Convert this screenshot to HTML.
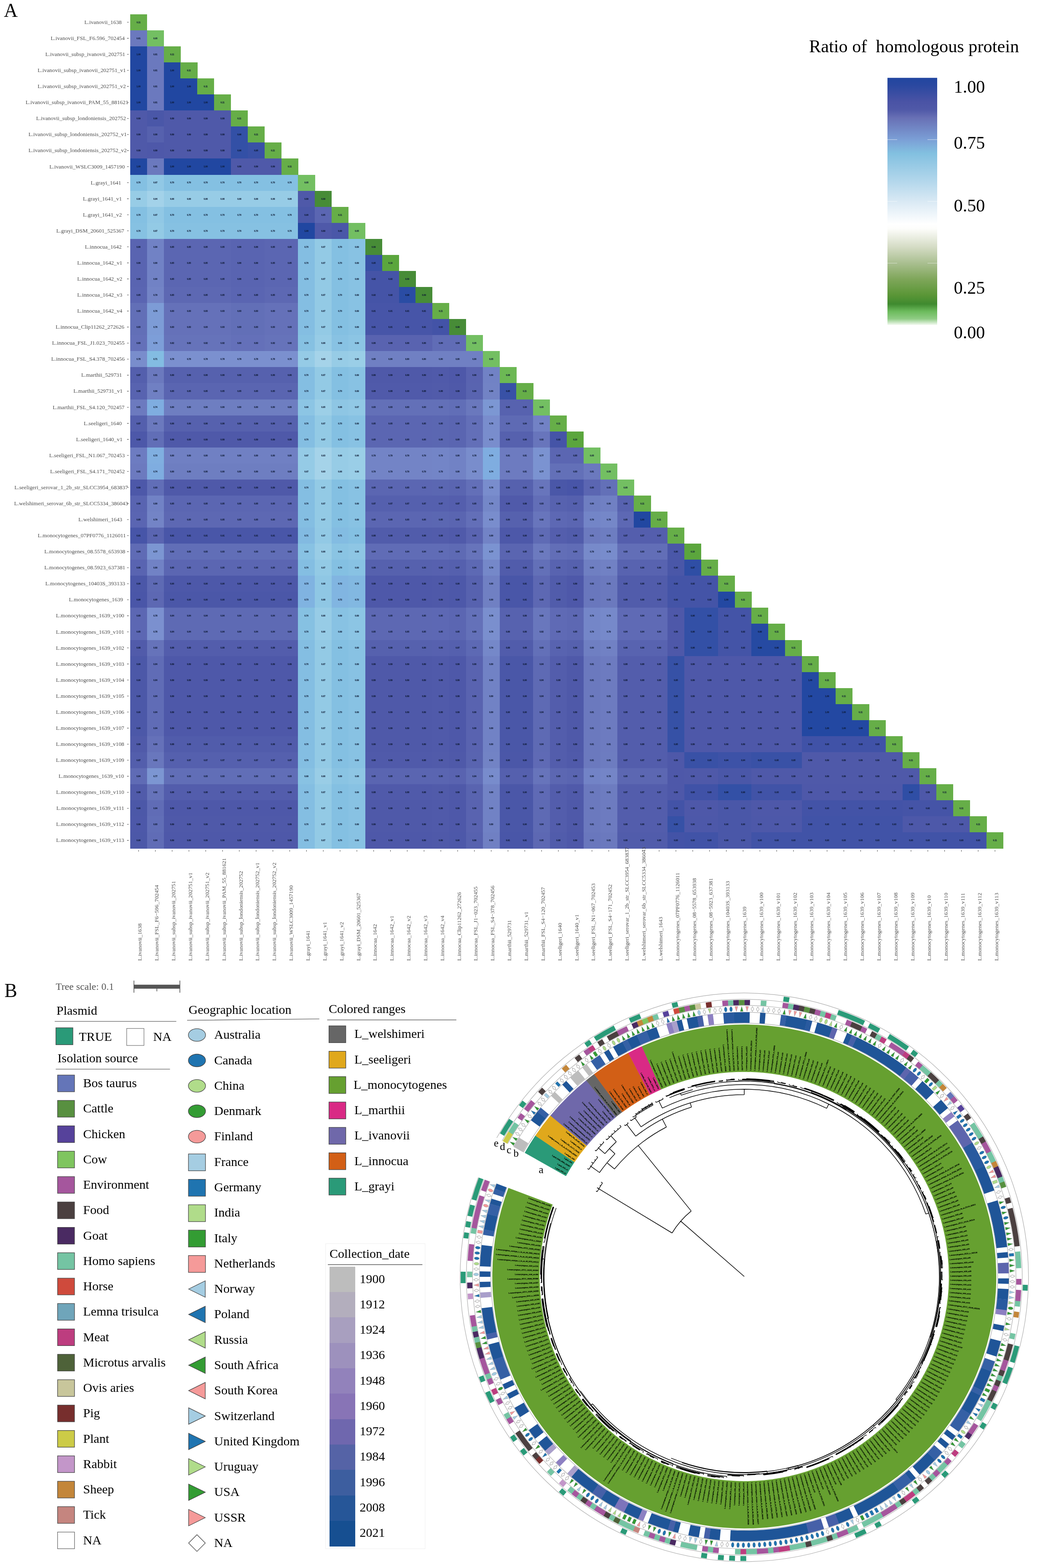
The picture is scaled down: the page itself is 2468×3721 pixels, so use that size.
<!DOCTYPE html>
<html lang="en"><head><meta charset="utf-8"><title>Listeria pan-genome figure</title>
<style>html,body{margin:0;padding:0;background:#fff}svg{display:block}</style></head><body>
<svg xmlns="http://www.w3.org/2000/svg" width="2468" height="3721" viewBox="0 0 2468 3721">
<rect width="2468" height="3721" fill="#fff"/>
<g font-family="'Liberation Serif','Times New Roman',serif" font-size="45.5" fill="#000">
<text x="9.3" y="39.5">A</text>
<text x="10.4" y="2366.3">B</text>
</g>
<g shape-rendering="crispEdges">
<rect x="308.9" y="33.8" width="40.1" height="38.4" fill="#66ae48"/>
<rect x="308.9" y="71.9" width="40.1" height="38.4" fill="#6b79be"/>
<rect x="348.8" y="71.9" width="40.1" height="38.4" fill="#73bf62"/>
<rect x="308.9" y="109.9" width="40.1" height="38.4" fill="#2147a1"/>
<rect x="348.8" y="109.9" width="40.1" height="38.4" fill="#6b79be"/>
<rect x="388.6" y="109.9" width="40.1" height="38.4" fill="#66ae48"/>
<rect x="308.9" y="148" width="40.1" height="38.4" fill="#2147a1"/>
<rect x="348.8" y="148" width="40.1" height="38.4" fill="#6b79be"/>
<rect x="388.6" y="148" width="40.1" height="38.4" fill="#2147a1"/>
<rect x="428.4" y="148" width="40.1" height="38.4" fill="#66ae48"/>
<rect x="308.9" y="186.1" width="40.1" height="38.4" fill="#2147a1"/>
<rect x="348.8" y="186.1" width="40.1" height="38.4" fill="#6b79be"/>
<rect x="388.6" y="186.1" width="80" height="38.4" fill="#2147a1"/>
<rect x="468.3" y="186.1" width="40.1" height="38.4" fill="#66ae48"/>
<rect x="308.9" y="224.1" width="40.1" height="38.4" fill="#2147a1"/>
<rect x="348.8" y="224.1" width="40.1" height="38.4" fill="#6b79be"/>
<rect x="388.6" y="224.1" width="119.8" height="38.4" fill="#2147a1"/>
<rect x="508.1" y="224.1" width="40.1" height="38.4" fill="#66ae48"/>
<rect x="308.9" y="262.2" width="40.1" height="38.4" fill="#4f59a9"/>
<rect x="348.8" y="262.2" width="40.1" height="38.4" fill="#4a57a8"/>
<rect x="388.6" y="262.2" width="159.7" height="38.4" fill="#4f59a9"/>
<rect x="548" y="262.2" width="40.1" height="38.4" fill="#66ae48"/>
<rect x="308.9" y="300.3" width="40.1" height="38.4" fill="#4f59a9"/>
<rect x="348.8" y="300.3" width="40.1" height="38.4" fill="#5661ae"/>
<rect x="388.6" y="300.3" width="159.7" height="38.4" fill="#4f59a9"/>
<rect x="548" y="300.3" width="40.1" height="38.4" fill="#3350a6"/>
<rect x="587.8" y="300.3" width="40.1" height="38.4" fill="#66ae48"/>
<rect x="308.9" y="338.4" width="40.1" height="38.4" fill="#4f59a9"/>
<rect x="348.8" y="338.4" width="40.1" height="38.4" fill="#4e58a9"/>
<rect x="388.6" y="338.4" width="159.7" height="38.4" fill="#4f59a9"/>
<rect x="548" y="338.4" width="40.1" height="38.4" fill="#3350a6"/>
<rect x="587.8" y="338.4" width="40.1" height="38.4" fill="#3951a6"/>
<rect x="627.7" y="338.4" width="40.1" height="38.4" fill="#66ae48"/>
<rect x="308.9" y="376.4" width="40.1" height="38.4" fill="#2147a1"/>
<rect x="348.8" y="376.4" width="40.1" height="38.4" fill="#6b79be"/>
<rect x="388.6" y="376.4" width="159.7" height="38.4" fill="#2147a1"/>
<rect x="548" y="376.4" width="119.8" height="38.4" fill="#4f59a9"/>
<rect x="667.5" y="376.4" width="40.1" height="38.4" fill="#66ae48"/>
<rect x="308.9" y="414.5" width="40.1" height="38.4" fill="#84c0e2"/>
<rect x="348.8" y="414.5" width="40.1" height="38.4" fill="#91c8e5"/>
<rect x="388.6" y="414.5" width="319.1" height="38.4" fill="#84c0e2"/>
<rect x="707.4" y="414.5" width="40.1" height="38.4" fill="#73bf62"/>
<rect x="308.9" y="452.6" width="40.1" height="38.4" fill="#97cce6"/>
<rect x="348.8" y="452.6" width="40.1" height="38.4" fill="#a3d2e9"/>
<rect x="388.6" y="452.6" width="319.1" height="38.4" fill="#97cce6"/>
<rect x="707.4" y="452.6" width="40.1" height="38.4" fill="#4f59a9"/>
<rect x="747.2" y="452.6" width="40.1" height="38.4" fill="#478c37"/>
<rect x="308.9" y="490.6" width="40.1" height="38.4" fill="#84c0e2"/>
<rect x="348.8" y="490.6" width="40.1" height="38.4" fill="#91c8e5"/>
<rect x="388.6" y="490.6" width="319.1" height="38.4" fill="#84c0e2"/>
<rect x="707.4" y="490.6" width="40.1" height="38.4" fill="#4a57a8"/>
<rect x="747.2" y="490.6" width="40.1" height="38.4" fill="#5b66b2"/>
<rect x="787.1" y="490.6" width="40.1" height="38.4" fill="#66ae48"/>
<rect x="308.9" y="528.7" width="40.1" height="38.4" fill="#86c1e2"/>
<rect x="348.8" y="528.7" width="40.1" height="38.4" fill="#93cae5"/>
<rect x="388.6" y="528.7" width="319.1" height="38.4" fill="#86c1e2"/>
<rect x="707.4" y="528.7" width="40.1" height="38.4" fill="#2147a1"/>
<rect x="747.2" y="528.7" width="40.1" height="38.4" fill="#4f59a9"/>
<rect x="787.1" y="528.7" width="40.1" height="38.4" fill="#4a57a8"/>
<rect x="826.9" y="528.7" width="40.1" height="38.4" fill="#73bf62"/>
<rect x="308.9" y="566.8" width="40.1" height="38.4" fill="#5964b1"/>
<rect x="348.8" y="566.8" width="40.1" height="38.4" fill="#7182c5"/>
<rect x="388.6" y="566.8" width="159.7" height="38.4" fill="#5b66b2"/>
<rect x="548" y="566.8" width="80" height="38.4" fill="#5964b1"/>
<rect x="627.7" y="566.8" width="80" height="38.4" fill="#5b66b2"/>
<rect x="707.4" y="566.8" width="40.1" height="38.4" fill="#84bee2"/>
<rect x="747.2" y="566.8" width="40.1" height="38.4" fill="#93cae5"/>
<rect x="787.1" y="566.8" width="40.1" height="38.4" fill="#84c0e2"/>
<rect x="826.9" y="566.8" width="40.1" height="38.4" fill="#88c2e3"/>
<rect x="866.8" y="566.8" width="40.1" height="38.4" fill="#478c37"/>
<rect x="308.9" y="604.8" width="40.1" height="38.4" fill="#5964b1"/>
<rect x="348.8" y="604.8" width="40.1" height="38.4" fill="#7182c5"/>
<rect x="388.6" y="604.8" width="159.7" height="38.4" fill="#5b66b2"/>
<rect x="548" y="604.8" width="80" height="38.4" fill="#5964b1"/>
<rect x="627.7" y="604.8" width="80" height="38.4" fill="#5b66b2"/>
<rect x="707.4" y="604.8" width="40.1" height="38.4" fill="#84bee2"/>
<rect x="747.2" y="604.8" width="40.1" height="38.4" fill="#93cae5"/>
<rect x="787.1" y="604.8" width="40.1" height="38.4" fill="#84c0e2"/>
<rect x="826.9" y="604.8" width="40.1" height="38.4" fill="#88c2e3"/>
<rect x="866.8" y="604.8" width="40.1" height="38.4" fill="#3851a6"/>
<rect x="906.6" y="604.8" width="40.1" height="38.4" fill="#5ba63d"/>
<rect x="308.9" y="642.9" width="40.1" height="38.4" fill="#5964b1"/>
<rect x="348.8" y="642.9" width="40.1" height="38.4" fill="#7182c5"/>
<rect x="388.6" y="642.9" width="159.7" height="38.4" fill="#5b66b2"/>
<rect x="548" y="642.9" width="80" height="38.4" fill="#5964b1"/>
<rect x="627.7" y="642.9" width="80" height="38.4" fill="#5b66b2"/>
<rect x="707.4" y="642.9" width="40.1" height="38.4" fill="#84bee2"/>
<rect x="747.2" y="642.9" width="40.1" height="38.4" fill="#93cae5"/>
<rect x="787.1" y="642.9" width="40.1" height="38.4" fill="#84c0e2"/>
<rect x="826.9" y="642.9" width="40.1" height="38.4" fill="#88c2e3"/>
<rect x="866.8" y="642.9" width="80" height="38.4" fill="#4554a7"/>
<rect x="946.5" y="642.9" width="40.1" height="38.4" fill="#478c37"/>
<rect x="308.9" y="681" width="40.1" height="38.4" fill="#5a65b2"/>
<rect x="348.8" y="681" width="40.1" height="38.4" fill="#7384c6"/>
<rect x="388.6" y="681" width="159.7" height="38.4" fill="#5d68b3"/>
<rect x="548" y="681" width="80" height="38.4" fill="#5a65b2"/>
<rect x="627.7" y="681" width="80" height="38.4" fill="#5d68b3"/>
<rect x="707.4" y="681" width="40.1" height="38.4" fill="#84bee2"/>
<rect x="747.2" y="681" width="40.1" height="38.4" fill="#93cae5"/>
<rect x="787.1" y="681" width="40.1" height="38.4" fill="#84c0e2"/>
<rect x="826.9" y="681" width="40.1" height="38.4" fill="#88c2e3"/>
<rect x="866.8" y="681" width="80" height="38.4" fill="#4554a7"/>
<rect x="946.5" y="681" width="40.1" height="38.4" fill="#2a4ca4"/>
<rect x="986.3" y="681" width="40.1" height="38.4" fill="#478c37"/>
<rect x="308.9" y="719" width="40.1" height="38.4" fill="#626fb7"/>
<rect x="348.8" y="719" width="40.1" height="38.4" fill="#7d9cd6"/>
<rect x="388.6" y="719" width="159.7" height="38.4" fill="#6571b9"/>
<rect x="548" y="719" width="80" height="38.4" fill="#626fb7"/>
<rect x="627.7" y="719" width="80" height="38.4" fill="#6571b9"/>
<rect x="707.4" y="719" width="40.1" height="38.4" fill="#84bee2"/>
<rect x="747.2" y="719" width="40.1" height="38.4" fill="#93cae5"/>
<rect x="787.1" y="719" width="40.1" height="38.4" fill="#84c0e2"/>
<rect x="826.9" y="719" width="40.1" height="38.4" fill="#88c2e3"/>
<rect x="866.8" y="719" width="159.7" height="38.4" fill="#4755a8"/>
<rect x="1026.2" y="719" width="40.1" height="38.4" fill="#66ae48"/>
<rect x="308.9" y="757.1" width="40.1" height="38.4" fill="#626fb7"/>
<rect x="348.8" y="757.1" width="40.1" height="38.4" fill="#7d9cd6"/>
<rect x="388.6" y="757.1" width="159.7" height="38.4" fill="#6571b9"/>
<rect x="548" y="757.1" width="80" height="38.4" fill="#626fb7"/>
<rect x="627.7" y="757.1" width="80" height="38.4" fill="#6571b9"/>
<rect x="707.4" y="757.1" width="40.1" height="38.4" fill="#84bee2"/>
<rect x="747.2" y="757.1" width="40.1" height="38.4" fill="#93cae5"/>
<rect x="787.1" y="757.1" width="40.1" height="38.4" fill="#84c0e2"/>
<rect x="826.9" y="757.1" width="40.1" height="38.4" fill="#88c2e3"/>
<rect x="866.8" y="757.1" width="159.7" height="38.4" fill="#4755a8"/>
<rect x="1026.2" y="757.1" width="40.1" height="38.4" fill="#4353a7"/>
<rect x="1066" y="757.1" width="40.1" height="38.4" fill="#478c37"/>
<rect x="308.9" y="795.2" width="40.1" height="38.4" fill="#6470b9"/>
<rect x="348.8" y="795.2" width="40.1" height="38.4" fill="#7d9ed8"/>
<rect x="388.6" y="795.2" width="159.7" height="38.4" fill="#6673ba"/>
<rect x="548" y="795.2" width="80" height="38.4" fill="#6470b9"/>
<rect x="627.7" y="795.2" width="80" height="38.4" fill="#6673ba"/>
<rect x="707.4" y="795.2" width="40.1" height="38.4" fill="#86c1e2"/>
<rect x="747.2" y="795.2" width="40.1" height="38.4" fill="#97cce6"/>
<rect x="787.1" y="795.2" width="40.1" height="38.4" fill="#88c2e3"/>
<rect x="826.9" y="795.2" width="40.1" height="38.4" fill="#8cc5e4"/>
<rect x="866.8" y="795.2" width="159.7" height="38.4" fill="#5963b0"/>
<rect x="1026.2" y="795.2" width="80" height="38.4" fill="#606cb6"/>
<rect x="1105.9" y="795.2" width="40.1" height="38.4" fill="#73bf62"/>
<rect x="308.9" y="833.3" width="40.1" height="38.4" fill="#798dcc"/>
<rect x="348.8" y="833.3" width="40.1" height="38.4" fill="#83bce2"/>
<rect x="388.6" y="833.3" width="319.1" height="38.4" fill="#7b90cf"/>
<rect x="707.4" y="833.3" width="40.1" height="38.4" fill="#95cbe6"/>
<rect x="747.2" y="833.3" width="40.1" height="38.4" fill="#a5d3e9"/>
<rect x="787.1" y="833.3" width="40.1" height="38.4" fill="#97cce6"/>
<rect x="826.9" y="833.3" width="40.1" height="38.4" fill="#9acee7"/>
<rect x="866.8" y="833.3" width="279.2" height="38.4" fill="#7080c3"/>
<rect x="1145.8" y="833.3" width="40.1" height="38.4" fill="#73bf62"/>
<rect x="308.9" y="871.3" width="40.1" height="38.4" fill="#545fad"/>
<rect x="348.8" y="871.3" width="40.1" height="38.4" fill="#6b79be"/>
<rect x="388.6" y="871.3" width="319.1" height="38.4" fill="#5661ae"/>
<rect x="707.4" y="871.3" width="40.1" height="38.4" fill="#84bee2"/>
<rect x="747.2" y="871.3" width="40.1" height="38.4" fill="#93cae5"/>
<rect x="787.1" y="871.3" width="40.1" height="38.4" fill="#84c0e2"/>
<rect x="826.9" y="871.3" width="40.1" height="38.4" fill="#88c2e3"/>
<rect x="866.8" y="871.3" width="159.7" height="38.4" fill="#4f59a9"/>
<rect x="1026.2" y="871.3" width="40.1" height="38.4" fill="#505aaa"/>
<rect x="1066" y="871.3" width="40.1" height="38.4" fill="#4e58a9"/>
<rect x="1105.9" y="871.3" width="40.1" height="38.4" fill="#5963b0"/>
<rect x="1145.8" y="871.3" width="40.1" height="38.4" fill="#7182c5"/>
<rect x="1185.6" y="871.3" width="40.1" height="38.4" fill="#6cb854"/>
<rect x="308.9" y="909.4" width="40.1" height="38.4" fill="#5863b0"/>
<rect x="348.8" y="909.4" width="40.1" height="38.4" fill="#7080c3"/>
<rect x="388.6" y="909.4" width="319.1" height="38.4" fill="#5a65b1"/>
<rect x="707.4" y="909.4" width="40.1" height="38.4" fill="#84bee2"/>
<rect x="747.2" y="909.4" width="40.1" height="38.4" fill="#93cae5"/>
<rect x="787.1" y="909.4" width="40.1" height="38.4" fill="#84c0e2"/>
<rect x="826.9" y="909.4" width="40.1" height="38.4" fill="#88c2e3"/>
<rect x="866.8" y="909.4" width="159.7" height="38.4" fill="#505aaa"/>
<rect x="1026.2" y="909.4" width="40.1" height="38.4" fill="#515baa"/>
<rect x="1066" y="909.4" width="40.1" height="38.4" fill="#4f59a9"/>
<rect x="1105.9" y="909.4" width="40.1" height="38.4" fill="#5964b0"/>
<rect x="1145.8" y="909.4" width="40.1" height="38.4" fill="#7283c5"/>
<rect x="1185.6" y="909.4" width="40.1" height="38.4" fill="#3851a6"/>
<rect x="1225.4" y="909.4" width="40.1" height="38.4" fill="#66ae48"/>
<rect x="308.9" y="947.5" width="40.1" height="38.4" fill="#6c7abf"/>
<rect x="348.8" y="947.5" width="40.1" height="38.4" fill="#7fade0"/>
<rect x="388.6" y="947.5" width="319.1" height="38.4" fill="#6e7ec1"/>
<rect x="707.4" y="947.5" width="40.1" height="38.4" fill="#8cc5e4"/>
<rect x="747.2" y="947.5" width="40.1" height="38.4" fill="#9ccfe7"/>
<rect x="787.1" y="947.5" width="40.1" height="38.4" fill="#8ec6e4"/>
<rect x="826.9" y="947.5" width="40.1" height="38.4" fill="#91c8e5"/>
<rect x="866.8" y="947.5" width="199.5" height="38.4" fill="#6370b8"/>
<rect x="1066" y="947.5" width="40.1" height="38.4" fill="#616eb7"/>
<rect x="1105.9" y="947.5" width="40.1" height="38.4" fill="#6a78bd"/>
<rect x="1145.8" y="947.5" width="40.1" height="38.4" fill="#7c97d3"/>
<rect x="1185.6" y="947.5" width="80" height="38.4" fill="#5762af"/>
<rect x="1265.3" y="947.5" width="40.1" height="38.4" fill="#73bf62"/>
<rect x="308.9" y="985.5" width="40.1" height="38.4" fill="#545fad"/>
<rect x="348.8" y="985.5" width="40.1" height="38.4" fill="#6b79be"/>
<rect x="388.6" y="985.5" width="319.1" height="38.4" fill="#5661ae"/>
<rect x="707.4" y="985.5" width="40.1" height="38.4" fill="#84bee2"/>
<rect x="747.2" y="985.5" width="40.1" height="38.4" fill="#93cae5"/>
<rect x="787.1" y="985.5" width="40.1" height="38.4" fill="#84c0e2"/>
<rect x="826.9" y="985.5" width="40.1" height="38.4" fill="#88c2e3"/>
<rect x="866.8" y="985.5" width="159.7" height="38.4" fill="#5b66b2"/>
<rect x="1026.2" y="985.5" width="40.1" height="38.4" fill="#5b67b2"/>
<rect x="1066" y="985.5" width="40.1" height="38.4" fill="#5a65b1"/>
<rect x="1105.9" y="985.5" width="40.1" height="38.4" fill="#636fb8"/>
<rect x="1145.8" y="985.5" width="40.1" height="38.4" fill="#798dcd"/>
<rect x="1185.6" y="985.5" width="80" height="38.4" fill="#5e6ab4"/>
<rect x="1265.3" y="985.5" width="40.1" height="38.4" fill="#7282c5"/>
<rect x="1305.1" y="985.5" width="40.1" height="38.4" fill="#66ae48"/>
<rect x="308.9" y="1023.6" width="40.1" height="38.4" fill="#4d58a9"/>
<rect x="348.8" y="1023.6" width="40.1" height="38.4" fill="#616eb7"/>
<rect x="388.6" y="1023.6" width="319.1" height="38.4" fill="#4f59a9"/>
<rect x="707.4" y="1023.6" width="40.1" height="38.4" fill="#84bee2"/>
<rect x="747.2" y="1023.6" width="40.1" height="38.4" fill="#93cae5"/>
<rect x="787.1" y="1023.6" width="40.1" height="38.4" fill="#84c0e2"/>
<rect x="826.9" y="1023.6" width="40.1" height="38.4" fill="#88c2e3"/>
<rect x="866.8" y="1023.6" width="159.7" height="38.4" fill="#5b66b2"/>
<rect x="1026.2" y="1023.6" width="40.1" height="38.4" fill="#5b67b2"/>
<rect x="1066" y="1023.6" width="40.1" height="38.4" fill="#5a65b1"/>
<rect x="1105.9" y="1023.6" width="40.1" height="38.4" fill="#636fb8"/>
<rect x="1145.8" y="1023.6" width="40.1" height="38.4" fill="#798dcd"/>
<rect x="1185.6" y="1023.6" width="80" height="38.4" fill="#5661ae"/>
<rect x="1265.3" y="1023.6" width="40.1" height="38.4" fill="#6875bc"/>
<rect x="1305.1" y="1023.6" width="40.1" height="38.4" fill="#4554a7"/>
<rect x="1345" y="1023.6" width="40.1" height="38.4" fill="#5ba63d"/>
<rect x="308.9" y="1061.7" width="40.1" height="38.4" fill="#6d7cc1"/>
<rect x="348.8" y="1061.7" width="40.1" height="38.4" fill="#80afe0"/>
<rect x="388.6" y="1061.7" width="319.1" height="38.4" fill="#7080c3"/>
<rect x="707.4" y="1061.7" width="40.1" height="38.4" fill="#95cbe6"/>
<rect x="747.2" y="1061.7" width="40.1" height="38.4" fill="#a5d3e9"/>
<rect x="787.1" y="1061.7" width="40.1" height="38.4" fill="#97cce6"/>
<rect x="826.9" y="1061.7" width="40.1" height="38.4" fill="#9acee7"/>
<rect x="866.8" y="1061.7" width="159.7" height="38.4" fill="#7384c6"/>
<rect x="1026.2" y="1061.7" width="40.1" height="38.4" fill="#7385c7"/>
<rect x="1066" y="1061.7" width="40.1" height="38.4" fill="#7182c5"/>
<rect x="1105.9" y="1061.7" width="40.1" height="38.4" fill="#798dcc"/>
<rect x="1145.8" y="1061.7" width="40.1" height="38.4" fill="#7fade0"/>
<rect x="1185.6" y="1061.7" width="80" height="38.4" fill="#6d7bc0"/>
<rect x="1265.3" y="1061.7" width="40.1" height="38.4" fill="#7b93d1"/>
<rect x="1305.1" y="1061.7" width="80" height="38.4" fill="#5b66b2"/>
<rect x="1384.8" y="1061.7" width="40.1" height="38.4" fill="#73bf62"/>
<rect x="308.9" y="1099.7" width="40.1" height="38.4" fill="#6c7abf"/>
<rect x="348.8" y="1099.7" width="40.1" height="38.4" fill="#7fade0"/>
<rect x="388.6" y="1099.7" width="319.1" height="38.4" fill="#6e7ec1"/>
<rect x="707.4" y="1099.7" width="40.1" height="38.4" fill="#95cbe6"/>
<rect x="747.2" y="1099.7" width="40.1" height="38.4" fill="#a5d3e9"/>
<rect x="787.1" y="1099.7" width="40.1" height="38.4" fill="#97cce6"/>
<rect x="826.9" y="1099.7" width="40.1" height="38.4" fill="#9acee7"/>
<rect x="866.8" y="1099.7" width="159.7" height="38.4" fill="#7384c6"/>
<rect x="1026.2" y="1099.7" width="40.1" height="38.4" fill="#7385c7"/>
<rect x="1066" y="1099.7" width="40.1" height="38.4" fill="#7182c5"/>
<rect x="1105.9" y="1099.7" width="40.1" height="38.4" fill="#798dcc"/>
<rect x="1145.8" y="1099.7" width="40.1" height="38.4" fill="#7fade0"/>
<rect x="1185.6" y="1099.7" width="80" height="38.4" fill="#6d7bc0"/>
<rect x="1265.3" y="1099.7" width="40.1" height="38.4" fill="#7b93d1"/>
<rect x="1305.1" y="1099.7" width="80" height="38.4" fill="#6370b8"/>
<rect x="1384.8" y="1099.7" width="40.1" height="38.4" fill="#6b79be"/>
<rect x="1424.7" y="1099.7" width="40.1" height="38.4" fill="#73bf62"/>
<rect x="308.9" y="1137.8" width="40.1" height="38.4" fill="#4d58a9"/>
<rect x="348.8" y="1137.8" width="40.1" height="38.4" fill="#616eb7"/>
<rect x="388.6" y="1137.8" width="319.1" height="38.4" fill="#4f59a9"/>
<rect x="707.4" y="1137.8" width="40.1" height="38.4" fill="#84bee2"/>
<rect x="747.2" y="1137.8" width="40.1" height="38.4" fill="#93cae5"/>
<rect x="787.1" y="1137.8" width="40.1" height="38.4" fill="#84c0e2"/>
<rect x="826.9" y="1137.8" width="40.1" height="38.4" fill="#88c2e3"/>
<rect x="866.8" y="1137.8" width="159.7" height="38.4" fill="#5b66b2"/>
<rect x="1026.2" y="1137.8" width="40.1" height="38.4" fill="#5b67b2"/>
<rect x="1066" y="1137.8" width="40.1" height="38.4" fill="#5a65b1"/>
<rect x="1105.9" y="1137.8" width="40.1" height="38.4" fill="#636fb8"/>
<rect x="1145.8" y="1137.8" width="40.1" height="38.4" fill="#798dcd"/>
<rect x="1185.6" y="1137.8" width="80" height="38.4" fill="#5661ae"/>
<rect x="1265.3" y="1137.8" width="40.1" height="38.4" fill="#6875bc"/>
<rect x="1305.1" y="1137.8" width="40.1" height="38.4" fill="#4a57a8"/>
<rect x="1345" y="1137.8" width="40.1" height="38.4" fill="#4855a8"/>
<rect x="1384.8" y="1137.8" width="40.1" height="38.4" fill="#5b66b2"/>
<rect x="1424.7" y="1137.8" width="40.1" height="38.4" fill="#6370b8"/>
<rect x="1464.5" y="1137.8" width="40.1" height="38.4" fill="#73bf62"/>
<rect x="308.9" y="1175.9" width="40.1" height="38.4" fill="#5964b1"/>
<rect x="348.8" y="1175.9" width="40.1" height="38.4" fill="#7182c5"/>
<rect x="388.6" y="1175.9" width="319.1" height="38.4" fill="#5b66b2"/>
<rect x="707.4" y="1175.9" width="40.1" height="38.4" fill="#84bee2"/>
<rect x="747.2" y="1175.9" width="40.1" height="38.4" fill="#93cae5"/>
<rect x="787.1" y="1175.9" width="40.1" height="38.4" fill="#84c0e2"/>
<rect x="826.9" y="1175.9" width="40.1" height="38.4" fill="#88c2e3"/>
<rect x="866.8" y="1175.9" width="199.5" height="38.4" fill="#5560ae"/>
<rect x="1066" y="1175.9" width="40.1" height="38.4" fill="#545ead"/>
<rect x="1105.9" y="1175.9" width="40.1" height="38.4" fill="#5c67b3"/>
<rect x="1145.8" y="1175.9" width="40.1" height="38.4" fill="#7487c8"/>
<rect x="1185.6" y="1175.9" width="80" height="38.4" fill="#505aaa"/>
<rect x="1265.3" y="1175.9" width="40.1" height="38.4" fill="#626eb7"/>
<rect x="1305.1" y="1175.9" width="40.1" height="38.4" fill="#5762af"/>
<rect x="1345" y="1175.9" width="40.1" height="38.4" fill="#5560ae"/>
<rect x="1384.8" y="1175.9" width="40.1" height="38.4" fill="#6e7ec1"/>
<rect x="1424.7" y="1175.9" width="40.1" height="38.4" fill="#7080c3"/>
<rect x="1464.5" y="1175.9" width="40.1" height="38.4" fill="#5762af"/>
<rect x="1504.4" y="1175.9" width="40.1" height="38.4" fill="#66ae48"/>
<rect x="308.9" y="1213.9" width="40.1" height="38.4" fill="#5a65b2"/>
<rect x="348.8" y="1213.9" width="40.1" height="38.4" fill="#7384c6"/>
<rect x="388.6" y="1213.9" width="319.1" height="38.4" fill="#5d68b3"/>
<rect x="707.4" y="1213.9" width="40.1" height="38.4" fill="#84bee2"/>
<rect x="747.2" y="1213.9" width="40.1" height="38.4" fill="#93cae5"/>
<rect x="787.1" y="1213.9" width="40.1" height="38.4" fill="#84c0e2"/>
<rect x="826.9" y="1213.9" width="40.1" height="38.4" fill="#88c2e3"/>
<rect x="866.8" y="1213.9" width="159.7" height="38.4" fill="#5b66b2"/>
<rect x="1026.2" y="1213.9" width="40.1" height="38.4" fill="#5b67b2"/>
<rect x="1066" y="1213.9" width="40.1" height="38.4" fill="#5a65b1"/>
<rect x="1105.9" y="1213.9" width="40.1" height="38.4" fill="#636fb8"/>
<rect x="1145.8" y="1213.9" width="40.1" height="38.4" fill="#798dcd"/>
<rect x="1185.6" y="1213.9" width="80" height="38.4" fill="#5661ae"/>
<rect x="1265.3" y="1213.9" width="40.1" height="38.4" fill="#6875bc"/>
<rect x="1305.1" y="1213.9" width="40.1" height="38.4" fill="#5d68b4"/>
<rect x="1345" y="1213.9" width="40.1" height="38.4" fill="#5b66b2"/>
<rect x="1384.8" y="1213.9" width="40.1" height="38.4" fill="#7385c7"/>
<rect x="1424.7" y="1213.9" width="40.1" height="38.4" fill="#7587c8"/>
<rect x="1464.5" y="1213.9" width="40.1" height="38.4" fill="#5d68b4"/>
<rect x="1504.4" y="1213.9" width="40.1" height="38.4" fill="#2147a1"/>
<rect x="1544.2" y="1213.9" width="40.1" height="38.4" fill="#66ae48"/>
<rect x="308.9" y="1252" width="40.1" height="38.4" fill="#4755a8"/>
<rect x="348.8" y="1252" width="40.1" height="38.4" fill="#5a65b1"/>
<rect x="388.6" y="1252" width="319.1" height="38.4" fill="#4956a8"/>
<rect x="707.4" y="1252" width="40.1" height="38.4" fill="#82bae1"/>
<rect x="747.2" y="1252" width="40.1" height="38.4" fill="#92c9e5"/>
<rect x="787.1" y="1252" width="40.1" height="38.4" fill="#83bce2"/>
<rect x="826.9" y="1252" width="40.1" height="38.4" fill="#84c0e2"/>
<rect x="866.8" y="1252" width="159.7" height="38.4" fill="#515cab"/>
<rect x="1026.2" y="1252" width="40.1" height="38.4" fill="#525cab"/>
<rect x="1066" y="1252" width="40.1" height="38.4" fill="#505aaa"/>
<rect x="1105.9" y="1252" width="40.1" height="38.4" fill="#5a64b1"/>
<rect x="1145.8" y="1252" width="40.1" height="38.4" fill="#7283c6"/>
<rect x="1185.6" y="1252" width="80" height="38.4" fill="#4d58a9"/>
<rect x="1265.3" y="1252" width="40.1" height="38.4" fill="#5f6bb5"/>
<rect x="1305.1" y="1252" width="40.1" height="38.4" fill="#545ead"/>
<rect x="1345" y="1252" width="40.1" height="38.4" fill="#515cab"/>
<rect x="1384.8" y="1252" width="40.1" height="38.4" fill="#6c7abf"/>
<rect x="1424.7" y="1252" width="40.1" height="38.4" fill="#6d7dc1"/>
<rect x="1464.5" y="1252" width="119.8" height="38.4" fill="#545ead"/>
<rect x="1584.1" y="1252" width="40.1" height="38.4" fill="#66ae48"/>
<rect x="308.9" y="1290.1" width="40.1" height="38.4" fill="#5f6bb5"/>
<rect x="348.8" y="1290.1" width="40.1" height="38.4" fill="#7c96d2"/>
<rect x="388.6" y="1290.1" width="319.1" height="38.4" fill="#616eb7"/>
<rect x="707.4" y="1290.1" width="40.1" height="38.4" fill="#88c2e3"/>
<rect x="747.2" y="1290.1" width="40.1" height="38.4" fill="#99cde6"/>
<rect x="787.1" y="1290.1" width="40.1" height="38.4" fill="#8ac4e3"/>
<rect x="826.9" y="1290.1" width="40.1" height="38.4" fill="#8ec6e4"/>
<rect x="866.8" y="1290.1" width="199.5" height="38.4" fill="#606cb6"/>
<rect x="1066" y="1290.1" width="40.1" height="38.4" fill="#5e6ab4"/>
<rect x="1105.9" y="1290.1" width="40.1" height="38.4" fill="#6774bb"/>
<rect x="1145.8" y="1290.1" width="40.1" height="38.4" fill="#7b93d1"/>
<rect x="1185.6" y="1290.1" width="80" height="38.4" fill="#5a65b1"/>
<rect x="1265.3" y="1290.1" width="40.1" height="38.4" fill="#6c7abf"/>
<rect x="1305.1" y="1290.1" width="40.1" height="38.4" fill="#626eb7"/>
<rect x="1345" y="1290.1" width="40.1" height="38.4" fill="#606cb6"/>
<rect x="1384.8" y="1290.1" width="40.1" height="38.4" fill="#778aca"/>
<rect x="1424.7" y="1290.1" width="40.1" height="38.4" fill="#788ccc"/>
<rect x="1464.5" y="1290.1" width="119.8" height="38.4" fill="#626eb7"/>
<rect x="1584.1" y="1290.1" width="40.1" height="38.4" fill="#4a57a8"/>
<rect x="1623.9" y="1290.1" width="40.1" height="38.4" fill="#5ba63d"/>
<rect x="308.9" y="1328.2" width="40.1" height="38.4" fill="#5964b1"/>
<rect x="348.8" y="1328.2" width="40.1" height="38.4" fill="#7182c5"/>
<rect x="388.6" y="1328.2" width="319.1" height="38.4" fill="#5b66b2"/>
<rect x="707.4" y="1328.2" width="40.1" height="38.4" fill="#84bee2"/>
<rect x="747.2" y="1328.2" width="40.1" height="38.4" fill="#93cae5"/>
<rect x="787.1" y="1328.2" width="40.1" height="38.4" fill="#84c0e2"/>
<rect x="826.9" y="1328.2" width="40.1" height="38.4" fill="#88c2e3"/>
<rect x="866.8" y="1328.2" width="159.7" height="38.4" fill="#5661ae"/>
<rect x="1026.2" y="1328.2" width="40.1" height="38.4" fill="#5761af"/>
<rect x="1066" y="1328.2" width="40.1" height="38.4" fill="#5560ae"/>
<rect x="1105.9" y="1328.2" width="40.1" height="38.4" fill="#5d69b4"/>
<rect x="1145.8" y="1328.2" width="40.1" height="38.4" fill="#7588c9"/>
<rect x="1185.6" y="1328.2" width="80" height="38.4" fill="#515cab"/>
<rect x="1265.3" y="1328.2" width="40.1" height="38.4" fill="#6370b8"/>
<rect x="1305.1" y="1328.2" width="40.1" height="38.4" fill="#5863b0"/>
<rect x="1345" y="1328.2" width="40.1" height="38.4" fill="#5661ae"/>
<rect x="1384.8" y="1328.2" width="40.1" height="38.4" fill="#6f7fc2"/>
<rect x="1424.7" y="1328.2" width="40.1" height="38.4" fill="#7181c4"/>
<rect x="1464.5" y="1328.2" width="119.8" height="38.4" fill="#5863b0"/>
<rect x="1584.1" y="1328.2" width="40.1" height="38.4" fill="#4a57a8"/>
<rect x="1623.9" y="1328.2" width="40.1" height="38.4" fill="#2f4ea5"/>
<rect x="1663.8" y="1328.2" width="40.1" height="38.4" fill="#66ae48"/>
<rect x="308.9" y="1366.2" width="40.1" height="38.4" fill="#4b57a8"/>
<rect x="348.8" y="1366.2" width="40.1" height="38.4" fill="#5e6ab4"/>
<rect x="388.6" y="1366.2" width="319.1" height="38.4" fill="#4d58a9"/>
<rect x="707.4" y="1366.2" width="40.1" height="38.4" fill="#80b3e1"/>
<rect x="747.2" y="1366.2" width="40.1" height="38.4" fill="#8fc7e4"/>
<rect x="787.1" y="1366.2" width="40.1" height="38.4" fill="#81b5e1"/>
<rect x="826.9" y="1366.2" width="40.1" height="38.4" fill="#82b8e1"/>
<rect x="866.8" y="1366.2" width="159.7" height="38.4" fill="#4e58a9"/>
<rect x="1026.2" y="1366.2" width="40.1" height="38.4" fill="#4f59a9"/>
<rect x="1066" y="1366.2" width="40.1" height="38.4" fill="#4d58a9"/>
<rect x="1105.9" y="1366.2" width="40.1" height="38.4" fill="#5762af"/>
<rect x="1145.8" y="1366.2" width="40.1" height="38.4" fill="#7080c3"/>
<rect x="1185.6" y="1366.2" width="80" height="38.4" fill="#4956a8"/>
<rect x="1265.3" y="1366.2" width="40.1" height="38.4" fill="#5d68b3"/>
<rect x="1305.1" y="1366.2" width="40.1" height="38.4" fill="#515cab"/>
<rect x="1345" y="1366.2" width="40.1" height="38.4" fill="#4e58a9"/>
<rect x="1384.8" y="1366.2" width="40.1" height="38.4" fill="#6977bd"/>
<rect x="1424.7" y="1366.2" width="40.1" height="38.4" fill="#6b79be"/>
<rect x="1464.5" y="1366.2" width="119.8" height="38.4" fill="#515cab"/>
<rect x="1584.1" y="1366.2" width="119.8" height="38.4" fill="#4454a7"/>
<rect x="1703.6" y="1366.2" width="40.1" height="38.4" fill="#66ae48"/>
<rect x="308.9" y="1404.3" width="40.1" height="38.4" fill="#4a56a8"/>
<rect x="348.8" y="1404.3" width="40.1" height="38.4" fill="#5d68b3"/>
<rect x="388.6" y="1404.3" width="319.1" height="38.4" fill="#4b57a8"/>
<rect x="707.4" y="1404.3" width="40.1" height="38.4" fill="#80b3e1"/>
<rect x="747.2" y="1404.3" width="40.1" height="38.4" fill="#8fc7e4"/>
<rect x="787.1" y="1404.3" width="40.1" height="38.4" fill="#81b5e1"/>
<rect x="826.9" y="1404.3" width="40.1" height="38.4" fill="#82b8e1"/>
<rect x="866.8" y="1404.3" width="159.7" height="38.4" fill="#4e58a9"/>
<rect x="1026.2" y="1404.3" width="40.1" height="38.4" fill="#4f59a9"/>
<rect x="1066" y="1404.3" width="40.1" height="38.4" fill="#4d58a9"/>
<rect x="1105.9" y="1404.3" width="40.1" height="38.4" fill="#5762af"/>
<rect x="1145.8" y="1404.3" width="40.1" height="38.4" fill="#7080c3"/>
<rect x="1185.6" y="1404.3" width="80" height="38.4" fill="#4956a8"/>
<rect x="1265.3" y="1404.3" width="40.1" height="38.4" fill="#5d68b3"/>
<rect x="1305.1" y="1404.3" width="40.1" height="38.4" fill="#515cab"/>
<rect x="1345" y="1404.3" width="40.1" height="38.4" fill="#4e58a9"/>
<rect x="1384.8" y="1404.3" width="40.1" height="38.4" fill="#6977bd"/>
<rect x="1424.7" y="1404.3" width="40.1" height="38.4" fill="#6b79be"/>
<rect x="1464.5" y="1404.3" width="119.8" height="38.4" fill="#515cab"/>
<rect x="1584.1" y="1404.3" width="119.8" height="38.4" fill="#4454a7"/>
<rect x="1703.6" y="1404.3" width="40.1" height="38.4" fill="#2348a2"/>
<rect x="1743.5" y="1404.3" width="40.1" height="38.4" fill="#66ae48"/>
<rect x="308.9" y="1442.4" width="40.1" height="38.4" fill="#5c67b3"/>
<rect x="348.8" y="1442.4" width="40.1" height="38.4" fill="#7b90cf"/>
<rect x="388.6" y="1442.4" width="319.1" height="38.4" fill="#5e6ab4"/>
<rect x="707.4" y="1442.4" width="40.1" height="38.4" fill="#86c1e2"/>
<rect x="747.2" y="1442.4" width="40.1" height="38.4" fill="#97cce6"/>
<rect x="787.1" y="1442.4" width="40.1" height="38.4" fill="#88c2e3"/>
<rect x="826.9" y="1442.4" width="40.1" height="38.4" fill="#8cc5e4"/>
<rect x="866.8" y="1442.4" width="159.7" height="38.4" fill="#5d68b3"/>
<rect x="1026.2" y="1442.4" width="40.1" height="38.4" fill="#5d68b4"/>
<rect x="1066" y="1442.4" width="40.1" height="38.4" fill="#5b66b2"/>
<rect x="1105.9" y="1442.4" width="40.1" height="38.4" fill="#6471b9"/>
<rect x="1145.8" y="1442.4" width="40.1" height="38.4" fill="#7a8fce"/>
<rect x="1185.6" y="1442.4" width="80" height="38.4" fill="#5762af"/>
<rect x="1265.3" y="1442.4" width="40.1" height="38.4" fill="#6977bd"/>
<rect x="1305.1" y="1442.4" width="40.1" height="38.4" fill="#5f6ab5"/>
<rect x="1345" y="1442.4" width="40.1" height="38.4" fill="#5d68b3"/>
<rect x="1384.8" y="1442.4" width="40.1" height="38.4" fill="#7486c8"/>
<rect x="1424.7" y="1442.4" width="40.1" height="38.4" fill="#7689ca"/>
<rect x="1464.5" y="1442.4" width="119.8" height="38.4" fill="#5f6ab5"/>
<rect x="1584.1" y="1442.4" width="40.1" height="38.4" fill="#4e58a9"/>
<rect x="1623.9" y="1442.4" width="80" height="38.4" fill="#3350a6"/>
<rect x="1703.6" y="1442.4" width="80" height="38.4" fill="#4454a7"/>
<rect x="1783.3" y="1442.4" width="40.1" height="38.4" fill="#66ae48"/>
<rect x="308.9" y="1480.4" width="40.1" height="38.4" fill="#5c67b3"/>
<rect x="348.8" y="1480.4" width="40.1" height="38.4" fill="#7b90cf"/>
<rect x="388.6" y="1480.4" width="319.1" height="38.4" fill="#5e6ab4"/>
<rect x="707.4" y="1480.4" width="40.1" height="38.4" fill="#86c1e2"/>
<rect x="747.2" y="1480.4" width="40.1" height="38.4" fill="#97cce6"/>
<rect x="787.1" y="1480.4" width="40.1" height="38.4" fill="#88c2e3"/>
<rect x="826.9" y="1480.4" width="40.1" height="38.4" fill="#8cc5e4"/>
<rect x="866.8" y="1480.4" width="159.7" height="38.4" fill="#5d68b3"/>
<rect x="1026.2" y="1480.4" width="40.1" height="38.4" fill="#5d68b4"/>
<rect x="1066" y="1480.4" width="40.1" height="38.4" fill="#5b66b2"/>
<rect x="1105.9" y="1480.4" width="40.1" height="38.4" fill="#6471b9"/>
<rect x="1145.8" y="1480.4" width="40.1" height="38.4" fill="#7a8fce"/>
<rect x="1185.6" y="1480.4" width="80" height="38.4" fill="#5762af"/>
<rect x="1265.3" y="1480.4" width="40.1" height="38.4" fill="#6977bd"/>
<rect x="1305.1" y="1480.4" width="40.1" height="38.4" fill="#5f6ab5"/>
<rect x="1345" y="1480.4" width="40.1" height="38.4" fill="#5d68b3"/>
<rect x="1384.8" y="1480.4" width="40.1" height="38.4" fill="#7486c8"/>
<rect x="1424.7" y="1480.4" width="40.1" height="38.4" fill="#7689ca"/>
<rect x="1464.5" y="1480.4" width="119.8" height="38.4" fill="#5f6ab5"/>
<rect x="1584.1" y="1480.4" width="40.1" height="38.4" fill="#4e58a9"/>
<rect x="1623.9" y="1480.4" width="80" height="38.4" fill="#3350a6"/>
<rect x="1703.6" y="1480.4" width="80" height="38.4" fill="#4454a7"/>
<rect x="1783.3" y="1480.4" width="40.1" height="38.4" fill="#264aa2"/>
<rect x="1823.2" y="1480.4" width="40.1" height="38.4" fill="#66ae48"/>
<rect x="308.9" y="1518.5" width="40.1" height="38.4" fill="#515baa"/>
<rect x="348.8" y="1518.5" width="40.1" height="38.4" fill="#6673ba"/>
<rect x="388.6" y="1518.5" width="319.1" height="38.4" fill="#535dac"/>
<rect x="707.4" y="1518.5" width="40.1" height="38.4" fill="#84bee2"/>
<rect x="747.2" y="1518.5" width="40.1" height="38.4" fill="#93cae5"/>
<rect x="787.1" y="1518.5" width="40.1" height="38.4" fill="#84c0e2"/>
<rect x="826.9" y="1518.5" width="40.1" height="38.4" fill="#88c2e3"/>
<rect x="866.8" y="1518.5" width="159.7" height="38.4" fill="#5661ae"/>
<rect x="1026.2" y="1518.5" width="40.1" height="38.4" fill="#5761af"/>
<rect x="1066" y="1518.5" width="40.1" height="38.4" fill="#5560ae"/>
<rect x="1105.9" y="1518.5" width="40.1" height="38.4" fill="#5d69b4"/>
<rect x="1145.8" y="1518.5" width="40.1" height="38.4" fill="#7588c9"/>
<rect x="1185.6" y="1518.5" width="80" height="38.4" fill="#515cab"/>
<rect x="1265.3" y="1518.5" width="40.1" height="38.4" fill="#6370b8"/>
<rect x="1305.1" y="1518.5" width="40.1" height="38.4" fill="#5863b0"/>
<rect x="1345" y="1518.5" width="40.1" height="38.4" fill="#5661ae"/>
<rect x="1384.8" y="1518.5" width="40.1" height="38.4" fill="#6f7fc2"/>
<rect x="1424.7" y="1518.5" width="40.1" height="38.4" fill="#7181c4"/>
<rect x="1464.5" y="1518.5" width="119.8" height="38.4" fill="#5863b0"/>
<rect x="1584.1" y="1518.5" width="40.1" height="38.4" fill="#4e58a9"/>
<rect x="1623.9" y="1518.5" width="80" height="38.4" fill="#3350a6"/>
<rect x="1703.6" y="1518.5" width="80" height="38.4" fill="#4454a7"/>
<rect x="1783.3" y="1518.5" width="80" height="38.4" fill="#264aa2"/>
<rect x="1863" y="1518.5" width="40.1" height="38.4" fill="#66ae48"/>
<rect x="308.9" y="1556.6" width="40.1" height="38.4" fill="#4c58a8"/>
<rect x="348.8" y="1556.6" width="40.1" height="38.4" fill="#606cb6"/>
<rect x="388.6" y="1556.6" width="319.1" height="38.4" fill="#4e58a9"/>
<rect x="707.4" y="1556.6" width="40.1" height="38.4" fill="#84bee2"/>
<rect x="747.2" y="1556.6" width="40.1" height="38.4" fill="#93cae5"/>
<rect x="787.1" y="1556.6" width="40.1" height="38.4" fill="#84c0e2"/>
<rect x="826.9" y="1556.6" width="40.1" height="38.4" fill="#88c2e3"/>
<rect x="866.8" y="1556.6" width="159.7" height="38.4" fill="#4f59a9"/>
<rect x="1026.2" y="1556.6" width="40.1" height="38.4" fill="#505aaa"/>
<rect x="1066" y="1556.6" width="40.1" height="38.4" fill="#4e58a9"/>
<rect x="1105.9" y="1556.6" width="40.1" height="38.4" fill="#5963b0"/>
<rect x="1145.8" y="1556.6" width="40.1" height="38.4" fill="#7182c5"/>
<rect x="1185.6" y="1556.6" width="80" height="38.4" fill="#4a57a8"/>
<rect x="1265.3" y="1556.6" width="40.1" height="38.4" fill="#5e6ab4"/>
<rect x="1305.1" y="1556.6" width="40.1" height="38.4" fill="#535dac"/>
<rect x="1345" y="1556.6" width="40.1" height="38.4" fill="#4f59a9"/>
<rect x="1384.8" y="1556.6" width="40.1" height="38.4" fill="#6b79be"/>
<rect x="1424.7" y="1556.6" width="40.1" height="38.4" fill="#6d7bc0"/>
<rect x="1464.5" y="1556.6" width="119.8" height="38.4" fill="#535dac"/>
<rect x="1584.1" y="1556.6" width="40.1" height="38.4" fill="#3651a6"/>
<rect x="1623.9" y="1556.6" width="279.2" height="38.4" fill="#4e58a9"/>
<rect x="1902.9" y="1556.6" width="40.1" height="38.4" fill="#66ae48"/>
<rect x="308.9" y="1594.6" width="40.1" height="38.4" fill="#4c58a8"/>
<rect x="348.8" y="1594.6" width="40.1" height="38.4" fill="#606cb6"/>
<rect x="388.6" y="1594.6" width="319.1" height="38.4" fill="#4e58a9"/>
<rect x="707.4" y="1594.6" width="40.1" height="38.4" fill="#84bee2"/>
<rect x="747.2" y="1594.6" width="40.1" height="38.4" fill="#93cae5"/>
<rect x="787.1" y="1594.6" width="40.1" height="38.4" fill="#84c0e2"/>
<rect x="826.9" y="1594.6" width="40.1" height="38.4" fill="#88c2e3"/>
<rect x="866.8" y="1594.6" width="159.7" height="38.4" fill="#4f59a9"/>
<rect x="1026.2" y="1594.6" width="40.1" height="38.4" fill="#505aaa"/>
<rect x="1066" y="1594.6" width="40.1" height="38.4" fill="#4e58a9"/>
<rect x="1105.9" y="1594.6" width="40.1" height="38.4" fill="#5963b0"/>
<rect x="1145.8" y="1594.6" width="40.1" height="38.4" fill="#7182c5"/>
<rect x="1185.6" y="1594.6" width="80" height="38.4" fill="#4a57a8"/>
<rect x="1265.3" y="1594.6" width="40.1" height="38.4" fill="#5e6ab4"/>
<rect x="1305.1" y="1594.6" width="40.1" height="38.4" fill="#535dac"/>
<rect x="1345" y="1594.6" width="40.1" height="38.4" fill="#4f59a9"/>
<rect x="1384.8" y="1594.6" width="40.1" height="38.4" fill="#6b79be"/>
<rect x="1424.7" y="1594.6" width="40.1" height="38.4" fill="#6d7bc0"/>
<rect x="1464.5" y="1594.6" width="119.8" height="38.4" fill="#535dac"/>
<rect x="1584.1" y="1594.6" width="40.1" height="38.4" fill="#3651a6"/>
<rect x="1623.9" y="1594.6" width="279.2" height="38.4" fill="#4e58a9"/>
<rect x="1902.9" y="1594.6" width="40.1" height="38.4" fill="#2348a2"/>
<rect x="1942.7" y="1594.6" width="40.1" height="38.4" fill="#66ae48"/>
<rect x="308.9" y="1632.7" width="40.1" height="38.4" fill="#4c58a8"/>
<rect x="348.8" y="1632.7" width="40.1" height="38.4" fill="#606cb6"/>
<rect x="388.6" y="1632.7" width="319.1" height="38.4" fill="#4e58a9"/>
<rect x="707.4" y="1632.7" width="40.1" height="38.4" fill="#84bee2"/>
<rect x="747.2" y="1632.7" width="40.1" height="38.4" fill="#93cae5"/>
<rect x="787.1" y="1632.7" width="40.1" height="38.4" fill="#84c0e2"/>
<rect x="826.9" y="1632.7" width="40.1" height="38.4" fill="#88c2e3"/>
<rect x="866.8" y="1632.7" width="159.7" height="38.4" fill="#4f59a9"/>
<rect x="1026.2" y="1632.7" width="40.1" height="38.4" fill="#505aaa"/>
<rect x="1066" y="1632.7" width="40.1" height="38.4" fill="#4e58a9"/>
<rect x="1105.9" y="1632.7" width="40.1" height="38.4" fill="#5963b0"/>
<rect x="1145.8" y="1632.7" width="40.1" height="38.4" fill="#7182c5"/>
<rect x="1185.6" y="1632.7" width="80" height="38.4" fill="#4a57a8"/>
<rect x="1265.3" y="1632.7" width="40.1" height="38.4" fill="#5e6ab4"/>
<rect x="1305.1" y="1632.7" width="40.1" height="38.4" fill="#535dac"/>
<rect x="1345" y="1632.7" width="40.1" height="38.4" fill="#4f59a9"/>
<rect x="1384.8" y="1632.7" width="40.1" height="38.4" fill="#6b79be"/>
<rect x="1424.7" y="1632.7" width="40.1" height="38.4" fill="#6d7bc0"/>
<rect x="1464.5" y="1632.7" width="119.8" height="38.4" fill="#535dac"/>
<rect x="1584.1" y="1632.7" width="40.1" height="38.4" fill="#3651a6"/>
<rect x="1623.9" y="1632.7" width="279.2" height="38.4" fill="#4e58a9"/>
<rect x="1902.9" y="1632.7" width="80" height="38.4" fill="#2348a2"/>
<rect x="1982.6" y="1632.7" width="40.1" height="38.4" fill="#66ae48"/>
<rect x="308.9" y="1670.8" width="40.1" height="38.4" fill="#4c58a8"/>
<rect x="348.8" y="1670.8" width="40.1" height="38.4" fill="#606cb6"/>
<rect x="388.6" y="1670.8" width="319.1" height="38.4" fill="#4e58a9"/>
<rect x="707.4" y="1670.8" width="40.1" height="38.4" fill="#84bee2"/>
<rect x="747.2" y="1670.8" width="40.1" height="38.4" fill="#93cae5"/>
<rect x="787.1" y="1670.8" width="40.1" height="38.4" fill="#84c0e2"/>
<rect x="826.9" y="1670.8" width="40.1" height="38.4" fill="#88c2e3"/>
<rect x="866.8" y="1670.8" width="159.7" height="38.4" fill="#4f59a9"/>
<rect x="1026.2" y="1670.8" width="40.1" height="38.4" fill="#505aaa"/>
<rect x="1066" y="1670.8" width="40.1" height="38.4" fill="#4e58a9"/>
<rect x="1105.9" y="1670.8" width="40.1" height="38.4" fill="#5963b0"/>
<rect x="1145.8" y="1670.8" width="40.1" height="38.4" fill="#7182c5"/>
<rect x="1185.6" y="1670.8" width="80" height="38.4" fill="#4a57a8"/>
<rect x="1265.3" y="1670.8" width="40.1" height="38.4" fill="#5e6ab4"/>
<rect x="1305.1" y="1670.8" width="40.1" height="38.4" fill="#535dac"/>
<rect x="1345" y="1670.8" width="40.1" height="38.4" fill="#4f59a9"/>
<rect x="1384.8" y="1670.8" width="40.1" height="38.4" fill="#6b79be"/>
<rect x="1424.7" y="1670.8" width="40.1" height="38.4" fill="#6d7bc0"/>
<rect x="1464.5" y="1670.8" width="119.8" height="38.4" fill="#535dac"/>
<rect x="1584.1" y="1670.8" width="40.1" height="38.4" fill="#3651a6"/>
<rect x="1623.9" y="1670.8" width="279.2" height="38.4" fill="#4e58a9"/>
<rect x="1902.9" y="1670.8" width="119.8" height="38.4" fill="#2348a2"/>
<rect x="2022.4" y="1670.8" width="40.1" height="38.4" fill="#66ae48"/>
<rect x="308.9" y="1708.8" width="40.1" height="38.4" fill="#4c58a8"/>
<rect x="348.8" y="1708.8" width="40.1" height="38.4" fill="#606cb6"/>
<rect x="388.6" y="1708.8" width="319.1" height="38.4" fill="#4e58a9"/>
<rect x="707.4" y="1708.8" width="40.1" height="38.4" fill="#84bee2"/>
<rect x="747.2" y="1708.8" width="40.1" height="38.4" fill="#93cae5"/>
<rect x="787.1" y="1708.8" width="40.1" height="38.4" fill="#84c0e2"/>
<rect x="826.9" y="1708.8" width="40.1" height="38.4" fill="#88c2e3"/>
<rect x="866.8" y="1708.8" width="159.7" height="38.4" fill="#4f59a9"/>
<rect x="1026.2" y="1708.8" width="40.1" height="38.4" fill="#505aaa"/>
<rect x="1066" y="1708.8" width="40.1" height="38.4" fill="#4e58a9"/>
<rect x="1105.9" y="1708.8" width="40.1" height="38.4" fill="#5963b0"/>
<rect x="1145.8" y="1708.8" width="40.1" height="38.4" fill="#7182c5"/>
<rect x="1185.6" y="1708.8" width="80" height="38.4" fill="#4a57a8"/>
<rect x="1265.3" y="1708.8" width="40.1" height="38.4" fill="#5e6ab4"/>
<rect x="1305.1" y="1708.8" width="40.1" height="38.4" fill="#535dac"/>
<rect x="1345" y="1708.8" width="40.1" height="38.4" fill="#4f59a9"/>
<rect x="1384.8" y="1708.8" width="40.1" height="38.4" fill="#6b79be"/>
<rect x="1424.7" y="1708.8" width="40.1" height="38.4" fill="#6d7bc0"/>
<rect x="1464.5" y="1708.8" width="119.8" height="38.4" fill="#535dac"/>
<rect x="1584.1" y="1708.8" width="40.1" height="38.4" fill="#3651a6"/>
<rect x="1623.9" y="1708.8" width="279.2" height="38.4" fill="#4e58a9"/>
<rect x="1902.9" y="1708.8" width="159.7" height="38.4" fill="#2348a2"/>
<rect x="2062.3" y="1708.8" width="40.1" height="38.4" fill="#66ae48"/>
<rect x="308.9" y="1746.9" width="40.1" height="38.4" fill="#505aa9"/>
<rect x="348.8" y="1746.9" width="40.1" height="38.4" fill="#6571b9"/>
<rect x="388.6" y="1746.9" width="319.1" height="38.4" fill="#515cab"/>
<rect x="707.4" y="1746.9" width="40.1" height="38.4" fill="#84bee2"/>
<rect x="747.2" y="1746.9" width="40.1" height="38.4" fill="#93cae5"/>
<rect x="787.1" y="1746.9" width="40.1" height="38.4" fill="#84c0e2"/>
<rect x="826.9" y="1746.9" width="40.1" height="38.4" fill="#88c2e3"/>
<rect x="866.8" y="1746.9" width="159.7" height="38.4" fill="#4f59a9"/>
<rect x="1026.2" y="1746.9" width="40.1" height="38.4" fill="#505aaa"/>
<rect x="1066" y="1746.9" width="40.1" height="38.4" fill="#4e58a9"/>
<rect x="1105.9" y="1746.9" width="40.1" height="38.4" fill="#5963b0"/>
<rect x="1145.8" y="1746.9" width="40.1" height="38.4" fill="#7182c5"/>
<rect x="1185.6" y="1746.9" width="80" height="38.4" fill="#4a57a8"/>
<rect x="1265.3" y="1746.9" width="40.1" height="38.4" fill="#5e6ab4"/>
<rect x="1305.1" y="1746.9" width="40.1" height="38.4" fill="#535dac"/>
<rect x="1345" y="1746.9" width="40.1" height="38.4" fill="#4f59a9"/>
<rect x="1384.8" y="1746.9" width="40.1" height="38.4" fill="#6b79be"/>
<rect x="1424.7" y="1746.9" width="40.1" height="38.4" fill="#6d7bc0"/>
<rect x="1464.5" y="1746.9" width="119.8" height="38.4" fill="#535dac"/>
<rect x="1584.1" y="1746.9" width="40.1" height="38.4" fill="#3651a6"/>
<rect x="1623.9" y="1746.9" width="279.2" height="38.4" fill="#4e58a9"/>
<rect x="1902.9" y="1746.9" width="199.5" height="38.4" fill="#4052a7"/>
<rect x="2102.1" y="1746.9" width="40.1" height="38.4" fill="#66ae48"/>
<rect x="308.9" y="1785" width="40.1" height="38.4" fill="#535eac"/>
<rect x="348.8" y="1785" width="40.1" height="38.4" fill="#6977bd"/>
<rect x="388.6" y="1785" width="319.1" height="38.4" fill="#5560ae"/>
<rect x="707.4" y="1785" width="40.1" height="38.4" fill="#84bee2"/>
<rect x="747.2" y="1785" width="40.1" height="38.4" fill="#93cae5"/>
<rect x="787.1" y="1785" width="40.1" height="38.4" fill="#84c0e2"/>
<rect x="826.9" y="1785" width="40.1" height="38.4" fill="#88c2e3"/>
<rect x="866.8" y="1785" width="159.7" height="38.4" fill="#505aaa"/>
<rect x="1026.2" y="1785" width="40.1" height="38.4" fill="#515baa"/>
<rect x="1066" y="1785" width="40.1" height="38.4" fill="#4f59a9"/>
<rect x="1105.9" y="1785" width="40.1" height="38.4" fill="#5964b0"/>
<rect x="1145.8" y="1785" width="40.1" height="38.4" fill="#7283c5"/>
<rect x="1185.6" y="1785" width="80" height="38.4" fill="#4b57a8"/>
<rect x="1265.3" y="1785" width="40.1" height="38.4" fill="#5f6ab5"/>
<rect x="1305.1" y="1785" width="40.1" height="38.4" fill="#535dac"/>
<rect x="1345" y="1785" width="40.1" height="38.4" fill="#505aaa"/>
<rect x="1384.8" y="1785" width="40.1" height="38.4" fill="#6b79be"/>
<rect x="1424.7" y="1785" width="40.1" height="38.4" fill="#6d7cc0"/>
<rect x="1464.5" y="1785" width="119.8" height="38.4" fill="#535dac"/>
<rect x="1584.1" y="1785" width="40.1" height="38.4" fill="#4e58a9"/>
<rect x="1623.9" y="1785" width="80" height="38.4" fill="#3951a6"/>
<rect x="1703.6" y="1785" width="80" height="38.4" fill="#3d52a7"/>
<rect x="1783.3" y="1785" width="119.8" height="38.4" fill="#3951a6"/>
<rect x="1902.9" y="1785" width="239.4" height="38.4" fill="#4f59a9"/>
<rect x="2142" y="1785" width="40.1" height="38.4" fill="#66ae48"/>
<rect x="308.9" y="1823.1" width="40.1" height="38.4" fill="#5f6bb5"/>
<rect x="348.8" y="1823.1" width="40.1" height="38.4" fill="#7c96d2"/>
<rect x="388.6" y="1823.1" width="319.1" height="38.4" fill="#616eb7"/>
<rect x="707.4" y="1823.1" width="40.1" height="38.4" fill="#88c2e3"/>
<rect x="747.2" y="1823.1" width="40.1" height="38.4" fill="#99cde6"/>
<rect x="787.1" y="1823.1" width="40.1" height="38.4" fill="#8ac4e3"/>
<rect x="826.9" y="1823.1" width="40.1" height="38.4" fill="#8ec6e4"/>
<rect x="866.8" y="1823.1" width="199.5" height="38.4" fill="#5a65b1"/>
<rect x="1066" y="1823.1" width="40.1" height="38.4" fill="#5963b0"/>
<rect x="1105.9" y="1823.1" width="40.1" height="38.4" fill="#616eb7"/>
<rect x="1145.8" y="1823.1" width="40.1" height="38.4" fill="#788ccc"/>
<rect x="1185.6" y="1823.1" width="80" height="38.4" fill="#5560ae"/>
<rect x="1265.3" y="1823.1" width="40.1" height="38.4" fill="#6774bb"/>
<rect x="1305.1" y="1823.1" width="40.1" height="38.4" fill="#5c67b2"/>
<rect x="1345" y="1823.1" width="40.1" height="38.4" fill="#5a65b1"/>
<rect x="1384.8" y="1823.1" width="40.1" height="38.4" fill="#7283c6"/>
<rect x="1424.7" y="1823.1" width="40.1" height="38.4" fill="#7485c7"/>
<rect x="1464.5" y="1823.1" width="119.8" height="38.4" fill="#5c67b2"/>
<rect x="1584.1" y="1823.1" width="40.1" height="38.4" fill="#4e58a9"/>
<rect x="1623.9" y="1823.1" width="80" height="38.4" fill="#4f59a9"/>
<rect x="1703.6" y="1823.1" width="80" height="38.4" fill="#4a57a8"/>
<rect x="1783.3" y="1823.1" width="398.8" height="38.4" fill="#4f59a9"/>
<rect x="2181.8" y="1823.1" width="40.1" height="38.4" fill="#66ae48"/>
<rect x="308.9" y="1861.1" width="40.1" height="38.4" fill="#515baa"/>
<rect x="348.8" y="1861.1" width="40.1" height="38.4" fill="#6673ba"/>
<rect x="388.6" y="1861.1" width="319.1" height="38.4" fill="#535dac"/>
<rect x="707.4" y="1861.1" width="40.1" height="38.4" fill="#84bee2"/>
<rect x="747.2" y="1861.1" width="40.1" height="38.4" fill="#93cae5"/>
<rect x="787.1" y="1861.1" width="40.1" height="38.4" fill="#84c0e2"/>
<rect x="826.9" y="1861.1" width="40.1" height="38.4" fill="#88c2e3"/>
<rect x="866.8" y="1861.1" width="159.7" height="38.4" fill="#505aaa"/>
<rect x="1026.2" y="1861.1" width="40.1" height="38.4" fill="#515baa"/>
<rect x="1066" y="1861.1" width="40.1" height="38.4" fill="#4f59a9"/>
<rect x="1105.9" y="1861.1" width="40.1" height="38.4" fill="#5964b0"/>
<rect x="1145.8" y="1861.1" width="40.1" height="38.4" fill="#7283c5"/>
<rect x="1185.6" y="1861.1" width="80" height="38.4" fill="#4b57a8"/>
<rect x="1265.3" y="1861.1" width="40.1" height="38.4" fill="#5f6ab5"/>
<rect x="1305.1" y="1861.1" width="40.1" height="38.4" fill="#535dac"/>
<rect x="1345" y="1861.1" width="40.1" height="38.4" fill="#505aaa"/>
<rect x="1384.8" y="1861.1" width="40.1" height="38.4" fill="#6b79be"/>
<rect x="1424.7" y="1861.1" width="40.1" height="38.4" fill="#6d7cc0"/>
<rect x="1464.5" y="1861.1" width="119.8" height="38.4" fill="#535dac"/>
<rect x="1584.1" y="1861.1" width="40.1" height="38.4" fill="#4e58a9"/>
<rect x="1623.9" y="1861.1" width="80" height="38.4" fill="#4052a7"/>
<rect x="1703.6" y="1861.1" width="80" height="38.4" fill="#3350a6"/>
<rect x="1783.3" y="1861.1" width="119.8" height="38.4" fill="#4153a7"/>
<rect x="1902.9" y="1861.1" width="239.4" height="38.4" fill="#4e58a9"/>
<rect x="2142" y="1861.1" width="40.1" height="38.4" fill="#2f4ea5"/>
<rect x="2181.8" y="1861.1" width="40.1" height="38.4" fill="#4e58a9"/>
<rect x="2221.7" y="1861.1" width="40.1" height="38.4" fill="#66ae48"/>
<rect x="308.9" y="1899.2" width="40.1" height="38.4" fill="#4c58a8"/>
<rect x="348.8" y="1899.2" width="40.1" height="38.4" fill="#606cb6"/>
<rect x="388.6" y="1899.2" width="319.1" height="38.4" fill="#4e58a9"/>
<rect x="707.4" y="1899.2" width="40.1" height="38.4" fill="#84bee2"/>
<rect x="747.2" y="1899.2" width="40.1" height="38.4" fill="#93cae5"/>
<rect x="787.1" y="1899.2" width="40.1" height="38.4" fill="#84c0e2"/>
<rect x="826.9" y="1899.2" width="40.1" height="38.4" fill="#88c2e3"/>
<rect x="866.8" y="1899.2" width="159.7" height="38.4" fill="#4f59a9"/>
<rect x="1026.2" y="1899.2" width="40.1" height="38.4" fill="#505aaa"/>
<rect x="1066" y="1899.2" width="40.1" height="38.4" fill="#4e58a9"/>
<rect x="1105.9" y="1899.2" width="40.1" height="38.4" fill="#5963b0"/>
<rect x="1145.8" y="1899.2" width="40.1" height="38.4" fill="#7182c5"/>
<rect x="1185.6" y="1899.2" width="80" height="38.4" fill="#4a57a8"/>
<rect x="1265.3" y="1899.2" width="40.1" height="38.4" fill="#5e6ab4"/>
<rect x="1305.1" y="1899.2" width="40.1" height="38.4" fill="#535dac"/>
<rect x="1345" y="1899.2" width="40.1" height="38.4" fill="#4f59a9"/>
<rect x="1384.8" y="1899.2" width="40.1" height="38.4" fill="#6b79be"/>
<rect x="1424.7" y="1899.2" width="40.1" height="38.4" fill="#6d7bc0"/>
<rect x="1464.5" y="1899.2" width="119.8" height="38.4" fill="#535dac"/>
<rect x="1584.1" y="1899.2" width="40.1" height="38.4" fill="#4353a7"/>
<rect x="1623.9" y="1899.2" width="80" height="38.4" fill="#4e58a9"/>
<rect x="1703.6" y="1899.2" width="80" height="38.4" fill="#4a57a8"/>
<rect x="1783.3" y="1899.2" width="119.8" height="38.4" fill="#4e58a9"/>
<rect x="1902.9" y="1899.2" width="239.4" height="38.4" fill="#4353a7"/>
<rect x="2142" y="1899.2" width="119.8" height="38.4" fill="#4554a7"/>
<rect x="2261.5" y="1899.2" width="40.1" height="38.4" fill="#66ae48"/>
<rect x="308.9" y="1937.3" width="40.1" height="38.4" fill="#4d58a9"/>
<rect x="348.8" y="1937.3" width="40.1" height="38.4" fill="#616eb7"/>
<rect x="388.6" y="1937.3" width="319.1" height="38.4" fill="#4f59a9"/>
<rect x="707.4" y="1937.3" width="40.1" height="38.4" fill="#84bee2"/>
<rect x="747.2" y="1937.3" width="40.1" height="38.4" fill="#93cae5"/>
<rect x="787.1" y="1937.3" width="40.1" height="38.4" fill="#84c0e2"/>
<rect x="826.9" y="1937.3" width="40.1" height="38.4" fill="#88c2e3"/>
<rect x="866.8" y="1937.3" width="159.7" height="38.4" fill="#4f59a9"/>
<rect x="1026.2" y="1937.3" width="40.1" height="38.4" fill="#505aaa"/>
<rect x="1066" y="1937.3" width="40.1" height="38.4" fill="#4e58a9"/>
<rect x="1105.9" y="1937.3" width="40.1" height="38.4" fill="#5963b0"/>
<rect x="1145.8" y="1937.3" width="40.1" height="38.4" fill="#7182c5"/>
<rect x="1185.6" y="1937.3" width="80" height="38.4" fill="#4a57a8"/>
<rect x="1265.3" y="1937.3" width="40.1" height="38.4" fill="#5e6ab4"/>
<rect x="1305.1" y="1937.3" width="40.1" height="38.4" fill="#535dac"/>
<rect x="1345" y="1937.3" width="40.1" height="38.4" fill="#4f59a9"/>
<rect x="1384.8" y="1937.3" width="40.1" height="38.4" fill="#6b79be"/>
<rect x="1424.7" y="1937.3" width="40.1" height="38.4" fill="#6d7bc0"/>
<rect x="1464.5" y="1937.3" width="119.8" height="38.4" fill="#535dac"/>
<rect x="1584.1" y="1937.3" width="40.1" height="38.4" fill="#3651a6"/>
<rect x="1623.9" y="1937.3" width="80" height="38.4" fill="#4d58a9"/>
<rect x="1703.6" y="1937.3" width="80" height="38.4" fill="#4a57a8"/>
<rect x="1783.3" y="1937.3" width="119.8" height="38.4" fill="#4d58a9"/>
<rect x="1902.9" y="1937.3" width="239.4" height="38.4" fill="#4153a7"/>
<rect x="2142" y="1937.3" width="159.7" height="38.4" fill="#4d58a9"/>
<rect x="2301.4" y="1937.3" width="40.1" height="38.4" fill="#66ae48"/>
<rect x="308.9" y="1975.3" width="40.1" height="38.4" fill="#4c58a8"/>
<rect x="348.8" y="1975.3" width="40.1" height="38.4" fill="#606cb6"/>
<rect x="388.6" y="1975.3" width="319.1" height="38.4" fill="#4e58a9"/>
<rect x="707.4" y="1975.3" width="40.1" height="38.4" fill="#84bee2"/>
<rect x="747.2" y="1975.3" width="40.1" height="38.4" fill="#93cae5"/>
<rect x="787.1" y="1975.3" width="40.1" height="38.4" fill="#84c0e2"/>
<rect x="826.9" y="1975.3" width="40.1" height="38.4" fill="#88c2e3"/>
<rect x="866.8" y="1975.3" width="159.7" height="38.4" fill="#4e58a9"/>
<rect x="1026.2" y="1975.3" width="40.1" height="38.4" fill="#4f59a9"/>
<rect x="1066" y="1975.3" width="40.1" height="38.4" fill="#4d58a9"/>
<rect x="1105.9" y="1975.3" width="40.1" height="38.4" fill="#5762af"/>
<rect x="1145.8" y="1975.3" width="40.1" height="38.4" fill="#7080c3"/>
<rect x="1185.6" y="1975.3" width="80" height="38.4" fill="#4956a8"/>
<rect x="1265.3" y="1975.3" width="40.1" height="38.4" fill="#5d68b3"/>
<rect x="1305.1" y="1975.3" width="40.1" height="38.4" fill="#515cab"/>
<rect x="1345" y="1975.3" width="40.1" height="38.4" fill="#4e58a9"/>
<rect x="1384.8" y="1975.3" width="40.1" height="38.4" fill="#6977bd"/>
<rect x="1424.7" y="1975.3" width="40.1" height="38.4" fill="#6b79be"/>
<rect x="1464.5" y="1975.3" width="119.8" height="38.4" fill="#515cab"/>
<rect x="1584.1" y="1975.3" width="40.1" height="38.4" fill="#4353a7"/>
<rect x="1623.9" y="1975.3" width="80" height="38.4" fill="#4153a7"/>
<rect x="1703.6" y="1975.3" width="80" height="38.4" fill="#4a57a8"/>
<rect x="1783.3" y="1975.3" width="558.2" height="38.4" fill="#4153a7"/>
<rect x="2341.2" y="1975.3" width="40.1" height="38.4" fill="#66ae48"/>
</g>
<g font-family="'Liberation Sans',Arial,sans-serif" font-size="4.9" font-weight="bold" fill="#0d1a33" fill-opacity="0.92" stroke="#0d1a33" stroke-opacity="0.5" stroke-width="0.35" text-anchor="middle">
<text x="328.8" y="54.7">0.11</text>
<text x="328.8" y="92.8">0.81</text>
<text x="368.7" y="92.8">0.05</text>
<text x="328.8" y="130.9">1.00</text>
<text x="368.7" y="130.9">0.81</text>
<text x="408.5" y="130.9">0.11</text>
<text x="328.8" y="168.9">1.00</text>
<text x="368.7" y="168.9">0.81</text>
<text x="408.5" y="168.9">1.00</text>
<text x="448.4" y="168.9">0.11</text>
<text x="328.8" y="207">1.00</text>
<text x="368.7" y="207">0.81</text>
<text x="408.5" y="207">1.00</text>
<text x="448.4" y="207">1.00</text>
<text x="488.2" y="207">0.11</text>
<text x="328.8" y="245.1">1.00</text>
<text x="368.7" y="245.1">0.81</text>
<text x="408.5" y="245.1">1.00</text>
<text x="448.4" y="245.1">1.00</text>
<text x="488.2" y="245.1">1.00</text>
<text x="528.1" y="245.1">0.11</text>
<text x="328.8" y="283.1">0.89</text>
<text x="368.7" y="283.1">0.90</text>
<text x="408.5" y="283.1">0.89</text>
<text x="448.4" y="283.1">0.89</text>
<text x="488.2" y="283.1">0.89</text>
<text x="528.1" y="283.1">0.89</text>
<text x="567.9" y="283.1">0.11</text>
<text x="328.8" y="321.2">0.89</text>
<text x="368.7" y="321.2">0.86</text>
<text x="408.5" y="321.2">0.89</text>
<text x="448.4" y="321.2">0.89</text>
<text x="488.2" y="321.2">0.89</text>
<text x="528.1" y="321.2">0.89</text>
<text x="567.9" y="321.2">0.96</text>
<text x="607.8" y="321.2">0.11</text>
<text x="328.8" y="359.3">0.89</text>
<text x="368.7" y="359.3">0.89</text>
<text x="408.5" y="359.3">0.89</text>
<text x="448.4" y="359.3">0.89</text>
<text x="488.2" y="359.3">0.89</text>
<text x="528.1" y="359.3">0.89</text>
<text x="567.9" y="359.3">0.96</text>
<text x="607.8" y="359.3">0.95</text>
<text x="647.6" y="359.3">0.11</text>
<text x="328.8" y="397.4">1.00</text>
<text x="368.7" y="397.4">0.81</text>
<text x="408.5" y="397.4">1.00</text>
<text x="448.4" y="397.4">1.00</text>
<text x="488.2" y="397.4">1.00</text>
<text x="528.1" y="397.4">1.00</text>
<text x="567.9" y="397.4">0.89</text>
<text x="607.8" y="397.4">0.89</text>
<text x="647.6" y="397.4">0.89</text>
<text x="687.5" y="397.4">0.11</text>
<text x="328.8" y="435.4">0.70</text>
<text x="368.7" y="435.4">0.67</text>
<text x="408.5" y="435.4">0.70</text>
<text x="448.4" y="435.4">0.70</text>
<text x="488.2" y="435.4">0.70</text>
<text x="528.1" y="435.4">0.70</text>
<text x="567.9" y="435.4">0.70</text>
<text x="607.8" y="435.4">0.70</text>
<text x="647.6" y="435.4">0.70</text>
<text x="687.5" y="435.4">0.70</text>
<text x="727.3" y="435.4">0.05</text>
<text x="328.8" y="473.5">0.66</text>
<text x="368.7" y="473.5">0.64</text>
<text x="408.5" y="473.5">0.66</text>
<text x="448.4" y="473.5">0.66</text>
<text x="488.2" y="473.5">0.66</text>
<text x="528.1" y="473.5">0.66</text>
<text x="567.9" y="473.5">0.66</text>
<text x="607.8" y="473.5">0.66</text>
<text x="647.6" y="473.5">0.66</text>
<text x="687.5" y="473.5">0.66</text>
<text x="727.3" y="473.5">0.89</text>
<text x="767.2" y="473.5">0.09</text>
<text x="328.8" y="511.6">0.70</text>
<text x="368.7" y="511.6">0.67</text>
<text x="408.5" y="511.6">0.70</text>
<text x="448.4" y="511.6">0.70</text>
<text x="488.2" y="511.6">0.70</text>
<text x="528.1" y="511.6">0.70</text>
<text x="567.9" y="511.6">0.70</text>
<text x="607.8" y="511.6">0.70</text>
<text x="647.6" y="511.6">0.70</text>
<text x="687.5" y="511.6">0.70</text>
<text x="727.3" y="511.6">0.90</text>
<text x="767.2" y="511.6">0.85</text>
<text x="807" y="511.6">0.11</text>
<text x="328.8" y="549.6">0.70</text>
<text x="368.7" y="549.6">0.67</text>
<text x="408.5" y="549.6">0.70</text>
<text x="448.4" y="549.6">0.70</text>
<text x="488.2" y="549.6">0.70</text>
<text x="528.1" y="549.6">0.70</text>
<text x="567.9" y="549.6">0.70</text>
<text x="607.8" y="549.6">0.70</text>
<text x="647.6" y="549.6">0.70</text>
<text x="687.5" y="549.6">0.70</text>
<text x="727.3" y="549.6">1.00</text>
<text x="767.2" y="549.6">0.89</text>
<text x="807" y="549.6">0.90</text>
<text x="846.9" y="549.6">0.05</text>
<text x="328.8" y="587.7">0.86</text>
<text x="368.7" y="587.7">0.80</text>
<text x="408.5" y="587.7">0.85</text>
<text x="448.4" y="587.7">0.85</text>
<text x="488.2" y="587.7">0.85</text>
<text x="528.1" y="587.7">0.85</text>
<text x="567.9" y="587.7">0.86</text>
<text x="607.8" y="587.7">0.86</text>
<text x="647.6" y="587.7">0.85</text>
<text x="687.5" y="587.7">0.85</text>
<text x="727.3" y="587.7">0.70</text>
<text x="767.2" y="587.7">0.67</text>
<text x="807" y="587.7">0.70</text>
<text x="846.9" y="587.7">0.69</text>
<text x="886.7" y="587.7">0.09</text>
<text x="328.8" y="625.8">0.86</text>
<text x="368.7" y="625.8">0.80</text>
<text x="408.5" y="625.8">0.85</text>
<text x="448.4" y="625.8">0.85</text>
<text x="488.2" y="625.8">0.85</text>
<text x="528.1" y="625.8">0.85</text>
<text x="567.9" y="625.8">0.86</text>
<text x="607.8" y="625.8">0.86</text>
<text x="647.6" y="625.8">0.85</text>
<text x="687.5" y="625.8">0.85</text>
<text x="727.3" y="625.8">0.70</text>
<text x="767.2" y="625.8">0.67</text>
<text x="807" y="625.8">0.70</text>
<text x="846.9" y="625.8">0.69</text>
<text x="886.7" y="625.8">0.95</text>
<text x="926.6" y="625.8">0.10</text>
<text x="328.8" y="663.8">0.86</text>
<text x="368.7" y="663.8">0.80</text>
<text x="408.5" y="663.8">0.85</text>
<text x="448.4" y="663.8">0.85</text>
<text x="488.2" y="663.8">0.85</text>
<text x="528.1" y="663.8">0.85</text>
<text x="567.9" y="663.8">0.86</text>
<text x="607.8" y="663.8">0.86</text>
<text x="647.6" y="663.8">0.85</text>
<text x="687.5" y="663.8">0.85</text>
<text x="727.3" y="663.8">0.70</text>
<text x="767.2" y="663.8">0.67</text>
<text x="807" y="663.8">0.70</text>
<text x="846.9" y="663.8">0.69</text>
<text x="886.7" y="663.8">0.92</text>
<text x="926.6" y="663.8">0.92</text>
<text x="966.4" y="663.8">0.09</text>
<text x="328.8" y="701.9">0.85</text>
<text x="368.7" y="701.9">0.79</text>
<text x="408.5" y="701.9">0.85</text>
<text x="448.4" y="701.9">0.85</text>
<text x="488.2" y="701.9">0.85</text>
<text x="528.1" y="701.9">0.85</text>
<text x="567.9" y="701.9">0.85</text>
<text x="607.8" y="701.9">0.85</text>
<text x="647.6" y="701.9">0.85</text>
<text x="687.5" y="701.9">0.85</text>
<text x="727.3" y="701.9">0.70</text>
<text x="767.2" y="701.9">0.67</text>
<text x="807" y="701.9">0.70</text>
<text x="846.9" y="701.9">0.69</text>
<text x="886.7" y="701.9">0.92</text>
<text x="926.6" y="701.9">0.92</text>
<text x="966.4" y="701.9">0.98</text>
<text x="1006.3" y="701.9">0.09</text>
<text x="328.8" y="740">0.83</text>
<text x="368.7" y="740">0.76</text>
<text x="408.5" y="740">0.83</text>
<text x="448.4" y="740">0.83</text>
<text x="488.2" y="740">0.83</text>
<text x="528.1" y="740">0.83</text>
<text x="567.9" y="740">0.83</text>
<text x="607.8" y="740">0.83</text>
<text x="647.6" y="740">0.83</text>
<text x="687.5" y="740">0.83</text>
<text x="727.3" y="740">0.70</text>
<text x="767.2" y="740">0.67</text>
<text x="807" y="740">0.70</text>
<text x="846.9" y="740">0.69</text>
<text x="886.7" y="740">0.91</text>
<text x="926.6" y="740">0.91</text>
<text x="966.4" y="740">0.91</text>
<text x="1006.3" y="740">0.91</text>
<text x="1046.1" y="740">0.11</text>
<text x="328.8" y="778">0.83</text>
<text x="368.7" y="778">0.76</text>
<text x="408.5" y="778">0.83</text>
<text x="448.4" y="778">0.83</text>
<text x="488.2" y="778">0.83</text>
<text x="528.1" y="778">0.83</text>
<text x="567.9" y="778">0.83</text>
<text x="607.8" y="778">0.83</text>
<text x="647.6" y="778">0.83</text>
<text x="687.5" y="778">0.83</text>
<text x="727.3" y="778">0.70</text>
<text x="767.2" y="778">0.67</text>
<text x="807" y="778">0.70</text>
<text x="846.9" y="778">0.69</text>
<text x="886.7" y="778">0.91</text>
<text x="926.6" y="778">0.91</text>
<text x="966.4" y="778">0.91</text>
<text x="1006.3" y="778">0.91</text>
<text x="1046.1" y="778">0.93</text>
<text x="1086" y="778">0.09</text>
<text x="328.8" y="816.1">0.83</text>
<text x="368.7" y="816.1">0.76</text>
<text x="408.5" y="816.1">0.82</text>
<text x="448.4" y="816.1">0.82</text>
<text x="488.2" y="816.1">0.82</text>
<text x="528.1" y="816.1">0.82</text>
<text x="567.9" y="816.1">0.83</text>
<text x="607.8" y="816.1">0.83</text>
<text x="647.6" y="816.1">0.82</text>
<text x="687.5" y="816.1">0.82</text>
<text x="727.3" y="816.1">0.70</text>
<text x="767.2" y="816.1">0.66</text>
<text x="807" y="816.1">0.69</text>
<text x="846.9" y="816.1">0.69</text>
<text x="886.7" y="816.1">0.86</text>
<text x="926.6" y="816.1">0.86</text>
<text x="966.4" y="816.1">0.86</text>
<text x="1006.3" y="816.1">0.86</text>
<text x="1046.1" y="816.1">0.84</text>
<text x="1086" y="816.1">0.84</text>
<text x="1125.8" y="816.1">0.05</text>
<text x="328.8" y="854.2">0.78</text>
<text x="368.7" y="854.2">0.71</text>
<text x="408.5" y="854.2">0.78</text>
<text x="448.4" y="854.2">0.78</text>
<text x="488.2" y="854.2">0.78</text>
<text x="528.1" y="854.2">0.78</text>
<text x="567.9" y="854.2">0.78</text>
<text x="607.8" y="854.2">0.78</text>
<text x="647.6" y="854.2">0.78</text>
<text x="687.5" y="854.2">0.78</text>
<text x="727.3" y="854.2">0.67</text>
<text x="767.2" y="854.2">0.63</text>
<text x="807" y="854.2">0.66</text>
<text x="846.9" y="854.2">0.66</text>
<text x="886.7" y="854.2">0.80</text>
<text x="926.6" y="854.2">0.80</text>
<text x="966.4" y="854.2">0.80</text>
<text x="1006.3" y="854.2">0.80</text>
<text x="1046.1" y="854.2">0.80</text>
<text x="1086" y="854.2">0.80</text>
<text x="1125.8" y="854.2">0.80</text>
<text x="1165.7" y="854.2">0.05</text>
<text x="328.8" y="892.3">0.87</text>
<text x="368.7" y="892.3">0.81</text>
<text x="408.5" y="892.3">0.86</text>
<text x="448.4" y="892.3">0.86</text>
<text x="488.2" y="892.3">0.86</text>
<text x="528.1" y="892.3">0.86</text>
<text x="567.9" y="892.3">0.86</text>
<text x="607.8" y="892.3">0.86</text>
<text x="647.6" y="892.3">0.86</text>
<text x="687.5" y="892.3">0.86</text>
<text x="727.3" y="892.3">0.70</text>
<text x="767.2" y="892.3">0.67</text>
<text x="807" y="892.3">0.70</text>
<text x="846.9" y="892.3">0.69</text>
<text x="886.7" y="892.3">0.89</text>
<text x="926.6" y="892.3">0.89</text>
<text x="966.4" y="892.3">0.89</text>
<text x="1006.3" y="892.3">0.89</text>
<text x="1046.1" y="892.3">0.88</text>
<text x="1086" y="892.3">0.89</text>
<text x="1125.8" y="892.3">0.86</text>
<text x="1165.7" y="892.3">0.80</text>
<text x="1205.5" y="892.3">0.08</text>
<text x="328.8" y="930.3">0.86</text>
<text x="368.7" y="930.3">0.80</text>
<text x="408.5" y="930.3">0.85</text>
<text x="448.4" y="930.3">0.85</text>
<text x="488.2" y="930.3">0.85</text>
<text x="528.1" y="930.3">0.85</text>
<text x="567.9" y="930.3">0.85</text>
<text x="607.8" y="930.3">0.85</text>
<text x="647.6" y="930.3">0.85</text>
<text x="687.5" y="930.3">0.85</text>
<text x="727.3" y="930.3">0.70</text>
<text x="767.2" y="930.3">0.67</text>
<text x="807" y="930.3">0.70</text>
<text x="846.9" y="930.3">0.69</text>
<text x="886.7" y="930.3">0.88</text>
<text x="926.6" y="930.3">0.88</text>
<text x="966.4" y="930.3">0.88</text>
<text x="1006.3" y="930.3">0.88</text>
<text x="1046.1" y="930.3">0.88</text>
<text x="1086" y="930.3">0.89</text>
<text x="1125.8" y="930.3">0.86</text>
<text x="1165.7" y="930.3">0.80</text>
<text x="1205.5" y="930.3">0.95</text>
<text x="1245.4" y="930.3">0.11</text>
<text x="328.8" y="968.4">0.81</text>
<text x="368.7" y="968.4">0.74</text>
<text x="408.5" y="968.4">0.80</text>
<text x="448.4" y="968.4">0.80</text>
<text x="488.2" y="968.4">0.80</text>
<text x="528.1" y="968.4">0.80</text>
<text x="567.9" y="968.4">0.80</text>
<text x="607.8" y="968.4">0.80</text>
<text x="647.6" y="968.4">0.80</text>
<text x="687.5" y="968.4">0.80</text>
<text x="727.3" y="968.4">0.69</text>
<text x="767.2" y="968.4">0.65</text>
<text x="807" y="968.4">0.68</text>
<text x="846.9" y="968.4">0.67</text>
<text x="886.7" y="968.4">0.83</text>
<text x="926.6" y="968.4">0.83</text>
<text x="966.4" y="968.4">0.83</text>
<text x="1006.3" y="968.4">0.83</text>
<text x="1046.1" y="968.4">0.83</text>
<text x="1086" y="968.4">0.83</text>
<text x="1125.8" y="968.4">0.82</text>
<text x="1165.7" y="968.4">0.77</text>
<text x="1205.5" y="968.4">0.86</text>
<text x="1245.4" y="968.4">0.86</text>
<text x="1285.2" y="968.4">0.05</text>
<text x="328.8" y="1006.5">0.87</text>
<text x="368.7" y="1006.5">0.81</text>
<text x="408.5" y="1006.5">0.86</text>
<text x="448.4" y="1006.5">0.86</text>
<text x="488.2" y="1006.5">0.86</text>
<text x="528.1" y="1006.5">0.86</text>
<text x="567.9" y="1006.5">0.86</text>
<text x="607.8" y="1006.5">0.86</text>
<text x="647.6" y="1006.5">0.86</text>
<text x="687.5" y="1006.5">0.86</text>
<text x="727.3" y="1006.5">0.70</text>
<text x="767.2" y="1006.5">0.67</text>
<text x="807" y="1006.5">0.70</text>
<text x="846.9" y="1006.5">0.69</text>
<text x="886.7" y="1006.5">0.85</text>
<text x="926.6" y="1006.5">0.85</text>
<text x="966.4" y="1006.5">0.85</text>
<text x="1006.3" y="1006.5">0.85</text>
<text x="1046.1" y="1006.5">0.85</text>
<text x="1086" y="1006.5">0.85</text>
<text x="1125.8" y="1006.5">0.83</text>
<text x="1165.7" y="1006.5">0.78</text>
<text x="1205.5" y="1006.5">0.84</text>
<text x="1245.4" y="1006.5">0.84</text>
<text x="1285.2" y="1006.5">0.80</text>
<text x="1325.1" y="1006.5">0.11</text>
<text x="328.8" y="1044.5">0.89</text>
<text x="368.7" y="1044.5">0.83</text>
<text x="408.5" y="1044.5">0.89</text>
<text x="448.4" y="1044.5">0.89</text>
<text x="488.2" y="1044.5">0.89</text>
<text x="528.1" y="1044.5">0.89</text>
<text x="567.9" y="1044.5">0.89</text>
<text x="607.8" y="1044.5">0.89</text>
<text x="647.6" y="1044.5">0.89</text>
<text x="687.5" y="1044.5">0.89</text>
<text x="727.3" y="1044.5">0.70</text>
<text x="767.2" y="1044.5">0.67</text>
<text x="807" y="1044.5">0.70</text>
<text x="846.9" y="1044.5">0.69</text>
<text x="886.7" y="1044.5">0.85</text>
<text x="926.6" y="1044.5">0.85</text>
<text x="966.4" y="1044.5">0.85</text>
<text x="1006.3" y="1044.5">0.85</text>
<text x="1046.1" y="1044.5">0.85</text>
<text x="1086" y="1044.5">0.85</text>
<text x="1125.8" y="1044.5">0.83</text>
<text x="1165.7" y="1044.5">0.78</text>
<text x="1205.5" y="1044.5">0.86</text>
<text x="1245.4" y="1044.5">0.86</text>
<text x="1285.2" y="1044.5">0.82</text>
<text x="1325.1" y="1044.5">0.92</text>
<text x="1364.9" y="1044.5">0.10</text>
<text x="328.8" y="1082.6">0.81</text>
<text x="368.7" y="1082.6">0.73</text>
<text x="408.5" y="1082.6">0.80</text>
<text x="448.4" y="1082.6">0.80</text>
<text x="488.2" y="1082.6">0.80</text>
<text x="528.1" y="1082.6">0.80</text>
<text x="567.9" y="1082.6">0.80</text>
<text x="607.8" y="1082.6">0.80</text>
<text x="647.6" y="1082.6">0.80</text>
<text x="687.5" y="1082.6">0.80</text>
<text x="727.3" y="1082.6">0.67</text>
<text x="767.2" y="1082.6">0.63</text>
<text x="807" y="1082.6">0.66</text>
<text x="846.9" y="1082.6">0.66</text>
<text x="886.7" y="1082.6">0.79</text>
<text x="926.6" y="1082.6">0.79</text>
<text x="966.4" y="1082.6">0.79</text>
<text x="1006.3" y="1082.6">0.79</text>
<text x="1046.1" y="1082.6">0.79</text>
<text x="1086" y="1082.6">0.80</text>
<text x="1125.8" y="1082.6">0.78</text>
<text x="1165.7" y="1082.6">0.74</text>
<text x="1205.5" y="1082.6">0.81</text>
<text x="1245.4" y="1082.6">0.81</text>
<text x="1285.2" y="1082.6">0.77</text>
<text x="1325.1" y="1082.6">0.85</text>
<text x="1364.9" y="1082.6">0.85</text>
<text x="1404.8" y="1082.6">0.05</text>
<text x="328.8" y="1120.7">0.81</text>
<text x="368.7" y="1120.7">0.74</text>
<text x="408.5" y="1120.7">0.80</text>
<text x="448.4" y="1120.7">0.80</text>
<text x="488.2" y="1120.7">0.80</text>
<text x="528.1" y="1120.7">0.80</text>
<text x="567.9" y="1120.7">0.80</text>
<text x="607.8" y="1120.7">0.80</text>
<text x="647.6" y="1120.7">0.80</text>
<text x="687.5" y="1120.7">0.80</text>
<text x="727.3" y="1120.7">0.67</text>
<text x="767.2" y="1120.7">0.63</text>
<text x="807" y="1120.7">0.66</text>
<text x="846.9" y="1120.7">0.66</text>
<text x="886.7" y="1120.7">0.79</text>
<text x="926.6" y="1120.7">0.79</text>
<text x="966.4" y="1120.7">0.79</text>
<text x="1006.3" y="1120.7">0.79</text>
<text x="1046.1" y="1120.7">0.79</text>
<text x="1086" y="1120.7">0.80</text>
<text x="1125.8" y="1120.7">0.78</text>
<text x="1165.7" y="1120.7">0.74</text>
<text x="1205.5" y="1120.7">0.81</text>
<text x="1245.4" y="1120.7">0.81</text>
<text x="1285.2" y="1120.7">0.77</text>
<text x="1325.1" y="1120.7">0.83</text>
<text x="1364.9" y="1120.7">0.83</text>
<text x="1404.8" y="1120.7">0.81</text>
<text x="1444.6" y="1120.7">0.05</text>
<text x="328.8" y="1158.7">0.89</text>
<text x="368.7" y="1158.7">0.83</text>
<text x="408.5" y="1158.7">0.89</text>
<text x="448.4" y="1158.7">0.89</text>
<text x="488.2" y="1158.7">0.89</text>
<text x="528.1" y="1158.7">0.89</text>
<text x="567.9" y="1158.7">0.89</text>
<text x="607.8" y="1158.7">0.89</text>
<text x="647.6" y="1158.7">0.89</text>
<text x="687.5" y="1158.7">0.89</text>
<text x="727.3" y="1158.7">0.70</text>
<text x="767.2" y="1158.7">0.67</text>
<text x="807" y="1158.7">0.70</text>
<text x="846.9" y="1158.7">0.69</text>
<text x="886.7" y="1158.7">0.85</text>
<text x="926.6" y="1158.7">0.85</text>
<text x="966.4" y="1158.7">0.85</text>
<text x="1006.3" y="1158.7">0.85</text>
<text x="1046.1" y="1158.7">0.85</text>
<text x="1086" y="1158.7">0.85</text>
<text x="1125.8" y="1158.7">0.83</text>
<text x="1165.7" y="1158.7">0.78</text>
<text x="1205.5" y="1158.7">0.86</text>
<text x="1245.4" y="1158.7">0.86</text>
<text x="1285.2" y="1158.7">0.82</text>
<text x="1325.1" y="1158.7">0.90</text>
<text x="1364.9" y="1158.7">0.91</text>
<text x="1404.8" y="1158.7">0.85</text>
<text x="1444.6" y="1158.7">0.83</text>
<text x="1484.5" y="1158.7">0.05</text>
<text x="328.8" y="1196.8">0.86</text>
<text x="368.7" y="1196.8">0.80</text>
<text x="408.5" y="1196.8">0.85</text>
<text x="448.4" y="1196.8">0.85</text>
<text x="488.2" y="1196.8">0.85</text>
<text x="528.1" y="1196.8">0.85</text>
<text x="567.9" y="1196.8">0.85</text>
<text x="607.8" y="1196.8">0.85</text>
<text x="647.6" y="1196.8">0.85</text>
<text x="687.5" y="1196.8">0.85</text>
<text x="727.3" y="1196.8">0.70</text>
<text x="767.2" y="1196.8">0.67</text>
<text x="807" y="1196.8">0.70</text>
<text x="846.9" y="1196.8">0.69</text>
<text x="886.7" y="1196.8">0.87</text>
<text x="926.6" y="1196.8">0.87</text>
<text x="966.4" y="1196.8">0.87</text>
<text x="1006.3" y="1196.8">0.87</text>
<text x="1046.1" y="1196.8">0.87</text>
<text x="1086" y="1196.8">0.87</text>
<text x="1125.8" y="1196.8">0.85</text>
<text x="1165.7" y="1196.8">0.79</text>
<text x="1205.5" y="1196.8">0.88</text>
<text x="1245.4" y="1196.8">0.88</text>
<text x="1285.2" y="1196.8">0.83</text>
<text x="1325.1" y="1196.8">0.86</text>
<text x="1364.9" y="1196.8">0.87</text>
<text x="1404.8" y="1196.8">0.80</text>
<text x="1444.6" y="1196.8">0.80</text>
<text x="1484.5" y="1196.8">0.86</text>
<text x="1524.3" y="1196.8">0.11</text>
<text x="328.8" y="1234.9">0.85</text>
<text x="368.7" y="1234.9">0.79</text>
<text x="408.5" y="1234.9">0.85</text>
<text x="448.4" y="1234.9">0.85</text>
<text x="488.2" y="1234.9">0.85</text>
<text x="528.1" y="1234.9">0.85</text>
<text x="567.9" y="1234.9">0.85</text>
<text x="607.8" y="1234.9">0.85</text>
<text x="647.6" y="1234.9">0.85</text>
<text x="687.5" y="1234.9">0.85</text>
<text x="727.3" y="1234.9">0.70</text>
<text x="767.2" y="1234.9">0.67</text>
<text x="807" y="1234.9">0.70</text>
<text x="846.9" y="1234.9">0.69</text>
<text x="886.7" y="1234.9">0.85</text>
<text x="926.6" y="1234.9">0.85</text>
<text x="966.4" y="1234.9">0.85</text>
<text x="1006.3" y="1234.9">0.85</text>
<text x="1046.1" y="1234.9">0.85</text>
<text x="1086" y="1234.9">0.85</text>
<text x="1125.8" y="1234.9">0.83</text>
<text x="1165.7" y="1234.9">0.78</text>
<text x="1205.5" y="1234.9">0.86</text>
<text x="1245.4" y="1234.9">0.86</text>
<text x="1285.2" y="1234.9">0.82</text>
<text x="1325.1" y="1234.9">0.85</text>
<text x="1364.9" y="1234.9">0.85</text>
<text x="1404.8" y="1234.9">0.79</text>
<text x="1444.6" y="1234.9">0.79</text>
<text x="1484.5" y="1234.9">0.85</text>
<text x="1524.3" y="1234.9">1.00</text>
<text x="1564.2" y="1234.9">0.11</text>
<text x="328.8" y="1273">0.91</text>
<text x="368.7" y="1273">0.85</text>
<text x="408.5" y="1273">0.91</text>
<text x="448.4" y="1273">0.91</text>
<text x="488.2" y="1273">0.91</text>
<text x="528.1" y="1273">0.91</text>
<text x="567.9" y="1273">0.91</text>
<text x="607.8" y="1273">0.91</text>
<text x="647.6" y="1273">0.91</text>
<text x="687.5" y="1273">0.91</text>
<text x="727.3" y="1273">0.71</text>
<text x="767.2" y="1273">0.67</text>
<text x="807" y="1273">0.71</text>
<text x="846.9" y="1273">0.70</text>
<text x="886.7" y="1273">0.88</text>
<text x="926.6" y="1273">0.88</text>
<text x="966.4" y="1273">0.88</text>
<text x="1006.3" y="1273">0.88</text>
<text x="1046.1" y="1273">0.88</text>
<text x="1086" y="1273">0.88</text>
<text x="1125.8" y="1273">0.85</text>
<text x="1165.7" y="1273">0.80</text>
<text x="1205.5" y="1273">0.90</text>
<text x="1245.4" y="1273">0.90</text>
<text x="1285.2" y="1273">0.84</text>
<text x="1325.1" y="1273">0.87</text>
<text x="1364.9" y="1273">0.88</text>
<text x="1404.8" y="1273">0.81</text>
<text x="1444.6" y="1273">0.81</text>
<text x="1484.5" y="1273">0.87</text>
<text x="1524.3" y="1273">0.87</text>
<text x="1564.2" y="1273">0.87</text>
<text x="1604" y="1273">0.11</text>
<text x="328.8" y="1311">0.84</text>
<text x="368.7" y="1311">0.77</text>
<text x="408.5" y="1311">0.83</text>
<text x="448.4" y="1311">0.83</text>
<text x="488.2" y="1311">0.83</text>
<text x="528.1" y="1311">0.83</text>
<text x="567.9" y="1311">0.83</text>
<text x="607.8" y="1311">0.83</text>
<text x="647.6" y="1311">0.83</text>
<text x="687.5" y="1311">0.83</text>
<text x="727.3" y="1311">0.69</text>
<text x="767.2" y="1311">0.66</text>
<text x="807" y="1311">0.69</text>
<text x="846.9" y="1311">0.68</text>
<text x="886.7" y="1311">0.84</text>
<text x="926.6" y="1311">0.84</text>
<text x="966.4" y="1311">0.84</text>
<text x="1006.3" y="1311">0.84</text>
<text x="1046.1" y="1311">0.84</text>
<text x="1086" y="1311">0.84</text>
<text x="1125.8" y="1311">0.82</text>
<text x="1165.7" y="1311">0.77</text>
<text x="1205.5" y="1311">0.85</text>
<text x="1245.4" y="1311">0.85</text>
<text x="1285.2" y="1311">0.81</text>
<text x="1325.1" y="1311">0.83</text>
<text x="1364.9" y="1311">0.84</text>
<text x="1404.8" y="1311">0.79</text>
<text x="1444.6" y="1311">0.78</text>
<text x="1484.5" y="1311">0.83</text>
<text x="1524.3" y="1311">0.83</text>
<text x="1564.2" y="1311">0.83</text>
<text x="1604" y="1311">0.90</text>
<text x="1643.9" y="1311">0.10</text>
<text x="328.8" y="1349.1">0.86</text>
<text x="368.7" y="1349.1">0.80</text>
<text x="408.5" y="1349.1">0.85</text>
<text x="448.4" y="1349.1">0.85</text>
<text x="488.2" y="1349.1">0.85</text>
<text x="528.1" y="1349.1">0.85</text>
<text x="567.9" y="1349.1">0.85</text>
<text x="607.8" y="1349.1">0.85</text>
<text x="647.6" y="1349.1">0.85</text>
<text x="687.5" y="1349.1">0.85</text>
<text x="727.3" y="1349.1">0.70</text>
<text x="767.2" y="1349.1">0.67</text>
<text x="807" y="1349.1">0.70</text>
<text x="846.9" y="1349.1">0.69</text>
<text x="886.7" y="1349.1">0.86</text>
<text x="926.6" y="1349.1">0.86</text>
<text x="966.4" y="1349.1">0.86</text>
<text x="1006.3" y="1349.1">0.86</text>
<text x="1046.1" y="1349.1">0.86</text>
<text x="1086" y="1349.1">0.87</text>
<text x="1125.8" y="1349.1">0.84</text>
<text x="1165.7" y="1349.1">0.79</text>
<text x="1205.5" y="1349.1">0.88</text>
<text x="1245.4" y="1349.1">0.88</text>
<text x="1285.2" y="1349.1">0.83</text>
<text x="1325.1" y="1349.1">0.86</text>
<text x="1364.9" y="1349.1">0.86</text>
<text x="1404.8" y="1349.1">0.80</text>
<text x="1444.6" y="1349.1">0.80</text>
<text x="1484.5" y="1349.1">0.86</text>
<text x="1524.3" y="1349.1">0.86</text>
<text x="1564.2" y="1349.1">0.86</text>
<text x="1604" y="1349.1">0.90</text>
<text x="1643.9" y="1349.1">0.97</text>
<text x="1683.7" y="1349.1">0.11</text>
<text x="328.8" y="1387.2">0.90</text>
<text x="368.7" y="1387.2">0.84</text>
<text x="408.5" y="1387.2">0.90</text>
<text x="448.4" y="1387.2">0.90</text>
<text x="488.2" y="1387.2">0.90</text>
<text x="528.1" y="1387.2">0.90</text>
<text x="567.9" y="1387.2">0.90</text>
<text x="607.8" y="1387.2">0.90</text>
<text x="647.6" y="1387.2">0.90</text>
<text x="687.5" y="1387.2">0.90</text>
<text x="727.3" y="1387.2">0.73</text>
<text x="767.2" y="1387.2">0.68</text>
<text x="807" y="1387.2">0.72</text>
<text x="846.9" y="1387.2">0.72</text>
<text x="886.7" y="1387.2">0.89</text>
<text x="926.6" y="1387.2">0.89</text>
<text x="966.4" y="1387.2">0.89</text>
<text x="1006.3" y="1387.2">0.89</text>
<text x="1046.1" y="1387.2">0.89</text>
<text x="1086" y="1387.2">0.90</text>
<text x="1125.8" y="1387.2">0.86</text>
<text x="1165.7" y="1387.2">0.80</text>
<text x="1205.5" y="1387.2">0.91</text>
<text x="1245.4" y="1387.2">0.91</text>
<text x="1285.2" y="1387.2">0.85</text>
<text x="1325.1" y="1387.2">0.88</text>
<text x="1364.9" y="1387.2">0.89</text>
<text x="1404.8" y="1387.2">0.82</text>
<text x="1444.6" y="1387.2">0.81</text>
<text x="1484.5" y="1387.2">0.88</text>
<text x="1524.3" y="1387.2">0.88</text>
<text x="1564.2" y="1387.2">0.88</text>
<text x="1604" y="1387.2">0.92</text>
<text x="1643.9" y="1387.2">0.92</text>
<text x="1683.7" y="1387.2">0.92</text>
<text x="1723.6" y="1387.2">0.11</text>
<text x="328.8" y="1425.2">0.90</text>
<text x="368.7" y="1425.2">0.85</text>
<text x="408.5" y="1425.2">0.90</text>
<text x="448.4" y="1425.2">0.90</text>
<text x="488.2" y="1425.2">0.90</text>
<text x="528.1" y="1425.2">0.90</text>
<text x="567.9" y="1425.2">0.90</text>
<text x="607.8" y="1425.2">0.90</text>
<text x="647.6" y="1425.2">0.90</text>
<text x="687.5" y="1425.2">0.90</text>
<text x="727.3" y="1425.2">0.73</text>
<text x="767.2" y="1425.2">0.68</text>
<text x="807" y="1425.2">0.72</text>
<text x="846.9" y="1425.2">0.72</text>
<text x="886.7" y="1425.2">0.89</text>
<text x="926.6" y="1425.2">0.89</text>
<text x="966.4" y="1425.2">0.89</text>
<text x="1006.3" y="1425.2">0.89</text>
<text x="1046.1" y="1425.2">0.89</text>
<text x="1086" y="1425.2">0.90</text>
<text x="1125.8" y="1425.2">0.86</text>
<text x="1165.7" y="1425.2">0.80</text>
<text x="1205.5" y="1425.2">0.91</text>
<text x="1245.4" y="1425.2">0.91</text>
<text x="1285.2" y="1425.2">0.85</text>
<text x="1325.1" y="1425.2">0.88</text>
<text x="1364.9" y="1425.2">0.89</text>
<text x="1404.8" y="1425.2">0.82</text>
<text x="1444.6" y="1425.2">0.81</text>
<text x="1484.5" y="1425.2">0.88</text>
<text x="1524.3" y="1425.2">0.88</text>
<text x="1564.2" y="1425.2">0.88</text>
<text x="1604" y="1425.2">0.92</text>
<text x="1643.9" y="1425.2">0.92</text>
<text x="1683.7" y="1425.2">0.92</text>
<text x="1723.6" y="1425.2">1.00</text>
<text x="1763.4" y="1425.2">0.11</text>
<text x="328.8" y="1463.3">0.85</text>
<text x="368.7" y="1463.3">0.78</text>
<text x="408.5" y="1463.3">0.84</text>
<text x="448.4" y="1463.3">0.84</text>
<text x="488.2" y="1463.3">0.84</text>
<text x="528.1" y="1463.3">0.84</text>
<text x="567.9" y="1463.3">0.84</text>
<text x="607.8" y="1463.3">0.84</text>
<text x="647.6" y="1463.3">0.84</text>
<text x="687.5" y="1463.3">0.84</text>
<text x="727.3" y="1463.3">0.70</text>
<text x="767.2" y="1463.3">0.66</text>
<text x="807" y="1463.3">0.69</text>
<text x="846.9" y="1463.3">0.69</text>
<text x="886.7" y="1463.3">0.85</text>
<text x="926.6" y="1463.3">0.85</text>
<text x="966.4" y="1463.3">0.85</text>
<text x="1006.3" y="1463.3">0.85</text>
<text x="1046.1" y="1463.3">0.85</text>
<text x="1086" y="1463.3">0.85</text>
<text x="1125.8" y="1463.3">0.83</text>
<text x="1165.7" y="1463.3">0.78</text>
<text x="1205.5" y="1463.3">0.86</text>
<text x="1245.4" y="1463.3">0.86</text>
<text x="1285.2" y="1463.3">0.82</text>
<text x="1325.1" y="1463.3">0.84</text>
<text x="1364.9" y="1463.3">0.85</text>
<text x="1404.8" y="1463.3">0.79</text>
<text x="1444.6" y="1463.3">0.79</text>
<text x="1484.5" y="1463.3">0.84</text>
<text x="1524.3" y="1463.3">0.84</text>
<text x="1564.2" y="1463.3">0.84</text>
<text x="1604" y="1463.3">0.89</text>
<text x="1643.9" y="1463.3">0.96</text>
<text x="1683.7" y="1463.3">0.96</text>
<text x="1723.6" y="1463.3">0.92</text>
<text x="1763.4" y="1463.3">0.92</text>
<text x="1803.3" y="1463.3">0.11</text>
<text x="328.8" y="1501.4">0.85</text>
<text x="368.7" y="1501.4">0.78</text>
<text x="408.5" y="1501.4">0.84</text>
<text x="448.4" y="1501.4">0.84</text>
<text x="488.2" y="1501.4">0.84</text>
<text x="528.1" y="1501.4">0.84</text>
<text x="567.9" y="1501.4">0.84</text>
<text x="607.8" y="1501.4">0.84</text>
<text x="647.6" y="1501.4">0.84</text>
<text x="687.5" y="1501.4">0.84</text>
<text x="727.3" y="1501.4">0.70</text>
<text x="767.2" y="1501.4">0.66</text>
<text x="807" y="1501.4">0.69</text>
<text x="846.9" y="1501.4">0.69</text>
<text x="886.7" y="1501.4">0.85</text>
<text x="926.6" y="1501.4">0.85</text>
<text x="966.4" y="1501.4">0.85</text>
<text x="1006.3" y="1501.4">0.85</text>
<text x="1046.1" y="1501.4">0.85</text>
<text x="1086" y="1501.4">0.85</text>
<text x="1125.8" y="1501.4">0.83</text>
<text x="1165.7" y="1501.4">0.78</text>
<text x="1205.5" y="1501.4">0.86</text>
<text x="1245.4" y="1501.4">0.86</text>
<text x="1285.2" y="1501.4">0.82</text>
<text x="1325.1" y="1501.4">0.84</text>
<text x="1364.9" y="1501.4">0.85</text>
<text x="1404.8" y="1501.4">0.79</text>
<text x="1444.6" y="1501.4">0.79</text>
<text x="1484.5" y="1501.4">0.84</text>
<text x="1524.3" y="1501.4">0.84</text>
<text x="1564.2" y="1501.4">0.84</text>
<text x="1604" y="1501.4">0.89</text>
<text x="1643.9" y="1501.4">0.96</text>
<text x="1683.7" y="1501.4">0.96</text>
<text x="1723.6" y="1501.4">0.92</text>
<text x="1763.4" y="1501.4">0.92</text>
<text x="1803.3" y="1501.4">0.99</text>
<text x="1843.1" y="1501.4">0.11</text>
<text x="328.8" y="1539.4">0.88</text>
<text x="368.7" y="1539.4">0.82</text>
<text x="408.5" y="1539.4">0.88</text>
<text x="448.4" y="1539.4">0.88</text>
<text x="488.2" y="1539.4">0.88</text>
<text x="528.1" y="1539.4">0.88</text>
<text x="567.9" y="1539.4">0.88</text>
<text x="607.8" y="1539.4">0.88</text>
<text x="647.6" y="1539.4">0.88</text>
<text x="687.5" y="1539.4">0.88</text>
<text x="727.3" y="1539.4">0.70</text>
<text x="767.2" y="1539.4">0.67</text>
<text x="807" y="1539.4">0.70</text>
<text x="846.9" y="1539.4">0.69</text>
<text x="886.7" y="1539.4">0.86</text>
<text x="926.6" y="1539.4">0.86</text>
<text x="966.4" y="1539.4">0.86</text>
<text x="1006.3" y="1539.4">0.86</text>
<text x="1046.1" y="1539.4">0.86</text>
<text x="1086" y="1539.4">0.87</text>
<text x="1125.8" y="1539.4">0.84</text>
<text x="1165.7" y="1539.4">0.79</text>
<text x="1205.5" y="1539.4">0.88</text>
<text x="1245.4" y="1539.4">0.88</text>
<text x="1285.2" y="1539.4">0.83</text>
<text x="1325.1" y="1539.4">0.86</text>
<text x="1364.9" y="1539.4">0.86</text>
<text x="1404.8" y="1539.4">0.80</text>
<text x="1444.6" y="1539.4">0.80</text>
<text x="1484.5" y="1539.4">0.86</text>
<text x="1524.3" y="1539.4">0.86</text>
<text x="1564.2" y="1539.4">0.86</text>
<text x="1604" y="1539.4">0.89</text>
<text x="1643.9" y="1539.4">0.96</text>
<text x="1683.7" y="1539.4">0.96</text>
<text x="1723.6" y="1539.4">0.92</text>
<text x="1763.4" y="1539.4">0.92</text>
<text x="1803.3" y="1539.4">0.99</text>
<text x="1843.1" y="1539.4">0.99</text>
<text x="1883" y="1539.4">0.11</text>
<text x="328.8" y="1577.5">0.90</text>
<text x="368.7" y="1577.5">0.84</text>
<text x="408.5" y="1577.5">0.89</text>
<text x="448.4" y="1577.5">0.89</text>
<text x="488.2" y="1577.5">0.89</text>
<text x="528.1" y="1577.5">0.89</text>
<text x="567.9" y="1577.5">0.89</text>
<text x="607.8" y="1577.5">0.89</text>
<text x="647.6" y="1577.5">0.89</text>
<text x="687.5" y="1577.5">0.89</text>
<text x="727.3" y="1577.5">0.70</text>
<text x="767.2" y="1577.5">0.67</text>
<text x="807" y="1577.5">0.70</text>
<text x="846.9" y="1577.5">0.69</text>
<text x="886.7" y="1577.5">0.89</text>
<text x="926.6" y="1577.5">0.89</text>
<text x="966.4" y="1577.5">0.89</text>
<text x="1006.3" y="1577.5">0.89</text>
<text x="1046.1" y="1577.5">0.88</text>
<text x="1086" y="1577.5">0.89</text>
<text x="1125.8" y="1577.5">0.86</text>
<text x="1165.7" y="1577.5">0.80</text>
<text x="1205.5" y="1577.5">0.90</text>
<text x="1245.4" y="1577.5">0.90</text>
<text x="1285.2" y="1577.5">0.84</text>
<text x="1325.1" y="1577.5">0.88</text>
<text x="1364.9" y="1577.5">0.89</text>
<text x="1404.8" y="1577.5">0.81</text>
<text x="1444.6" y="1577.5">0.81</text>
<text x="1484.5" y="1577.5">0.88</text>
<text x="1524.3" y="1577.5">0.88</text>
<text x="1564.2" y="1577.5">0.88</text>
<text x="1604" y="1577.5">0.95</text>
<text x="1643.9" y="1577.5">0.89</text>
<text x="1683.7" y="1577.5">0.89</text>
<text x="1723.6" y="1577.5">0.89</text>
<text x="1763.4" y="1577.5">0.89</text>
<text x="1803.3" y="1577.5">0.89</text>
<text x="1843.1" y="1577.5">0.89</text>
<text x="1883" y="1577.5">0.89</text>
<text x="1922.8" y="1577.5">0.11</text>
<text x="328.8" y="1615.6">0.90</text>
<text x="368.7" y="1615.6">0.84</text>
<text x="408.5" y="1615.6">0.89</text>
<text x="448.4" y="1615.6">0.89</text>
<text x="488.2" y="1615.6">0.89</text>
<text x="528.1" y="1615.6">0.89</text>
<text x="567.9" y="1615.6">0.89</text>
<text x="607.8" y="1615.6">0.89</text>
<text x="647.6" y="1615.6">0.89</text>
<text x="687.5" y="1615.6">0.89</text>
<text x="727.3" y="1615.6">0.70</text>
<text x="767.2" y="1615.6">0.67</text>
<text x="807" y="1615.6">0.70</text>
<text x="846.9" y="1615.6">0.69</text>
<text x="886.7" y="1615.6">0.89</text>
<text x="926.6" y="1615.6">0.89</text>
<text x="966.4" y="1615.6">0.89</text>
<text x="1006.3" y="1615.6">0.89</text>
<text x="1046.1" y="1615.6">0.88</text>
<text x="1086" y="1615.6">0.89</text>
<text x="1125.8" y="1615.6">0.86</text>
<text x="1165.7" y="1615.6">0.80</text>
<text x="1205.5" y="1615.6">0.90</text>
<text x="1245.4" y="1615.6">0.90</text>
<text x="1285.2" y="1615.6">0.84</text>
<text x="1325.1" y="1615.6">0.88</text>
<text x="1364.9" y="1615.6">0.89</text>
<text x="1404.8" y="1615.6">0.81</text>
<text x="1444.6" y="1615.6">0.81</text>
<text x="1484.5" y="1615.6">0.88</text>
<text x="1524.3" y="1615.6">0.88</text>
<text x="1564.2" y="1615.6">0.88</text>
<text x="1604" y="1615.6">0.95</text>
<text x="1643.9" y="1615.6">0.89</text>
<text x="1683.7" y="1615.6">0.89</text>
<text x="1723.6" y="1615.6">0.89</text>
<text x="1763.4" y="1615.6">0.89</text>
<text x="1803.3" y="1615.6">0.89</text>
<text x="1843.1" y="1615.6">0.89</text>
<text x="1883" y="1615.6">0.89</text>
<text x="1922.8" y="1615.6">1.00</text>
<text x="1962.7" y="1615.6">0.11</text>
<text x="328.8" y="1653.6">0.90</text>
<text x="368.7" y="1653.6">0.84</text>
<text x="408.5" y="1653.6">0.89</text>
<text x="448.4" y="1653.6">0.89</text>
<text x="488.2" y="1653.6">0.89</text>
<text x="528.1" y="1653.6">0.89</text>
<text x="567.9" y="1653.6">0.89</text>
<text x="607.8" y="1653.6">0.89</text>
<text x="647.6" y="1653.6">0.89</text>
<text x="687.5" y="1653.6">0.89</text>
<text x="727.3" y="1653.6">0.70</text>
<text x="767.2" y="1653.6">0.67</text>
<text x="807" y="1653.6">0.70</text>
<text x="846.9" y="1653.6">0.69</text>
<text x="886.7" y="1653.6">0.89</text>
<text x="926.6" y="1653.6">0.89</text>
<text x="966.4" y="1653.6">0.89</text>
<text x="1006.3" y="1653.6">0.89</text>
<text x="1046.1" y="1653.6">0.88</text>
<text x="1086" y="1653.6">0.89</text>
<text x="1125.8" y="1653.6">0.86</text>
<text x="1165.7" y="1653.6">0.80</text>
<text x="1205.5" y="1653.6">0.90</text>
<text x="1245.4" y="1653.6">0.90</text>
<text x="1285.2" y="1653.6">0.84</text>
<text x="1325.1" y="1653.6">0.88</text>
<text x="1364.9" y="1653.6">0.89</text>
<text x="1404.8" y="1653.6">0.81</text>
<text x="1444.6" y="1653.6">0.81</text>
<text x="1484.5" y="1653.6">0.88</text>
<text x="1524.3" y="1653.6">0.88</text>
<text x="1564.2" y="1653.6">0.88</text>
<text x="1604" y="1653.6">0.95</text>
<text x="1643.9" y="1653.6">0.89</text>
<text x="1683.7" y="1653.6">0.89</text>
<text x="1723.6" y="1653.6">0.89</text>
<text x="1763.4" y="1653.6">0.89</text>
<text x="1803.3" y="1653.6">0.89</text>
<text x="1843.1" y="1653.6">0.89</text>
<text x="1883" y="1653.6">0.89</text>
<text x="1922.8" y="1653.6">1.00</text>
<text x="1962.7" y="1653.6">1.00</text>
<text x="2002.5" y="1653.6">0.11</text>
<text x="328.8" y="1691.7">0.90</text>
<text x="368.7" y="1691.7">0.84</text>
<text x="408.5" y="1691.7">0.89</text>
<text x="448.4" y="1691.7">0.89</text>
<text x="488.2" y="1691.7">0.89</text>
<text x="528.1" y="1691.7">0.89</text>
<text x="567.9" y="1691.7">0.89</text>
<text x="607.8" y="1691.7">0.89</text>
<text x="647.6" y="1691.7">0.89</text>
<text x="687.5" y="1691.7">0.89</text>
<text x="727.3" y="1691.7">0.70</text>
<text x="767.2" y="1691.7">0.67</text>
<text x="807" y="1691.7">0.70</text>
<text x="846.9" y="1691.7">0.69</text>
<text x="886.7" y="1691.7">0.89</text>
<text x="926.6" y="1691.7">0.89</text>
<text x="966.4" y="1691.7">0.89</text>
<text x="1006.3" y="1691.7">0.89</text>
<text x="1046.1" y="1691.7">0.88</text>
<text x="1086" y="1691.7">0.89</text>
<text x="1125.8" y="1691.7">0.86</text>
<text x="1165.7" y="1691.7">0.80</text>
<text x="1205.5" y="1691.7">0.90</text>
<text x="1245.4" y="1691.7">0.90</text>
<text x="1285.2" y="1691.7">0.84</text>
<text x="1325.1" y="1691.7">0.88</text>
<text x="1364.9" y="1691.7">0.89</text>
<text x="1404.8" y="1691.7">0.81</text>
<text x="1444.6" y="1691.7">0.81</text>
<text x="1484.5" y="1691.7">0.88</text>
<text x="1524.3" y="1691.7">0.88</text>
<text x="1564.2" y="1691.7">0.88</text>
<text x="1604" y="1691.7">0.95</text>
<text x="1643.9" y="1691.7">0.89</text>
<text x="1683.7" y="1691.7">0.89</text>
<text x="1723.6" y="1691.7">0.89</text>
<text x="1763.4" y="1691.7">0.89</text>
<text x="1803.3" y="1691.7">0.89</text>
<text x="1843.1" y="1691.7">0.89</text>
<text x="1883" y="1691.7">0.89</text>
<text x="1922.8" y="1691.7">1.00</text>
<text x="1962.7" y="1691.7">1.00</text>
<text x="2002.5" y="1691.7">1.00</text>
<text x="2042.4" y="1691.7">0.11</text>
<text x="328.8" y="1729.8">0.90</text>
<text x="368.7" y="1729.8">0.84</text>
<text x="408.5" y="1729.8">0.89</text>
<text x="448.4" y="1729.8">0.89</text>
<text x="488.2" y="1729.8">0.89</text>
<text x="528.1" y="1729.8">0.89</text>
<text x="567.9" y="1729.8">0.89</text>
<text x="607.8" y="1729.8">0.89</text>
<text x="647.6" y="1729.8">0.89</text>
<text x="687.5" y="1729.8">0.89</text>
<text x="727.3" y="1729.8">0.70</text>
<text x="767.2" y="1729.8">0.67</text>
<text x="807" y="1729.8">0.70</text>
<text x="846.9" y="1729.8">0.69</text>
<text x="886.7" y="1729.8">0.89</text>
<text x="926.6" y="1729.8">0.89</text>
<text x="966.4" y="1729.8">0.89</text>
<text x="1006.3" y="1729.8">0.89</text>
<text x="1046.1" y="1729.8">0.88</text>
<text x="1086" y="1729.8">0.89</text>
<text x="1125.8" y="1729.8">0.86</text>
<text x="1165.7" y="1729.8">0.80</text>
<text x="1205.5" y="1729.8">0.90</text>
<text x="1245.4" y="1729.8">0.90</text>
<text x="1285.2" y="1729.8">0.84</text>
<text x="1325.1" y="1729.8">0.88</text>
<text x="1364.9" y="1729.8">0.89</text>
<text x="1404.8" y="1729.8">0.81</text>
<text x="1444.6" y="1729.8">0.81</text>
<text x="1484.5" y="1729.8">0.88</text>
<text x="1524.3" y="1729.8">0.88</text>
<text x="1564.2" y="1729.8">0.88</text>
<text x="1604" y="1729.8">0.95</text>
<text x="1643.9" y="1729.8">0.89</text>
<text x="1683.7" y="1729.8">0.89</text>
<text x="1723.6" y="1729.8">0.89</text>
<text x="1763.4" y="1729.8">0.89</text>
<text x="1803.3" y="1729.8">0.89</text>
<text x="1843.1" y="1729.8">0.89</text>
<text x="1883" y="1729.8">0.89</text>
<text x="1922.8" y="1729.8">1.00</text>
<text x="1962.7" y="1729.8">1.00</text>
<text x="2002.5" y="1729.8">1.00</text>
<text x="2042.4" y="1729.8">1.00</text>
<text x="2082.2" y="1729.8">0.11</text>
<text x="328.8" y="1767.9">0.89</text>
<text x="368.7" y="1767.9">0.83</text>
<text x="408.5" y="1767.9">0.88</text>
<text x="448.4" y="1767.9">0.88</text>
<text x="488.2" y="1767.9">0.88</text>
<text x="528.1" y="1767.9">0.88</text>
<text x="567.9" y="1767.9">0.88</text>
<text x="607.8" y="1767.9">0.88</text>
<text x="647.6" y="1767.9">0.88</text>
<text x="687.5" y="1767.9">0.88</text>
<text x="727.3" y="1767.9">0.70</text>
<text x="767.2" y="1767.9">0.67</text>
<text x="807" y="1767.9">0.70</text>
<text x="846.9" y="1767.9">0.69</text>
<text x="886.7" y="1767.9">0.89</text>
<text x="926.6" y="1767.9">0.89</text>
<text x="966.4" y="1767.9">0.89</text>
<text x="1006.3" y="1767.9">0.89</text>
<text x="1046.1" y="1767.9">0.88</text>
<text x="1086" y="1767.9">0.89</text>
<text x="1125.8" y="1767.9">0.86</text>
<text x="1165.7" y="1767.9">0.80</text>
<text x="1205.5" y="1767.9">0.90</text>
<text x="1245.4" y="1767.9">0.90</text>
<text x="1285.2" y="1767.9">0.84</text>
<text x="1325.1" y="1767.9">0.88</text>
<text x="1364.9" y="1767.9">0.89</text>
<text x="1404.8" y="1767.9">0.81</text>
<text x="1444.6" y="1767.9">0.81</text>
<text x="1484.5" y="1767.9">0.88</text>
<text x="1524.3" y="1767.9">0.88</text>
<text x="1564.2" y="1767.9">0.88</text>
<text x="1604" y="1767.9">0.95</text>
<text x="1643.9" y="1767.9">0.89</text>
<text x="1683.7" y="1767.9">0.89</text>
<text x="1723.6" y="1767.9">0.89</text>
<text x="1763.4" y="1767.9">0.89</text>
<text x="1803.3" y="1767.9">0.89</text>
<text x="1843.1" y="1767.9">0.89</text>
<text x="1883" y="1767.9">0.89</text>
<text x="1922.8" y="1767.9">0.93</text>
<text x="1962.7" y="1767.9">0.93</text>
<text x="2002.5" y="1767.9">0.93</text>
<text x="2042.4" y="1767.9">0.93</text>
<text x="2082.2" y="1767.9">0.93</text>
<text x="2122.1" y="1767.9">0.11</text>
<text x="328.8" y="1805.9">0.87</text>
<text x="368.7" y="1805.9">0.82</text>
<text x="408.5" y="1805.9">0.87</text>
<text x="448.4" y="1805.9">0.87</text>
<text x="488.2" y="1805.9">0.87</text>
<text x="528.1" y="1805.9">0.87</text>
<text x="567.9" y="1805.9">0.87</text>
<text x="607.8" y="1805.9">0.87</text>
<text x="647.6" y="1805.9">0.87</text>
<text x="687.5" y="1805.9">0.87</text>
<text x="727.3" y="1805.9">0.70</text>
<text x="767.2" y="1805.9">0.67</text>
<text x="807" y="1805.9">0.70</text>
<text x="846.9" y="1805.9">0.69</text>
<text x="886.7" y="1805.9">0.88</text>
<text x="926.6" y="1805.9">0.88</text>
<text x="966.4" y="1805.9">0.88</text>
<text x="1006.3" y="1805.9">0.88</text>
<text x="1046.1" y="1805.9">0.88</text>
<text x="1086" y="1805.9">0.89</text>
<text x="1125.8" y="1805.9">0.86</text>
<text x="1165.7" y="1805.9">0.80</text>
<text x="1205.5" y="1805.9">0.90</text>
<text x="1245.4" y="1805.9">0.90</text>
<text x="1285.2" y="1805.9">0.84</text>
<text x="1325.1" y="1805.9">0.87</text>
<text x="1364.9" y="1805.9">0.88</text>
<text x="1404.8" y="1805.9">0.81</text>
<text x="1444.6" y="1805.9">0.81</text>
<text x="1484.5" y="1805.9">0.87</text>
<text x="1524.3" y="1805.9">0.87</text>
<text x="1564.2" y="1805.9">0.87</text>
<text x="1604" y="1805.9">0.89</text>
<text x="1643.9" y="1805.9">0.95</text>
<text x="1683.7" y="1805.9">0.95</text>
<text x="1723.6" y="1805.9">0.94</text>
<text x="1763.4" y="1805.9">0.94</text>
<text x="1803.3" y="1805.9">0.95</text>
<text x="1843.1" y="1805.9">0.95</text>
<text x="1883" y="1805.9">0.95</text>
<text x="1922.8" y="1805.9">0.89</text>
<text x="1962.7" y="1805.9">0.89</text>
<text x="2002.5" y="1805.9">0.89</text>
<text x="2042.4" y="1805.9">0.89</text>
<text x="2082.2" y="1805.9">0.89</text>
<text x="2122.1" y="1805.9">0.89</text>
<text x="2161.9" y="1805.9">0.11</text>
<text x="328.8" y="1844">0.84</text>
<text x="368.7" y="1844">0.77</text>
<text x="408.5" y="1844">0.83</text>
<text x="448.4" y="1844">0.83</text>
<text x="488.2" y="1844">0.83</text>
<text x="528.1" y="1844">0.83</text>
<text x="567.9" y="1844">0.83</text>
<text x="607.8" y="1844">0.83</text>
<text x="647.6" y="1844">0.83</text>
<text x="687.5" y="1844">0.83</text>
<text x="727.3" y="1844">0.69</text>
<text x="767.2" y="1844">0.66</text>
<text x="807" y="1844">0.69</text>
<text x="846.9" y="1844">0.68</text>
<text x="886.7" y="1844">0.85</text>
<text x="926.6" y="1844">0.85</text>
<text x="966.4" y="1844">0.85</text>
<text x="1006.3" y="1844">0.85</text>
<text x="1046.1" y="1844">0.85</text>
<text x="1086" y="1844">0.86</text>
<text x="1125.8" y="1844">0.84</text>
<text x="1165.7" y="1844">0.78</text>
<text x="1205.5" y="1844">0.87</text>
<text x="1245.4" y="1844">0.87</text>
<text x="1285.2" y="1844">0.82</text>
<text x="1325.1" y="1844">0.85</text>
<text x="1364.9" y="1844">0.85</text>
<text x="1404.8" y="1844">0.80</text>
<text x="1444.6" y="1844">0.79</text>
<text x="1484.5" y="1844">0.85</text>
<text x="1524.3" y="1844">0.85</text>
<text x="1564.2" y="1844">0.85</text>
<text x="1604" y="1844">0.89</text>
<text x="1643.9" y="1844">0.89</text>
<text x="1683.7" y="1844">0.89</text>
<text x="1723.6" y="1844">0.90</text>
<text x="1763.4" y="1844">0.90</text>
<text x="1803.3" y="1844">0.89</text>
<text x="1843.1" y="1844">0.89</text>
<text x="1883" y="1844">0.89</text>
<text x="1922.8" y="1844">0.89</text>
<text x="1962.7" y="1844">0.89</text>
<text x="2002.5" y="1844">0.89</text>
<text x="2042.4" y="1844">0.89</text>
<text x="2082.2" y="1844">0.89</text>
<text x="2122.1" y="1844">0.89</text>
<text x="2161.9" y="1844">0.89</text>
<text x="2201.8" y="1844">0.11</text>
<text x="328.8" y="1882.1">0.88</text>
<text x="368.7" y="1882.1">0.82</text>
<text x="408.5" y="1882.1">0.88</text>
<text x="448.4" y="1882.1">0.88</text>
<text x="488.2" y="1882.1">0.88</text>
<text x="528.1" y="1882.1">0.88</text>
<text x="567.9" y="1882.1">0.88</text>
<text x="607.8" y="1882.1">0.88</text>
<text x="647.6" y="1882.1">0.88</text>
<text x="687.5" y="1882.1">0.88</text>
<text x="727.3" y="1882.1">0.70</text>
<text x="767.2" y="1882.1">0.67</text>
<text x="807" y="1882.1">0.70</text>
<text x="846.9" y="1882.1">0.69</text>
<text x="886.7" y="1882.1">0.88</text>
<text x="926.6" y="1882.1">0.88</text>
<text x="966.4" y="1882.1">0.88</text>
<text x="1006.3" y="1882.1">0.88</text>
<text x="1046.1" y="1882.1">0.88</text>
<text x="1086" y="1882.1">0.89</text>
<text x="1125.8" y="1882.1">0.86</text>
<text x="1165.7" y="1882.1">0.80</text>
<text x="1205.5" y="1882.1">0.90</text>
<text x="1245.4" y="1882.1">0.90</text>
<text x="1285.2" y="1882.1">0.84</text>
<text x="1325.1" y="1882.1">0.87</text>
<text x="1364.9" y="1882.1">0.88</text>
<text x="1404.8" y="1882.1">0.81</text>
<text x="1444.6" y="1882.1">0.81</text>
<text x="1484.5" y="1882.1">0.87</text>
<text x="1524.3" y="1882.1">0.87</text>
<text x="1564.2" y="1882.1">0.87</text>
<text x="1604" y="1882.1">0.89</text>
<text x="1643.9" y="1882.1">0.93</text>
<text x="1683.7" y="1882.1">0.93</text>
<text x="1723.6" y="1882.1">0.96</text>
<text x="1763.4" y="1882.1">0.96</text>
<text x="1803.3" y="1882.1">0.93</text>
<text x="1843.1" y="1882.1">0.93</text>
<text x="1883" y="1882.1">0.93</text>
<text x="1922.8" y="1882.1">0.89</text>
<text x="1962.7" y="1882.1">0.89</text>
<text x="2002.5" y="1882.1">0.89</text>
<text x="2042.4" y="1882.1">0.89</text>
<text x="2082.2" y="1882.1">0.89</text>
<text x="2122.1" y="1882.1">0.89</text>
<text x="2161.9" y="1882.1">0.97</text>
<text x="2201.8" y="1882.1">0.89</text>
<text x="2241.6" y="1882.1">0.11</text>
<text x="328.8" y="1920.1">0.90</text>
<text x="368.7" y="1920.1">0.84</text>
<text x="408.5" y="1920.1">0.89</text>
<text x="448.4" y="1920.1">0.89</text>
<text x="488.2" y="1920.1">0.89</text>
<text x="528.1" y="1920.1">0.89</text>
<text x="567.9" y="1920.1">0.89</text>
<text x="607.8" y="1920.1">0.89</text>
<text x="647.6" y="1920.1">0.89</text>
<text x="687.5" y="1920.1">0.89</text>
<text x="727.3" y="1920.1">0.70</text>
<text x="767.2" y="1920.1">0.67</text>
<text x="807" y="1920.1">0.70</text>
<text x="846.9" y="1920.1">0.69</text>
<text x="886.7" y="1920.1">0.89</text>
<text x="926.6" y="1920.1">0.89</text>
<text x="966.4" y="1920.1">0.89</text>
<text x="1006.3" y="1920.1">0.89</text>
<text x="1046.1" y="1920.1">0.88</text>
<text x="1086" y="1920.1">0.89</text>
<text x="1125.8" y="1920.1">0.86</text>
<text x="1165.7" y="1920.1">0.80</text>
<text x="1205.5" y="1920.1">0.90</text>
<text x="1245.4" y="1920.1">0.90</text>
<text x="1285.2" y="1920.1">0.84</text>
<text x="1325.1" y="1920.1">0.88</text>
<text x="1364.9" y="1920.1">0.89</text>
<text x="1404.8" y="1920.1">0.81</text>
<text x="1444.6" y="1920.1">0.81</text>
<text x="1484.5" y="1920.1">0.88</text>
<text x="1524.3" y="1920.1">0.88</text>
<text x="1564.2" y="1920.1">0.88</text>
<text x="1604" y="1920.1">0.93</text>
<text x="1643.9" y="1920.1">0.89</text>
<text x="1683.7" y="1920.1">0.89</text>
<text x="1723.6" y="1920.1">0.90</text>
<text x="1763.4" y="1920.1">0.90</text>
<text x="1803.3" y="1920.1">0.89</text>
<text x="1843.1" y="1920.1">0.89</text>
<text x="1883" y="1920.1">0.89</text>
<text x="1922.8" y="1920.1">0.93</text>
<text x="1962.7" y="1920.1">0.93</text>
<text x="2002.5" y="1920.1">0.93</text>
<text x="2042.4" y="1920.1">0.93</text>
<text x="2082.2" y="1920.1">0.93</text>
<text x="2122.1" y="1920.1">0.93</text>
<text x="2161.9" y="1920.1">0.92</text>
<text x="2201.8" y="1920.1">0.92</text>
<text x="2241.6" y="1920.1">0.92</text>
<text x="2281.5" y="1920.1">0.11</text>
<text x="328.8" y="1958.2">0.89</text>
<text x="368.7" y="1958.2">0.83</text>
<text x="408.5" y="1958.2">0.89</text>
<text x="448.4" y="1958.2">0.89</text>
<text x="488.2" y="1958.2">0.89</text>
<text x="528.1" y="1958.2">0.89</text>
<text x="567.9" y="1958.2">0.89</text>
<text x="607.8" y="1958.2">0.89</text>
<text x="647.6" y="1958.2">0.89</text>
<text x="687.5" y="1958.2">0.89</text>
<text x="727.3" y="1958.2">0.70</text>
<text x="767.2" y="1958.2">0.67</text>
<text x="807" y="1958.2">0.70</text>
<text x="846.9" y="1958.2">0.69</text>
<text x="886.7" y="1958.2">0.89</text>
<text x="926.6" y="1958.2">0.89</text>
<text x="966.4" y="1958.2">0.89</text>
<text x="1006.3" y="1958.2">0.89</text>
<text x="1046.1" y="1958.2">0.88</text>
<text x="1086" y="1958.2">0.89</text>
<text x="1125.8" y="1958.2">0.86</text>
<text x="1165.7" y="1958.2">0.80</text>
<text x="1205.5" y="1958.2">0.90</text>
<text x="1245.4" y="1958.2">0.90</text>
<text x="1285.2" y="1958.2">0.84</text>
<text x="1325.1" y="1958.2">0.88</text>
<text x="1364.9" y="1958.2">0.89</text>
<text x="1404.8" y="1958.2">0.81</text>
<text x="1444.6" y="1958.2">0.81</text>
<text x="1484.5" y="1958.2">0.88</text>
<text x="1524.3" y="1958.2">0.88</text>
<text x="1564.2" y="1958.2">0.88</text>
<text x="1604" y="1958.2">0.95</text>
<text x="1643.9" y="1958.2">0.90</text>
<text x="1683.7" y="1958.2">0.90</text>
<text x="1723.6" y="1958.2">0.90</text>
<text x="1763.4" y="1958.2">0.90</text>
<text x="1803.3" y="1958.2">0.90</text>
<text x="1843.1" y="1958.2">0.90</text>
<text x="1883" y="1958.2">0.90</text>
<text x="1922.8" y="1958.2">0.93</text>
<text x="1962.7" y="1958.2">0.93</text>
<text x="2002.5" y="1958.2">0.93</text>
<text x="2042.4" y="1958.2">0.93</text>
<text x="2082.2" y="1958.2">0.93</text>
<text x="2122.1" y="1958.2">0.93</text>
<text x="2161.9" y="1958.2">0.90</text>
<text x="2201.8" y="1958.2">0.90</text>
<text x="2241.6" y="1958.2">0.90</text>
<text x="2281.5" y="1958.2">0.90</text>
<text x="2321.3" y="1958.2">0.11</text>
<text x="328.8" y="1996.3">0.90</text>
<text x="368.7" y="1996.3">0.84</text>
<text x="408.5" y="1996.3">0.89</text>
<text x="448.4" y="1996.3">0.89</text>
<text x="488.2" y="1996.3">0.89</text>
<text x="528.1" y="1996.3">0.89</text>
<text x="567.9" y="1996.3">0.89</text>
<text x="607.8" y="1996.3">0.89</text>
<text x="647.6" y="1996.3">0.89</text>
<text x="687.5" y="1996.3">0.89</text>
<text x="727.3" y="1996.3">0.70</text>
<text x="767.2" y="1996.3">0.67</text>
<text x="807" y="1996.3">0.70</text>
<text x="846.9" y="1996.3">0.69</text>
<text x="886.7" y="1996.3">0.89</text>
<text x="926.6" y="1996.3">0.89</text>
<text x="966.4" y="1996.3">0.89</text>
<text x="1006.3" y="1996.3">0.89</text>
<text x="1046.1" y="1996.3">0.89</text>
<text x="1086" y="1996.3">0.90</text>
<text x="1125.8" y="1996.3">0.86</text>
<text x="1165.7" y="1996.3">0.80</text>
<text x="1205.5" y="1996.3">0.91</text>
<text x="1245.4" y="1996.3">0.91</text>
<text x="1285.2" y="1996.3">0.85</text>
<text x="1325.1" y="1996.3">0.88</text>
<text x="1364.9" y="1996.3">0.89</text>
<text x="1404.8" y="1996.3">0.82</text>
<text x="1444.6" y="1996.3">0.81</text>
<text x="1484.5" y="1996.3">0.88</text>
<text x="1524.3" y="1996.3">0.88</text>
<text x="1564.2" y="1996.3">0.88</text>
<text x="1604" y="1996.3">0.93</text>
<text x="1643.9" y="1996.3">0.93</text>
<text x="1683.7" y="1996.3">0.93</text>
<text x="1723.6" y="1996.3">0.90</text>
<text x="1763.4" y="1996.3">0.90</text>
<text x="1803.3" y="1996.3">0.93</text>
<text x="1843.1" y="1996.3">0.93</text>
<text x="1883" y="1996.3">0.93</text>
<text x="1922.8" y="1996.3">0.93</text>
<text x="1962.7" y="1996.3">0.93</text>
<text x="2002.5" y="1996.3">0.93</text>
<text x="2042.4" y="1996.3">0.93</text>
<text x="2082.2" y="1996.3">0.93</text>
<text x="2122.1" y="1996.3">0.93</text>
<text x="2161.9" y="1996.3">0.93</text>
<text x="2201.8" y="1996.3">0.93</text>
<text x="2241.6" y="1996.3">0.93</text>
<text x="2281.5" y="1996.3">0.93</text>
<text x="2321.3" y="1996.3">0.93</text>
<text x="2361.2" y="1996.3">0.11</text>
</g>
<path d="M301.6 52.8h3.8M328.8 2017.5v3.2M301.6 90.9h3.8M368.7 2017.5v3.2M301.6 129h3.8M408.5 2017.5v3.2M301.6 167h3.8M448.4 2017.5v3.2M301.6 205.1h3.8M488.2 2017.5v3.2M301.6 243.2h3.8M528.1 2017.5v3.2M301.6 281.2h3.8M567.9 2017.5v3.2M301.6 319.3h3.8M607.8 2017.5v3.2M301.6 357.4h3.8M647.6 2017.5v3.2M301.6 395.5h3.8M687.5 2017.5v3.2M301.6 433.5h3.8M727.3 2017.5v3.2M301.6 471.6h3.8M767.2 2017.5v3.2M301.6 509.7h3.8M807 2017.5v3.2M301.6 547.7h3.8M846.9 2017.5v3.2M301.6 585.8h3.8M886.7 2017.5v3.2M301.6 623.9h3.8M926.6 2017.5v3.2M301.6 661.9h3.8M966.4 2017.5v3.2M301.6 700h3.8M1006.3 2017.5v3.2M301.6 738.1h3.8M1046.1 2017.5v3.2M301.6 776.1h3.8M1086 2017.5v3.2M301.6 814.2h3.8M1125.8 2017.5v3.2M301.6 852.3h3.8M1165.7 2017.5v3.2M301.6 890.4h3.8M1205.5 2017.5v3.2M301.6 928.4h3.8M1245.4 2017.5v3.2M301.6 966.5h3.8M1285.2 2017.5v3.2M301.6 1004.6h3.8M1325.1 2017.5v3.2M301.6 1042.6h3.8M1364.9 2017.5v3.2M301.6 1080.7h3.8M1404.8 2017.5v3.2M301.6 1118.8h3.8M1444.6 2017.5v3.2M301.6 1156.8h3.8M1484.5 2017.5v3.2M301.6 1194.9h3.8M1524.3 2017.5v3.2M301.6 1233h3.8M1564.2 2017.5v3.2M301.6 1271h3.8M1604 2017.5v3.2M301.6 1309.1h3.8M1643.9 2017.5v3.2M301.6 1347.2h3.8M1683.7 2017.5v3.2M301.6 1385.3h3.8M1723.6 2017.5v3.2M301.6 1423.3h3.8M1763.4 2017.5v3.2M301.6 1461.4h3.8M1803.3 2017.5v3.2M301.6 1499.5h3.8M1843.1 2017.5v3.2M301.6 1537.5h3.8M1883 2017.5v3.2M301.6 1575.6h3.8M1922.8 2017.5v3.2M301.6 1613.7h3.8M1962.7 2017.5v3.2M301.6 1651.7h3.8M2002.5 2017.5v3.2M301.6 1689.8h3.8M2042.4 2017.5v3.2M301.6 1727.9h3.8M2082.2 2017.5v3.2M301.6 1766h3.8M2122.1 2017.5v3.2M301.6 1804h3.8M2161.9 2017.5v3.2M301.6 1842.1h3.8M2201.8 2017.5v3.2M301.6 1880.2h3.8M2241.6 2017.5v3.2M301.6 1918.2h3.8M2281.5 2017.5v3.2M301.6 1956.3h3.8M2321.3 2017.5v3.2M301.6 1994.4h3.8M2361.2 2017.5v3.2" stroke="#444" stroke-width="1.1" fill="none"/>
<g font-family="'Liberation Serif','Times New Roman',serif" font-size="13.35" fill="#4d4d4d">
<text x="200.2" y="56.8">L.ivanovii_1638</text>
<text x="120.2" y="94.9">L.ivanovii_FSL_F6.596_702454</text>
<text x="107.6" y="133">L.ivanovii_subsp_ivanovii_202751</text>
<text x="89.3" y="171">L.ivanovii_subsp_ivanovii_202751_v1</text>
<text x="89.3" y="209.1">L.ivanovii_subsp_ivanovii_202751_v2</text>
<text x="60.8" y="247.2">L.ivanovii_subsp_ivanovii_PAM_55_881621</text>
<text x="85.8" y="285.2">L.ivanovii_subsp_londoniensis_202752</text>
<text x="67.5" y="323.3">L.ivanovii_subsp_londoniensis_202752_v1</text>
<text x="67.5" y="361.4">L.ivanovii_subsp_londoniensis_202752_v2</text>
<text x="117.2" y="399.5">L.ivanovii_WSLC3009_1457190</text>
<text x="215.2" y="437.5">L.grayi_1641</text>
<text x="196.8" y="475.6">L.grayi_1641_v1</text>
<text x="196.8" y="513.7">L.grayi_1641_v2</text>
<text x="133.5" y="551.7">L.grayi_DSM_20601_525367</text>
<text x="201.6" y="589.8">L.innocua_1642</text>
<text x="183.2" y="627.9">L.innocua_1642_v1</text>
<text x="183.2" y="665.9">L.innocua_1642_v2</text>
<text x="183.2" y="704">L.innocua_1642_v3</text>
<text x="183.2" y="742.1">L.innocua_1642_v4</text>
<text x="131.9" y="780.1">L.innocua_Clip11262_272626</text>
<text x="123.6" y="818.2">L.innocua_FSL_J1.023_702455</text>
<text x="121.6" y="856.3">L.innocua_FSL_S4.378_702456</text>
<text x="192.7" y="894.4">L.marthii_529731</text>
<text x="174.3" y="932.4">L.marthii_529731_v1</text>
<text x="125" y="970.5">L.marthii_FSL_S4.120_702457</text>
<text x="198.8" y="1008.6">L.seeligeri_1640</text>
<text x="180.5" y="1046.6">L.seeligeri_1640_v1</text>
<text x="116.8" y="1084.7">L.seeligeri_FSL_N1.067_702453</text>
<text x="118.9" y="1122.8">L.seeligeri_FSL_S4.171_702452</text>
<text x="34.2" y="1160.8">L.seeligeri_serovar_1_2b_str_SLCC3954_683837</text>
<text x="33.5" y="1198.9">L.welshimeri_serovar_6b_str_SLCC5334_386043</text>
<text x="185.9" y="1237">L.welshimeri_1643</text>
<text x="89.5" y="1275">L.monocytogenes_07PF0776_1126011</text>
<text x="105.3" y="1313.1">L.monocytogenes_08.5578_653938</text>
<text x="105.3" y="1351.2">L.monocytogenes_08.5923_637381</text>
<text x="107.6" y="1389.3">L.monocytogenes_10403S_393133</text>
<text x="163.4" y="1427.3">L.monocytogenes_1639</text>
<text x="132.8" y="1465.4">L.monocytogenes_1639_v100</text>
<text x="132.8" y="1503.5">L.monocytogenes_1639_v101</text>
<text x="132.8" y="1541.5">L.monocytogenes_1639_v102</text>
<text x="132.8" y="1579.6">L.monocytogenes_1639_v103</text>
<text x="132.8" y="1617.7">L.monocytogenes_1639_v104</text>
<text x="132.8" y="1655.7">L.monocytogenes_1639_v105</text>
<text x="132.8" y="1693.8">L.monocytogenes_1639_v106</text>
<text x="132.8" y="1731.9">L.monocytogenes_1639_v107</text>
<text x="132.8" y="1770">L.monocytogenes_1639_v108</text>
<text x="132.8" y="1808">L.monocytogenes_1639_v109</text>
<text x="138.9" y="1846.1">L.monocytogenes_1639_v10</text>
<text x="133.3" y="1884.2">L.monocytogenes_1639_v110</text>
<text x="133.7" y="1922.2">L.monocytogenes_1639_v111</text>
<text x="133.3" y="1960.3">L.monocytogenes_1639_v112</text>
<text x="133.3" y="1998.4">L.monocytogenes_1639_v113</text>
</g>
<g font-family="'Liberation Serif','Times New Roman',serif" font-size="13.35" fill="#4d4d4d">
<text transform="translate(336.4,2280) rotate(-90)">L.ivanovii_1638</text>
<text transform="translate(376.3,2280) rotate(-90)">L.ivanovii_FSL_F6−596_702454</text>
<text transform="translate(416.1,2280) rotate(-90)">L.ivanovii_subsp_ivanovii_202751</text>
<text transform="translate(456,2280) rotate(-90)">L.ivanovii_subsp_ivanovii_202751_v1</text>
<text transform="translate(495.8,2280) rotate(-90)">L.ivanovii_subsp_ivanovii_202751_v2</text>
<text transform="translate(535.7,2280) rotate(-90)">L.ivanovii_subsp_ivanovii_PAM_55_881621</text>
<text transform="translate(575.5,2280) rotate(-90)">L.ivanovii_subsp_londoniensis_202752</text>
<text transform="translate(615.4,2280) rotate(-90)">L.ivanovii_subsp_londoniensis_202752_v1</text>
<text transform="translate(655.2,2280) rotate(-90)">L.ivanovii_subsp_londoniensis_202752_v2</text>
<text transform="translate(695.1,2280) rotate(-90)">L.ivanovii_WSLC3009_1457190</text>
<text transform="translate(734.9,2280) rotate(-90)">L.grayi_1641</text>
<text transform="translate(774.8,2280) rotate(-90)">L.grayi_1641_v1</text>
<text transform="translate(814.6,2280) rotate(-90)">L.grayi_1641_v2</text>
<text transform="translate(854.5,2280) rotate(-90)">L.grayi_DSM_20601_525367</text>
<text transform="translate(894.3,2280) rotate(-90)">L.innocua_1642</text>
<text transform="translate(934.2,2280) rotate(-90)">L.innocua_1642_v1</text>
<text transform="translate(974,2280) rotate(-90)">L.innocua_1642_v2</text>
<text transform="translate(1013.9,2280) rotate(-90)">L.innocua_1642_v3</text>
<text transform="translate(1053.7,2280) rotate(-90)">L.innocua_1642_v4</text>
<text transform="translate(1093.6,2280) rotate(-90)">L.innocua_Clip11262_272626</text>
<text transform="translate(1133.4,2280) rotate(-90)">L.innocua_FSL_J1−023_702455</text>
<text transform="translate(1173.3,2280) rotate(-90)">L.innocua_FSL_S4−378_702456</text>
<text transform="translate(1213.1,2280) rotate(-90)">L.marthii_529731</text>
<text transform="translate(1253,2280) rotate(-90)">L.marthii_529731_v1</text>
<text transform="translate(1292.8,2280) rotate(-90)">L.marthii_FSL_S4−120_702457</text>
<text transform="translate(1332.7,2280) rotate(-90)">L.seeligeri_1640</text>
<text transform="translate(1372.5,2280) rotate(-90)">L.seeligeri_1640_v1</text>
<text transform="translate(1412.4,2280) rotate(-90)">L.seeligeri_FSL_N1−067_702453</text>
<text transform="translate(1452.2,2280) rotate(-90)">L.seeligeri_FSL_S4−171_702452</text>
<text transform="translate(1492.1,2280) rotate(-90)">L.seeligeri_serovar_1_2b_str_SLCC3954_683837</text>
<text transform="translate(1531.9,2280) rotate(-90)">L.welshimeri_serovar_6b_str_SLCC5334_386043</text>
<text transform="translate(1571.8,2280) rotate(-90)">L.welshimeri_1643</text>
<text transform="translate(1611.6,2280) rotate(-90)">L.monocytogenes_07PF0776_1126011</text>
<text transform="translate(1651.5,2280) rotate(-90)">L.monocytogenes_08−5578_653938</text>
<text transform="translate(1691.3,2280) rotate(-90)">L.monocytogenes_08−5923_637381</text>
<text transform="translate(1731.2,2280) rotate(-90)">L.monocytogenes_10403S_393133</text>
<text transform="translate(1771,2280) rotate(-90)">L.monocytogenes_1639</text>
<text transform="translate(1810.9,2280) rotate(-90)">L.monocytogenes_1639_v100</text>
<text transform="translate(1850.7,2280) rotate(-90)">L.monocytogenes_1639_v101</text>
<text transform="translate(1890.6,2280) rotate(-90)">L.monocytogenes_1639_v102</text>
<text transform="translate(1930.4,2280) rotate(-90)">L.monocytogenes_1639_v103</text>
<text transform="translate(1970.3,2280) rotate(-90)">L.monocytogenes_1639_v104</text>
<text transform="translate(2010.1,2280) rotate(-90)">L.monocytogenes_1639_v105</text>
<text transform="translate(2050,2280) rotate(-90)">L.monocytogenes_1639_v106</text>
<text transform="translate(2089.8,2280) rotate(-90)">L.monocytogenes_1639_v107</text>
<text transform="translate(2129.7,2280) rotate(-90)">L.monocytogenes_1639_v108</text>
<text transform="translate(2169.5,2280) rotate(-90)">L.monocytogenes_1639_v109</text>
<text transform="translate(2209.4,2280) rotate(-90)">L.monocytogenes_1639_v10</text>
<text transform="translate(2249.2,2280) rotate(-90)">L.monocytogenes_1639_v110</text>
<text transform="translate(2289.1,2280) rotate(-90)">L.monocytogenes_1639_v111</text>
<text transform="translate(2328.9,2280) rotate(-90)">L.monocytogenes_1639_v112</text>
<text transform="translate(2368.8,2280) rotate(-90)">L.monocytogenes_1639_v113</text>
</g>
<defs><linearGradient id="cb" x1="0" y1="0" x2="0" y2="1">
<stop offset="0" stop-color="#2146a0"/>
<stop offset="0.03" stop-color="#2a48a0"/>
<stop offset="0.0965" stop-color="#4a53a5"/>
<stop offset="0.13" stop-color="#5059a8"/>
<stop offset="0.162" stop-color="#6870b5"/>
<stop offset="0.25" stop-color="#7b9fd6"/>
<stop offset="0.305" stop-color="#82c0e0"/>
<stop offset="0.423" stop-color="#b5d8ec"/>
<stop offset="0.5" stop-color="#d9e9f4"/>
<stop offset="0.592" stop-color="#ffffff"/>
<stop offset="0.61" stop-color="#fdfdfb"/>
<stop offset="0.684" stop-color="#d5dcc5"/>
<stop offset="0.75" stop-color="#a9bf90"/>
<stop offset="0.814" stop-color="#7fa65a"/>
<stop offset="0.879" stop-color="#5a9636"/>
<stop offset="0.915" stop-color="#3f8a2f"/>
<stop offset="0.945" stop-color="#6cbb5c"/>
<stop offset="0.975" stop-color="#8fcc84"/>
<stop offset="1" stop-color="#f4faf2"/>
</linearGradient></defs>
<rect x="2106" y="184.7" width="118" height="586.6" fill="url(#cb)"/>
<path d="M2106 331.3h23M2201 331.3h23M2106 477.9h23M2201 477.9h23M2106 624.5h23M2201 624.5h23" stroke="#fff" stroke-opacity="0.55" stroke-width="1.2" fill="none"/>
<g font-family="'Liberation Serif','Times New Roman',serif" font-size="42.3" fill="#000">
<text x="1920" y="123.5" xml:space="preserve">Ratio of  homologous protein</text>
<text x="2263.5" y="220.3">1.00</text>
<text x="2263.5" y="353">0.75</text>
<text x="2263.5" y="502.3">0.50</text>
<text x="2263.5" y="696.7">0.25</text>
<text x="2263.5" y="803">0.00</text>
</g>
<g font-family="'Liberation Serif','Times New Roman',serif" font-size="23.7" fill="#555"><text x="132.3" y="2349.4">Tree scale: 0.1</text></g>
<path d="M317.3 2341.5H427.3" stroke="#555" stroke-width="9.5"/>
<path d="M317.8 2327v28.8M426.8 2327v28.8M372.3 2345v7.6" stroke="#555" stroke-width="1.6" fill="none"/>
<g font-family="'Liberation Serif','Times New Roman',serif" font-size="30" fill="#000">
<text x="134" y="2408.4">Plasmid</text>
<text x="136.5" y="2520.7">Isolation source</text>
<text x="447.5" y="2406">Geographic location</text>
<text x="780" y="2403.6">Colored ranges</text>
<text x="782" y="2985.2">Collection_date</text>
<text x="187.3" y="2469.6">TRUE</text><text x="363.5" y="2469.6">NA</text>
<text x="197.3" y="2580">Bos taurus</text>
<text x="197.3" y="2640.2">Cattle</text>
<text x="197.3" y="2700.5">Chicken</text>
<text x="197.3" y="2760.8">Cow</text>
<text x="197.3" y="2821">Environment</text>
<text x="197.3" y="2881.2">Food</text>
<text x="197.3" y="2941.5">Goat</text>
<text x="197.3" y="3001.8">Homo sapiens</text>
<text x="197.3" y="3062">Horse</text>
<text x="197.3" y="3122.2">Lemna trisulca</text>
<text x="197.3" y="3182.5">Meat</text>
<text x="197.3" y="3242.8">Microtus arvalis</text>
<text x="197.3" y="3303">Ovis aries</text>
<text x="197.3" y="3363.2">Pig</text>
<text x="197.3" y="3423.5">Plant</text>
<text x="197.3" y="3483.8">Rabbit</text>
<text x="197.3" y="3544">Sheep</text>
<text x="197.3" y="3604.2">Tick</text>
<text x="197.3" y="3664.5">NA</text>
<text x="508.3" y="2465.3">Australia</text>
<text x="508.3" y="2525.6">Canada</text>
<text x="508.3" y="2585.9">China</text>
<text x="508.3" y="2646.1">Denmark</text>
<text x="508.3" y="2706.4">Finland</text>
<text x="508.3" y="2766.7">France</text>
<text x="508.3" y="2827">Germany</text>
<text x="508.3" y="2887.3">India</text>
<text x="508.3" y="2947.5">Italy</text>
<text x="508.3" y="3007.8">Netherlands</text>
<text x="508.3" y="3068.1">Norway</text>
<text x="508.3" y="3128.4">Poland</text>
<text x="508.3" y="3188.7">Russia</text>
<text x="508.3" y="3248.9">South Africa</text>
<text x="508.3" y="3309.2">South Korea</text>
<text x="508.3" y="3369.5">Switzerland</text>
<text x="508.3" y="3429.8">United Kingdom</text>
<text x="508.3" y="3490.1">Uruguay</text>
<text x="508.3" y="3550.3">USA</text>
<text x="508.3" y="3610.6">USSR</text>
<text x="508.3" y="3670.9">NA</text>
<text x="841" y="2463.4">L_welshimeri</text>
<text x="841" y="2523.7">L_seeligeri</text>
<text x="839" y="2583.9">L_monocytogenes</text>
<text x="841" y="2644.2">L_marthii</text>
<text x="841" y="2704.4">L_ivanovii</text>
<text x="841" y="2764.7">L_innocua</text>
<text x="841" y="2824.9">L_grayi</text>
<text x="853.5" y="3044.5">1900</text>
<text x="853.5" y="3104.8">1912</text>
<text x="853.5" y="3165">1924</text>
<text x="853.5" y="3225.3">1936</text>
<text x="853.5" y="3285.6">1948</text>
<text x="853.5" y="3345.8">1960</text>
<text x="853.5" y="3406.1">1972</text>
<text x="853.5" y="3466.4">1984</text>
<text x="853.5" y="3526.7">1996</text>
<text x="853.5" y="3586.9">2008</text>
<text x="853.5" y="3647.2">2021</text>
</g>
<path d="M129.8 2423.7H418.4M132.3 2537.2H403.4M444 2421.3L757.8 2418M776.4 2420.4H1083" stroke="#777" stroke-width="1.6" fill="none"/>
<path d="M778 3001.2H1002.4" stroke="#333" stroke-width="1.3" fill="none"/>
<rect x="772.8" y="2951.4" width="236" height="724" fill="none" stroke="#f0f0f0" stroke-width="1.2"/>
<g stroke="#444" stroke-width="1.3">
<rect x="132.6" y="2439" width="40.4" height="40.2" fill="#2a9a78"/>
<rect x="300.6" y="2440.6" width="41" height="40.4" fill="#fff" stroke="#777"/>
<rect x="136.6" y="2551.2" width="40.2" height="39.6" fill="#6475b8"/>
<rect x="136.6" y="2611.4" width="40.2" height="39.6" fill="#589040"/>
<rect x="136.6" y="2671.7" width="40.2" height="39.6" fill="#56429b"/>
<rect x="136.6" y="2731.9" width="40.2" height="39.6" fill="#7fc55f"/>
<rect x="136.6" y="2792.2" width="40.2" height="39.6" fill="#a5569d"/>
<rect x="136.6" y="2852.4" width="40.2" height="39.6" fill="#4b4040"/>
<rect x="136.6" y="2912.7" width="40.2" height="39.6" fill="#4a2a62"/>
<rect x="136.6" y="2972.9" width="40.2" height="39.6" fill="#74c4a3"/>
<rect x="136.6" y="3033.2" width="40.2" height="39.6" fill="#cf4a3c"/>
<rect x="136.6" y="3093.4" width="40.2" height="39.6" fill="#6fa5ba"/>
<rect x="136.6" y="3153.7" width="40.2" height="39.6" fill="#bd3d7f"/>
<rect x="136.6" y="3213.9" width="40.2" height="39.6" fill="#4e6239"/>
<rect x="136.6" y="3274.2" width="40.2" height="39.6" fill="#c8c69b"/>
<rect x="136.6" y="3334.4" width="40.2" height="39.6" fill="#772e2d"/>
<rect x="136.6" y="3394.7" width="40.2" height="39.6" fill="#cccb47"/>
<rect x="136.6" y="3454.9" width="40.2" height="39.6" fill="#c396c9"/>
<rect x="136.6" y="3515.2" width="40.2" height="39.6" fill="#c3863a"/>
<rect x="136.6" y="3575.4" width="40.2" height="39.6" fill="#c5857f"/>
<rect x="136.6" y="3635.7" width="40.2" height="39.6" fill="#ffffff" stroke="#666"/>
<ellipse cx="467.4" cy="2456.2" rx="20.4" ry="15" fill="#a5cde2"/>
<ellipse cx="467.4" cy="2516.5" rx="20.4" ry="15" fill="#1f74b0"/>
<ellipse cx="467.4" cy="2576.8" rx="20.4" ry="15" fill="#b0dc8a"/>
<ellipse cx="467.4" cy="2637" rx="20.4" ry="15" fill="#339c33"/>
<ellipse cx="467.4" cy="2697.3" rx="20.4" ry="15" fill="#f59a99"/>
<rect x="447.2" y="2738.4" width="40.4" height="40" fill="#a5cde2"/>
<rect x="447.2" y="2798.7" width="40.4" height="40" fill="#1f74b0"/>
<rect x="447.2" y="2859" width="40.4" height="40" fill="#b0dc8a"/>
<rect x="447.2" y="2919.2" width="40.4" height="40" fill="#339c33"/>
<rect x="447.2" y="2979.5" width="40.4" height="40" fill="#f59a99"/>
<path d="M447.6 3059L487.1 3039.5V3078.5Z" fill="#a5cde2"/>
<path d="M447.6 3119.3L487.1 3099.8V3138.8Z" fill="#1f74b0"/>
<path d="M447.6 3179.6L487.1 3160.1V3199.1Z" fill="#b0dc8a"/>
<path d="M447.6 3239.8L487.1 3220.3V3259.3Z" fill="#339c33"/>
<path d="M447.6 3300.1L487.1 3280.6V3319.6Z" fill="#f59a99"/>
<path d="M487.1 3360.4L447.6 3340.9V3379.9Z" fill="#a5cde2"/>
<path d="M487.1 3420.7L447.6 3401.2V3440.2Z" fill="#1f74b0"/>
<path d="M487.1 3481L447.6 3461.5V3500.5Z" fill="#b0dc8a"/>
<path d="M487.1 3541.2L447.6 3521.7V3560.7Z" fill="#339c33"/>
<path d="M487.1 3601.5L447.6 3582V3621Z" fill="#f59a99"/>
<path d="M447.6 3661.8L467.4 3642L487.2 3661.8L467.4 3681.6Z" fill="#fff"/>
<rect x="780.6" y="2434.4" width="40" height="40" fill="#666666"/>
<rect x="780.6" y="2494.7" width="40" height="40" fill="#e0a81c"/>
<rect x="780.6" y="2554.9" width="40" height="40" fill="#66a030"/>
<rect x="780.6" y="2615.2" width="40" height="40" fill="#d92a85"/>
<rect x="780.6" y="2675.4" width="40" height="40" fill="#6f68aa"/>
<rect x="780.6" y="2735.7" width="40" height="40" fill="#d25f16"/>
<rect x="780.6" y="2795.9" width="40" height="40" fill="#2a9a78"/>
</g>
<g shape-rendering="crispEdges">
<rect x="781.8" y="3005.6" width="61.2" height="60.6" fill="#bdbdbd"/>
<rect x="781.8" y="3065.9" width="61.2" height="60.6" fill="#b3aebd"/>
<rect x="781.8" y="3126.3" width="61.2" height="60.6" fill="#a89fbf"/>
<rect x="781.8" y="3186.7" width="61.2" height="60.6" fill="#9d91bd"/>
<rect x="781.8" y="3247" width="61.2" height="60.6" fill="#9282bb"/>
<rect x="781.8" y="3307.3" width="61.2" height="60.6" fill="#8874b6"/>
<rect x="781.8" y="3367.7" width="61.2" height="60.6" fill="#6f67ae"/>
<rect x="781.8" y="3428" width="61.2" height="60.6" fill="#5563a6"/>
<rect x="781.8" y="3488.4" width="61.2" height="60.6" fill="#3d5e9f"/>
<rect x="781.8" y="3548.8" width="61.2" height="60.6" fill="#265698"/>
<rect x="781.8" y="3609.1" width="61.2" height="60.6" fill="#164f91"/>
</g>
<path d="M1343.1 2790.9A485.7 485.7 0 0 1 1363.6 2757.6L1270.5 2694.8A598 598 0 0 0 1245.2 2735.7Z" fill="#2a9a78"/>
<path d="M1363.4 2757.9A485.7 485.7 0 0 1 1392.7 2718.8L1306.3 2647A598 598 0 0 0 1270.3 2695.1Z" fill="#e0a81c"/>
<path d="M1392.5 2719.1A485.7 485.7 0 0 1 1461.7 2650.9L1391.3 2563.4A598 598 0 0 0 1306.1 2647.4Z" fill="#6f68aa"/>
<path d="M1461.4 2651.1A485.7 485.7 0 0 1 1477 2639.1L1410.2 2548.8A598 598 0 0 0 1391 2563.7Z" fill="#666666"/>
<path d="M1476.8 2639.3A485.7 485.7 0 0 1 1542.8 2598L1491.1 2498.3A598 598 0 0 0 1409.8 2549.1Z" fill="#d25f16"/>
<path d="M1542.5 2598.2A485.7 485.7 0 0 1 1569 2585.4L1523.4 2482.8A598 598 0 0 0 1490.8 2498.5Z" fill="#d92a85"/>
<path d="M1568.7 2585.6A485.7 485.7 0 0 1 2122.7 3359.1L2205.2 3435.4A598 598 0 0 0 1523 2483ZM2123 3358.8A485.7 485.7 0 0 1 1311.5 2858.6L1206.4 2819.1A598 598 0 0 0 2205.5 3435Z" fill="#66a030"/>
<path d="M1242.3 2734.4A601.3 601.3 0 0 1 2311.2 3283.6A601.3 601.3 0 0 1 1203.3 2818.2M1218.5 2721.3A628.7 628.7 0 0 1 2336 3295.5A628.7 628.7 0 0 1 1177.6 2808.9M1204.5 2714.2A644.7 644.7 0 0 1 2350.5 3303.1A644.7 644.7 0 0 1 1162.6 2804.1M1191.5 2707.3A659.6 659.6 0 0 1 2364 3309.8A659.6 659.6 0 0 1 1148.7 2799.2M1178.8 2700.3A674.2 674.2 0 0 1 2377.3 3316.1A674.2 674.2 0 0 1 1135 2794.3" fill="none" stroke="#adadad" stroke-width="1.2"/>
<path d="M1241.3 2734.2A602.4 602.4 0 0 1 1253.7 2713.1L1232.1 2699.7A627.8 627.8 0 0 0 1219.1 2721.7ZM1326.4 2618A602.4 602.4 0 0 1 1335 2609L1316.8 2591.3A627.8 627.8 0 0 0 1307.9 2600.7ZM1369.6 2576.3A602.4 602.4 0 0 1 1388.4 2560.5L1372.4 2540.7A627.8 627.8 0 0 0 1352.9 2557.1ZM1397.5 2553.3A602.4 602.4 0 0 1 1407.4 2545.8L1392.3 2525.4A627.8 627.8 0 0 0 1381.9 2533.3Z" fill="#bdbdbd"/>
<path d="M1280.4 2673.6A602.4 602.4 0 0 1 1295.2 2654.1L1275.4 2638.3A627.8 627.8 0 0 0 1259.9 2658.5ZM1351.8 2592.5A602.4 602.4 0 0 1 1361 2584L1343.9 2565.2A627.8 627.8 0 0 0 1334.4 2574ZM1446.8 2519A602.4 602.4 0 0 1 1457.4 2512.5L1444.4 2490.7A627.8 627.8 0 0 0 1433.3 2497.4ZM1467.4 2506.6A602.4 602.4 0 0 1 1488.9 2494.9L1477.2 2472.4A627.8 627.8 0 0 0 1454.8 2484.6ZM1499.3 2489.7A602.4 602.4 0 0 1 1521.4 2479.3L1511.1 2456.1A627.8 627.8 0 0 0 1488 2466.9ZM1543.2 2470.1A602.4 602.4 0 0 1 1566.1 2461.5L1557.7 2437.5A627.8 627.8 0 0 0 1533.8 2446.5ZM1611.7 2447.5A602.4 602.4 0 0 1 1623.7 2444.4L1617.7 2419.7A627.8 627.8 0 0 0 1605.2 2422.9ZM1635 2441.8A602.4 602.4 0 0 1 1659 2436.9L1654.5 2411.9A627.8 627.8 0 0 0 1629.5 2417ZM1742.2 2427.8A602.4 602.4 0 0 1 1778.7 2427.4L1779.2 2402A627.8 627.8 0 0 0 1741.2 2402.4ZM1802.3 2428.4A602.4 602.4 0 0 1 1814.8 2429.3L1816.8 2403.9A627.8 627.8 0 0 0 1803.9 2403ZM1862.1 2435A602.4 602.4 0 0 1 1909.6 2444.6L1915.7 2420A627.8 627.8 0 0 0 1866.1 2409.9ZM1932.5 2450.7A602.4 602.4 0 0 1 1967.2 2461.8L1975.7 2437.9A627.8 627.8 0 0 0 1939.5 2426.3ZM2000.5 2474.7A602.4 602.4 0 0 1 2011.9 2479.7L2022.2 2456.5A627.8 627.8 0 0 0 2010.3 2451.3ZM2022.4 2484.5A602.4 602.4 0 0 1 2135.4 2553.7L2150.9 2533.6A627.8 627.8 0 0 0 2033.2 2461.5ZM2171.9 2584.4A602.4 602.4 0 0 1 2198.1 2609.8L2216.3 2592A627.8 627.8 0 0 0 2189 2565.6ZM2214.2 2627A602.4 602.4 0 0 1 2230.2 2645.5L2249.8 2629.3A627.8 627.8 0 0 0 2233.1 2610ZM2313.1 2777.1A602.4 602.4 0 0 1 2335.7 2833.3L2359.7 2825A627.8 627.8 0 0 0 2336.1 2766.5ZM2342.9 2855.8A602.4 602.4 0 0 1 2364.8 2962.1L2390 2959.2A627.8 627.8 0 0 0 2367.3 2848.4ZM2366 2973.6A602.4 602.4 0 0 1 2367 2986L2392.3 2984.2A627.8 627.8 0 0 0 2391.3 2971.2ZM2368.6 3033.7A602.4 602.4 0 0 1 2368.4 3046.1L2393.8 3046.8A627.8 627.8 0 0 0 2394 3033.8ZM2367.9 3057.7A602.4 602.4 0 0 1 2366.3 3082.1L2391.6 3084.3A627.8 627.8 0 0 0 2393.3 3058.9ZM2358.2 3141.2A602.4 602.4 0 0 1 2355.8 3153.5L2380.6 3158.7A627.8 627.8 0 0 0 2383.1 3146ZM2350.4 3176.5A602.4 602.4 0 0 1 2340.5 3211.6L2364.7 3219.3A627.8 627.8 0 0 0 2375.1 3182.7ZM2328.7 3245.3A602.4 602.4 0 0 1 2309.5 3289.8L2332.5 3300.8A627.8 627.8 0 0 0 2352.4 3254.3ZM2304.4 3300.2A602.4 602.4 0 0 1 2280.9 3342.7L2302.6 3355.9A627.8 627.8 0 0 0 2327.1 3311.6ZM2247.4 3392.1A602.4 602.4 0 0 1 2239.8 3401.9L2259.8 3417.6A627.8 627.8 0 0 0 2267.7 3407.4ZM2232.6 3411A602.4 602.4 0 0 1 2224.6 3420.5L2243.9 3437A627.8 627.8 0 0 0 2252.2 3427.1ZM2200.7 3447A602.4 602.4 0 0 1 2165.7 3480.6L2182.5 3499.6A627.8 627.8 0 0 0 2219 3464.6ZM2156.9 3488.2A602.4 602.4 0 0 1 2147.4 3496.2L2163.4 3515.8A627.8 627.8 0 0 0 2173.4 3507.5ZM2119.1 3517.9A602.4 602.4 0 0 1 2025.8 3573.3L2036.7 3596.2A627.8 627.8 0 0 0 2134 3538.5ZM2015.3 3578.2A602.4 602.4 0 0 1 1981.6 3592.3L1990.7 3616A627.8 627.8 0 0 0 2025.8 3601.3ZM1913.2 3613.9A602.4 602.4 0 0 1 1733.9 3631.2L1732.5 3656.6A627.8 627.8 0 0 0 1919.4 3638.5ZM1710.3 3629.5A602.4 602.4 0 0 1 1686 3626.7L1682.6 3651.9A627.8 627.8 0 0 0 1708 3654.8ZM1662.7 3623.1A602.4 602.4 0 0 1 1638.7 3618.4L1633.3 3643.3A627.8 627.8 0 0 0 1658.3 3648.2ZM1615.7 3613A602.4 602.4 0 0 1 1603.6 3609.8L1596.8 3634.2A627.8 627.8 0 0 0 1609.3 3637.6ZM1592.5 3606.5A602.4 602.4 0 0 1 1546.6 3590.7L1537.4 3614.3A627.8 627.8 0 0 0 1585.2 3630.8ZM1524.8 3581.6A602.4 602.4 0 0 1 1491.8 3566L1480.3 3588.6A627.8 627.8 0 0 0 1514.6 3604.9ZM1471 3554.8A602.4 602.4 0 0 1 1439.7 3536L1426 3557.3A627.8 627.8 0 0 0 1458.6 3577ZM1420.1 3522.8A602.4 602.4 0 0 1 1372.4 3485.6L1355.8 3504.8A627.8 627.8 0 0 0 1405.6 3543.6ZM1313 3426.6A602.4 602.4 0 0 1 1297.3 3407.8L1277.5 3423.8A627.8 627.8 0 0 0 1293.9 3443.3ZM1290.1 3398.7A602.4 602.4 0 0 1 1275.5 3379.1L1254.8 3393.8A627.8 627.8 0 0 0 1270 3414.3ZM1255.7 3349.5A602.4 602.4 0 0 1 1243.1 3328.5L1221 3341.1A627.8 627.8 0 0 0 1234.1 3362.9ZM1231.8 3307.7A602.4 602.4 0 0 1 1226.2 3296.6L1203.4 3307.9A627.8 627.8 0 0 0 1209.3 3319.4ZM1221.1 3286.2A602.4 602.4 0 0 1 1215.9 3274.8L1192.7 3285.2A627.8 627.8 0 0 0 1198.1 3297ZM1194.4 3219.2A602.4 602.4 0 0 1 1184 3184.2L1159.4 3190.7A627.8 627.8 0 0 0 1170.3 3227.2ZM1178.3 3161.2A602.4 602.4 0 0 1 1168.1 3101.6L1142.9 3104.6A627.8 627.8 0 0 0 1153.6 3166.8ZM1164.3 3054.1A602.4 602.4 0 0 1 1163.9 3041.6L1138.5 3042.1A627.8 627.8 0 0 0 1138.9 3055.1ZM1163.8 3030A602.4 602.4 0 0 1 1163.9 3017.6L1138.5 3017.1A627.8 627.8 0 0 0 1138.4 3030ZM1164.3 3006A602.4 602.4 0 0 1 1168.1 2957.6L1142.9 2954.6A627.8 627.8 0 0 0 1138.9 3005ZM1173.4 2922.4A602.4 602.4 0 0 1 1181 2886.7L1156.4 2880.6A627.8 627.8 0 0 0 1148.4 2917.8ZM1187.1 2863.8A602.4 602.4 0 0 1 1190.6 2851.9L1166.4 2844.4A627.8 627.8 0 0 0 1162.7 2856.8ZM1198.1 2829.4A602.4 602.4 0 0 1 1202.3 2817.8L1178.5 2808.8A627.8 627.8 0 0 0 1174.1 2821Z" fill="#1f5598"/>
<path d="M1295 2654.4A602.4 602.4 0 0 1 1302.8 2644.8L1283.3 2628.6A627.8 627.8 0 0 0 1275.1 2638.6ZM1416.8 2539A602.4 602.4 0 0 1 1437 2525.2L1423.1 2503.9A627.8 627.8 0 0 0 1402 2518.3ZM1488.5 2495.1A602.4 602.4 0 0 1 1499.6 2489.5L1488.4 2466.7A627.8 627.8 0 0 0 1476.8 2472.6ZM1521 2479.4A602.4 602.4 0 0 1 1543.6 2469.9L1534.2 2446.3A627.8 627.8 0 0 0 1510.7 2456.2ZM1850.2 2433.2A602.4 602.4 0 0 1 1862.5 2435L1866.6 2410A627.8 627.8 0 0 0 1853.7 2408ZM2336.9 3222.6A602.4 602.4 0 0 1 2328.6 3245.6L2352.3 3254.7A627.8 627.8 0 0 0 2360.9 3230.8ZM2309.7 3289.4A602.4 602.4 0 0 1 2304.2 3300.6L2326.9 3312A627.8 627.8 0 0 0 2332.6 3300.4ZM2281.1 3342.3A602.4 602.4 0 0 1 2254.3 3382.7L2274.9 3397.6A627.8 627.8 0 0 0 2302.8 3355.5ZM2217 3429.3A602.4 602.4 0 0 1 2200.4 3447.3L2218.7 3464.9A627.8 627.8 0 0 0 2236 3446.2ZM2147.7 3495.9A602.4 602.4 0 0 1 2118.8 3518.2L2133.6 3538.8A627.8 627.8 0 0 0 2163.8 3515.6ZM1211.3 3264.2A602.4 602.4 0 0 1 1194.2 3218.8L1170.1 3226.8A627.8 627.8 0 0 0 1187.9 3274.1ZM1171.4 2934.2A602.4 602.4 0 0 1 1173.5 2921.9L1148.5 2917.4A627.8 627.8 0 0 0 1146.3 2930.2ZM1180.9 2887.1A602.4 602.4 0 0 1 1187.2 2863.4L1162.8 2856.4A627.8 627.8 0 0 0 1156.3 2881ZM1194.2 2840.8A602.4 602.4 0 0 1 1198.2 2829L1174.2 2820.6A627.8 627.8 0 0 0 1170.1 2832.9Z" fill="#3560a5"/>
<path d="M1588.6 2454.1A602.4 602.4 0 0 1 1600.5 2450.5L1593.5 2426.1A627.8 627.8 0 0 0 1581.1 2429.8ZM1682.4 2433.2A602.4 602.4 0 0 1 1694.7 2431.6L1691.7 2406.3A627.8 627.8 0 0 0 1678.8 2408ZM2237.5 2654.6A602.4 602.4 0 0 1 2245.2 2664.4L2265.4 2649A627.8 627.8 0 0 0 2257.4 2638.7ZM2363.8 3105.6A602.4 602.4 0 0 1 2362.1 3117.9L2387.2 3121.7A627.8 627.8 0 0 0 2389 3108.8ZM1535.9 3586.3A602.4 602.4 0 0 1 1524.4 3581.5L1514.2 3604.7A627.8 627.8 0 0 0 1526.2 3609.8ZM1346.1 3461.5A602.4 602.4 0 0 1 1337.3 3452.7L1319.2 3470.5A627.8 627.8 0 0 0 1328.4 3479.7Z" fill="#8d80c2"/>
<path d="M1600.1 2450.7A602.4 602.4 0 0 1 1612.1 2447.3L1605.6 2422.8A627.8 627.8 0 0 0 1593.1 2426.2ZM1372.7 3485.8A602.4 602.4 0 0 1 1363.4 3477.6L1346.4 3496.5A627.8 627.8 0 0 0 1356.1 3505.1ZM1321 3435.6A602.4 602.4 0 0 1 1312.7 3426.3L1293.6 3443A627.8 627.8 0 0 0 1302.3 3452.7ZM1165.7 3078.1A602.4 602.4 0 0 1 1164.9 3065.7L1139.5 3067.2A627.8 627.8 0 0 0 1140.4 3080.1Z" fill="#a99fcb"/>
<path d="M1658.6 2437A602.4 602.4 0 0 1 1670.9 2434.9L1666.9 2409.8A627.8 627.8 0 0 0 1654.1 2412ZM2011.5 2479.5A602.4 602.4 0 0 1 2022.8 2484.7L2033.6 2461.7A627.8 627.8 0 0 0 2021.8 2456.3ZM2144.5 2560.9A602.4 602.4 0 0 1 2163.2 2576.6L2180 2557.5A627.8 627.8 0 0 0 2160.4 2541.1ZM1982 3592.1A602.4 602.4 0 0 1 1959 3600.4L1967.1 3624.5A627.8 627.8 0 0 0 1991.1 3615.8ZM1947.9 3604A602.4 602.4 0 0 1 1912.8 3614L1919 3638.6A627.8 627.8 0 0 0 1955.6 3628.3ZM1686.4 3626.8A602.4 602.4 0 0 1 1674.1 3625L1670.2 3650.1A627.8 627.8 0 0 0 1683.1 3652ZM1604 3609.9A602.4 602.4 0 0 1 1592.1 3606.4L1584.8 3630.7A627.8 627.8 0 0 0 1597.2 3634.3ZM1440.1 3536.2A602.4 602.4 0 0 1 1419.8 3522.5L1405.2 3543.3A627.8 627.8 0 0 0 1426.4 3557.6ZM1181.1 3173A602.4 602.4 0 0 1 1178.2 3160.8L1153.5 3166.4A627.8 627.8 0 0 0 1156.4 3179Z" fill="#4660a8"/>
<path d="M1718.2 2429.2A602.4 602.4 0 0 1 1742.6 2427.8L1741.7 2402.4A627.8 627.8 0 0 0 1716.2 2403.9ZM1909.2 2444.5A602.4 602.4 0 0 1 1921.3 2447.6L1927.8 2423.1A627.8 627.8 0 0 0 1915.2 2419.8ZM2285.2 2723.9A602.4 602.4 0 0 1 2313.3 2777.5L2336.3 2766.9A627.8 627.8 0 0 0 2307.1 2711ZM2366.4 3081.7A602.4 602.4 0 0 1 2363.7 3106L2388.9 3109.2A627.8 627.8 0 0 0 2391.7 3083.9Z" fill="#295a9f"/>
<path d="M1966.8 2461.7A602.4 602.4 0 0 1 1978.5 2466L1987.5 2442.2A627.8 627.8 0 0 0 1975.3 2437.7ZM2135.1 2553.4A602.4 602.4 0 0 1 2144.8 2561.2L2160.8 2541.4A627.8 627.8 0 0 0 2150.6 2533.3ZM2252.1 2673.7A602.4 602.4 0 0 1 2285.4 2724.2L2307.3 2711.4A627.8 627.8 0 0 0 2272.6 2658.7ZM2367.7 2997.6A602.4 602.4 0 0 1 2368.6 3022L2393.9 3021.7A627.8 627.8 0 0 0 2393.1 2996.2Z" fill="#5d65ad"/>
<path d="M1492.2 3566.2A602.4 602.4 0 0 1 1470.6 3554.6L1458.2 3576.7A627.8 627.8 0 0 0 1480.7 3588.8Z" fill="#7d74bb"/>
<path d="M1203.7 2714.1A645.5 645.5 0 0 1 1217 2691.5L1206.6 2685.1A657.8 657.8 0 0 0 1193 2708.1Z" fill="#cccb47"/>
<path d="M1216.8 2691.9A645.5 645.5 0 0 1 1231 2669.9L1220.8 2663A657.8 657.8 0 0 0 1206.3 2685.5ZM1551.4 2422.1A645.5 645.5 0 0 1 1564 2417.8L1560.1 2406.1A657.8 657.8 0 0 0 1547.3 2410.5ZM1727.6 2386.5A645.5 645.5 0 0 1 1741 2385.8L1740.5 2373.5A657.8 657.8 0 0 0 1726.9 2374.2ZM1804.9 2386.5A645.5 645.5 0 0 1 1818.2 2387.4L1819.2 2375.1A657.8 657.8 0 0 0 1805.7 2374.2ZM1868.9 2393.5A645.5 645.5 0 0 1 1882.1 2395.8L1884.3 2383.7A657.8 657.8 0 0 0 1870.9 2381.4ZM1944.4 2410.4A645.5 645.5 0 0 1 1957.1 2414.2L1960.8 2402.4A657.8 657.8 0 0 0 1947.8 2398.6ZM1969 2418A645.5 645.5 0 0 1 1981.6 2422.3L1985.7 2410.7A657.8 657.8 0 0 0 1972.9 2406.3ZM2075.2 2464.1A645.5 645.5 0 0 1 2086.9 2470.6L2093 2459.9A657.8 657.8 0 0 0 2081.1 2453.3ZM2181.5 2536.6A645.5 645.5 0 0 1 2201.2 2553.9L2209.5 2544.8A657.8 657.8 0 0 0 2189.4 2527.2ZM2219.6 2571.3A645.5 645.5 0 0 1 2229 2580.8L2237.8 2572.2A657.8 657.8 0 0 0 2228.2 2562.6ZM2301.7 2670.4A645.5 645.5 0 0 1 2322.6 2703.5L2333.2 2697.2A657.8 657.8 0 0 0 2311.9 2663.5ZM2340.9 2737A645.5 645.5 0 0 1 2352.4 2760.6L2363.6 2755.4A657.8 657.8 0 0 0 2351.9 2731.4ZM2367.4 2795.7A645.5 645.5 0 0 1 2372.1 2808.2L2383.6 2803.9A657.8 657.8 0 0 0 2378.8 2791.2ZM2408.9 2970.7A645.5 645.5 0 0 1 2411.4 3009.7L2423.6 3009.3A657.8 657.8 0 0 0 2421.1 2969.5ZM2409.3 3086.5A645.5 645.5 0 0 1 2408 3099.8L2420.2 3101.1A657.8 657.8 0 0 0 2421.5 3087.6ZM2398 3163A645.5 645.5 0 0 1 2395.2 3176L2407.1 3178.8A657.8 657.8 0 0 0 2410.1 3165.5ZM2369 3261.8A645.5 645.5 0 0 1 2364.1 3274.2L2375.5 3278.8A657.8 657.8 0 0 0 2380.4 3266.2ZM2342.9 3320.7A645.5 645.5 0 0 1 2317.7 3366.2L2328.3 3372.6A657.8 657.8 0 0 0 2353.9 3326.2ZM2281.8 3419.1A645.5 645.5 0 0 1 2273.7 3429.7L2283.4 3437.3A657.8 657.8 0 0 0 2291.7 3426.5ZM2240.6 3468.6A645.5 645.5 0 0 1 2222.4 3487.5L2231.1 3496.2A657.8 657.8 0 0 0 2249.6 3476.9ZM2213.5 3496.2A645.5 645.5 0 0 1 2203.8 3505.3L2212.2 3514.4A657.8 657.8 0 0 0 2222.1 3505ZM2175 3530.4A645.5 645.5 0 0 1 2164.6 3538.7L2172.2 3548.4A657.8 657.8 0 0 0 2182.8 3539.9ZM2133.8 3561.4A645.5 645.5 0 0 1 2122.8 3568.9L2129.6 3579.1A657.8 657.8 0 0 0 2140.8 3571.5ZM2090.3 3589A645.5 645.5 0 0 1 2044.4 3613.3L2049.7 3624.4A657.8 657.8 0 0 0 2096.5 3599.7ZM2033.1 3618.5A645.5 645.5 0 0 1 2009 3628.9L2013.6 3640.3A657.8 657.8 0 0 0 2038.2 3629.7ZM1985.3 3638A645.5 645.5 0 0 1 1972.7 3642.4L1976.7 3654A657.8 657.8 0 0 0 1989.5 3649.5ZM1960.9 3646.2A645.5 645.5 0 0 1 1923.3 3656.9L1926.3 3668.8A657.8 657.8 0 0 0 1964.6 3658ZM1911.2 3659.8A645.5 645.5 0 0 1 1872.9 3667.4L1874.9 3679.6A657.8 657.8 0 0 0 1914 3671.8ZM1835 3672.6A645.5 645.5 0 0 1 1821.7 3673.9L1822.8 3686.2A657.8 657.8 0 0 0 1836.3 3684.9ZM1796.5 3675.6A645.5 645.5 0 0 1 1770.2 3676.3L1770.3 3688.6A657.8 657.8 0 0 0 1797 3687.9ZM1757.8 3676.2A645.5 645.5 0 0 1 1744.5 3675.9L1744.1 3688.2A657.8 657.8 0 0 0 1757.6 3688.5ZM1693.5 3672.2A645.5 645.5 0 0 1 1680.3 3670.6L1678.7 3682.7A657.8 657.8 0 0 0 1692.1 3684.4ZM1655.3 3666.7A645.5 645.5 0 0 1 1617 3658.8L1614.1 3670.8A657.8 657.8 0 0 0 1653.1 3678.8ZM1592.4 3652.5A645.5 645.5 0 0 1 1579.6 3648.8L1576.1 3660.5A657.8 657.8 0 0 0 1589.1 3664.3ZM1567.8 3645A645.5 645.5 0 0 1 1555.1 3640.8L1551.1 3652.4A657.8 657.8 0 0 0 1564 3656.7ZM1543.4 3636.6A645.5 645.5 0 0 1 1530.9 3631.9L1526.5 3643.4A657.8 657.8 0 0 0 1539.2 3648.2ZM1507.5 3622.2A645.5 645.5 0 0 1 1472.2 3605.5L1466.6 3616.4A657.8 657.8 0 0 0 1502.6 3633.5ZM1461.2 3599.7A645.5 645.5 0 0 1 1449.5 3593.3L1443.5 3604A657.8 657.8 0 0 0 1455.4 3610.5ZM1416.8 3573.5A645.5 645.5 0 0 1 1405.6 3566.2L1398.8 3576.4A657.8 657.8 0 0 0 1410.1 3583.9ZM1384.9 3551.7A645.5 645.5 0 0 1 1374.2 3543.7L1366.8 3553.4A657.8 657.8 0 0 0 1377.6 3561.6ZM1364.4 3536A645.5 645.5 0 0 1 1354.1 3527.6L1346.2 3537.1A657.8 657.8 0 0 0 1356.8 3545.6ZM1316.1 3493.5A645.5 645.5 0 0 1 1306.6 3484.1L1297.9 3492.7A657.8 657.8 0 0 0 1307.5 3502.3ZM1212.4 3362.4A645.5 645.5 0 0 1 1205.7 3350.9L1195 3357A657.8 657.8 0 0 0 1201.9 3368.8ZM1166.7 3270.1A645.5 645.5 0 0 1 1161.9 3257.7L1150.4 3262A657.8 657.8 0 0 0 1155.3 3274.7ZM1139.2 3184.3A645.5 645.5 0 0 1 1136.2 3171.3L1124.2 3174A657.8 657.8 0 0 0 1127.3 3187.2ZM1133.6 3159.2A645.5 645.5 0 0 1 1131.1 3146.1L1119 3148.3A657.8 657.8 0 0 0 1121.5 3161.6ZM1120.7 3031.1A645.5 645.5 0 0 1 1120.8 3017.8L1108.5 3017.6A657.8 657.8 0 0 0 1108.4 3031.1ZM1128.9 2928.5A645.5 645.5 0 0 1 1131.1 2915.3L1119 2913.1A657.8 657.8 0 0 0 1116.7 2926.5Z" fill="#74c4a3"/>
<path d="M1238.1 2659.6A645.5 645.5 0 0 1 1245.9 2648.8L1235.9 2641.5A657.8 657.8 0 0 0 1228 2652.6ZM1253.3 2638.9A645.5 645.5 0 0 1 1269.7 2618.3L1260.2 2610.5A657.8 657.8 0 0 0 1243.5 2631.4ZM1391.8 2505A645.5 645.5 0 0 1 1402.7 2497.4L1395.8 2487.2A657.8 657.8 0 0 0 1384.6 2495ZM1468.7 2458A645.5 645.5 0 0 1 1492.2 2446.3L1487 2435.2A657.8 657.8 0 0 0 1463 2447ZM1625.7 2400.8A645.5 645.5 0 0 1 1638.7 2398L1636.3 2386A657.8 657.8 0 0 0 1623 2388.8ZM1714.8 2387.4A645.5 645.5 0 0 1 1728.1 2386.4L1727.4 2374.1A657.8 657.8 0 0 0 1713.8 2375.1ZM1856.2 2391.6A645.5 645.5 0 0 1 1869.4 2393.6L1871.4 2381.5A657.8 657.8 0 0 0 1857.9 2379.4ZM1931.9 2406.9A645.5 645.5 0 0 1 1944.8 2410.5L1948.2 2398.7A657.8 657.8 0 0 0 1935.1 2395.1ZM2005.3 2431.2A645.5 645.5 0 0 1 2017.6 2436.3L2022.4 2425A657.8 657.8 0 0 0 2009.9 2419.8ZM2040.8 2446.6A645.5 645.5 0 0 1 2052.8 2452.4L2058.2 2441.4A657.8 657.8 0 0 0 2046 2435.5ZM2108.6 2483.6A645.5 645.5 0 0 1 2141.1 2505.3L2148.3 2495.3A657.8 657.8 0 0 0 2115.1 2473.2ZM2171.6 2528.4A645.5 645.5 0 0 1 2181.8 2536.9L2189.8 2527.5A657.8 657.8 0 0 0 2179.3 2518.9ZM2254.8 2609A645.5 645.5 0 0 1 2263.4 2619.2L2272.9 2611.3A657.8 657.8 0 0 0 2264.1 2600.9ZM2328.8 2714.3A645.5 645.5 0 0 1 2341.2 2737.4L2352.1 2731.8A657.8 657.8 0 0 0 2339.5 2708.2ZM2411.7 3035A645.5 645.5 0 0 1 2411.5 3048.4L2423.8 3048.7A657.8 657.8 0 0 0 2424 3035.1ZM2411 3060.8A645.5 645.5 0 0 1 2409.3 3087L2421.5 3088A657.8 657.8 0 0 0 2423.3 3061.4ZM2381.7 3225.3A645.5 645.5 0 0 1 2373.3 3250.1L2384.9 3254.3A657.8 657.8 0 0 0 2393.4 3229ZM2359.3 3285.6A645.5 645.5 0 0 1 2353.9 3297.8L2365.1 3302.9A657.8 657.8 0 0 0 2370.6 3290.5ZM2311.2 3376.7A645.5 645.5 0 0 1 2296.7 3398.6L2306.8 3405.6A657.8 657.8 0 0 0 2321.6 3383.3ZM2249.2 3459A645.5 645.5 0 0 1 2240.3 3468.9L2249.3 3477.2A657.8 657.8 0 0 0 2258.4 3467.2ZM2222.7 3487.1A645.5 645.5 0 0 1 2213.2 3496.5L2221.7 3505.4A657.8 657.8 0 0 0 2231.4 3495.8ZM2123.2 3568.6A645.5 645.5 0 0 1 2089.9 3589.3L2096.1 3599.9A657.8 657.8 0 0 0 2130 3578.9ZM2009.4 3628.7A645.5 645.5 0 0 1 1984.9 3638.1L1989.1 3649.7A657.8 657.8 0 0 0 2014 3640.1ZM1847.8 3671.1A645.5 645.5 0 0 1 1834.6 3672.7L1835.9 3684.9A657.8 657.8 0 0 0 1849.4 3683.3ZM1822.2 3673.9A645.5 645.5 0 0 1 1796 3675.6L1796.6 3687.9A657.8 657.8 0 0 0 1823.2 3686.1ZM1706.3 3673.5A645.5 645.5 0 0 1 1693.1 3672.1L1691.7 3684.4A657.8 657.8 0 0 0 1705.2 3685.8ZM1680.7 3670.6A645.5 645.5 0 0 1 1667.5 3668.7L1665.7 3680.9A657.8 657.8 0 0 0 1679.1 3682.8ZM1580.1 3648.9A645.5 645.5 0 0 1 1567.3 3644.9L1563.5 3656.6A657.8 657.8 0 0 0 1576.5 3660.7ZM1555.5 3641A645.5 645.5 0 0 1 1543 3636.5L1538.7 3648A657.8 657.8 0 0 0 1551.5 3652.6ZM1438.7 3587.1A645.5 645.5 0 0 1 1416.4 3573.3L1409.7 3583.6A657.8 657.8 0 0 0 1432.5 3597.7ZM1406 3566.5A645.5 645.5 0 0 1 1395 3558.9L1387.9 3569A657.8 657.8 0 0 0 1399.1 3576.7ZM1374.6 3543.9A645.5 645.5 0 0 1 1364.1 3535.7L1356.4 3545.4A657.8 657.8 0 0 0 1367.1 3553.7ZM1219.1 3373.4A645.5 645.5 0 0 1 1212.2 3362.1L1201.6 3368.4A657.8 657.8 0 0 0 1208.7 3380ZM1193.6 3328.7A645.5 645.5 0 0 1 1187.5 3316.8L1176.5 3322.3A657.8 657.8 0 0 0 1182.6 3334.4ZM1171.6 3282.1A645.5 645.5 0 0 1 1166.5 3269.7L1155.1 3274.3A657.8 657.8 0 0 0 1160.3 3286.9ZM1162.1 3258.1A645.5 645.5 0 0 1 1149.4 3221.1L1137.6 3224.8A657.8 657.8 0 0 0 1150.5 3262.5ZM1131.2 3146.5A645.5 645.5 0 0 1 1127 3120.6L1114.8 3122.3A657.8 657.8 0 0 0 1119.1 3148.7ZM1121.8 2992.5A645.5 645.5 0 0 1 1125.3 2953.6L1113.1 2952.1A657.8 657.8 0 0 0 1109.6 2991.8ZM1131 2915.8A645.5 645.5 0 0 1 1149.5 2840.3L1137.7 2836.6A657.8 657.8 0 0 0 1118.9 2913.6ZM1153.2 2828.4A645.5 645.5 0 0 1 1162 2803.7L1150.5 2799.4A657.8 657.8 0 0 0 1141.6 2824.6Z" fill="#a5569d"/>
<path d="M1286.2 2599.2A645.5 645.5 0 0 1 1295.2 2589.4L1286.3 2580.9A657.8 657.8 0 0 0 1277.1 2591ZM1371.1 2520.4A645.5 645.5 0 0 1 1381.7 2512.3L1374.4 2502.4A657.8 657.8 0 0 0 1363.6 2510.6ZM1423.9 2483.5A645.5 645.5 0 0 1 1435.3 2476.6L1429 2466A657.8 657.8 0 0 0 1417.4 2473.1ZM1446 2470.3A645.5 645.5 0 0 1 1469.1 2457.7L1463.4 2446.8A657.8 657.8 0 0 0 1439.9 2459.6ZM1894.3 2398.1A645.5 645.5 0 0 1 1907.3 2400.9L1910 2388.9A657.8 657.8 0 0 0 1896.7 2386.1ZM1919.5 2403.8A645.5 645.5 0 0 1 1932.4 2407.1L1935.5 2395.2A657.8 657.8 0 0 0 1922.4 2391.8ZM2017.2 2436.1A645.5 645.5 0 0 1 2041.2 2446.8L2046.4 2435.7A657.8 657.8 0 0 0 2022 2424.8ZM2063.9 2458A645.5 645.5 0 0 1 2075.6 2464.3L2081.5 2453.5A657.8 657.8 0 0 0 2069.5 2447.1ZM2151.2 2512.7A645.5 645.5 0 0 1 2161.8 2520.7L2169.3 2511A657.8 657.8 0 0 0 2158.5 2502.8ZM2200.9 2553.6A645.5 645.5 0 0 1 2219.9 2571.7L2228.6 2562.9A657.8 657.8 0 0 0 2209.2 2544.5ZM2286.9 2649.3A645.5 645.5 0 0 1 2294.7 2660.1L2304.7 2653.1A657.8 657.8 0 0 0 2296.8 2642ZM2322.3 2703.1A645.5 645.5 0 0 1 2329 2714.7L2339.7 2708.6A657.8 657.8 0 0 0 2332.9 2696.8ZM2384.2 2844.4A645.5 645.5 0 0 1 2387.9 2857.2L2399.8 2853.9A657.8 657.8 0 0 0 2396 2840.9ZM2391.2 2869.2A645.5 645.5 0 0 1 2407.6 2958.3L2419.8 2956.9A657.8 657.8 0 0 0 2403.1 2866.2ZM2392.2 3188.1A645.5 645.5 0 0 1 2381.6 3225.7L2393.3 3229.4A657.8 657.8 0 0 0 2404.2 3191.1ZM2373.5 3249.7A645.5 645.5 0 0 1 2368.8 3262.2L2380.3 3266.6A657.8 657.8 0 0 0 2385 3253.9ZM2364.2 3273.8A645.5 645.5 0 0 1 2359.1 3286.1L2370.4 3290.9A657.8 657.8 0 0 0 2375.6 3278.4ZM2354.1 3297.4A645.5 645.5 0 0 1 2342.7 3321.1L2353.7 3326.6A657.8 657.8 0 0 0 2365.3 3302.5ZM2204.1 3505A645.5 645.5 0 0 1 2194.3 3514L2202.4 3523.2A657.8 657.8 0 0 0 2212.5 3514ZM2184.9 3522.1A645.5 645.5 0 0 1 2174.6 3530.7L2182.4 3540.2A657.8 657.8 0 0 0 2192.8 3531.5ZM2144.3 3553.9A645.5 645.5 0 0 1 2133.5 3561.6L2140.4 3571.8A657.8 657.8 0 0 0 2151.5 3563.9ZM1973.2 3642.2A645.5 645.5 0 0 1 1960.5 3646.4L1964.2 3658.1A657.8 657.8 0 0 0 1977.1 3653.9ZM1923.7 3656.8A645.5 645.5 0 0 1 1910.8 3659.9L1913.5 3671.9A657.8 657.8 0 0 0 1926.7 3668.7ZM1449.9 3593.5A645.5 645.5 0 0 1 1438.3 3586.8L1432.1 3597.4A657.8 657.8 0 0 0 1443.9 3604.2ZM1395.4 3559.2A645.5 645.5 0 0 1 1384.5 3551.4L1377.3 3561.3A657.8 657.8 0 0 0 1388.3 3569.2ZM1280.6 3456.1A645.5 645.5 0 0 1 1271.9 3446L1262.5 3453.9A657.8 657.8 0 0 0 1271.3 3464.2ZM1264 3436.4A645.5 645.5 0 0 1 1233 3394.6L1222.8 3401.6A657.8 657.8 0 0 0 1254.4 3444.1Z" fill="#4b4040"/>
<path d="M1341.2 2544.9A645.5 645.5 0 0 1 1351.4 2536.2L1343.5 2526.8A657.8 657.8 0 0 0 1333.1 2535.7ZM1515.3 2436A645.5 645.5 0 0 1 1527.7 2431L1523.1 2419.6A657.8 657.8 0 0 0 1510.5 2424.7ZM1539.3 2426.5A645.5 645.5 0 0 1 1551.8 2421.9L1547.7 2410.3A657.8 657.8 0 0 0 1534.9 2415ZM2228.7 2580.5A645.5 645.5 0 0 1 2237.9 2590.1L2246.9 2581.7A657.8 657.8 0 0 0 2237.5 2571.9ZM2352.2 2760.1A645.5 645.5 0 0 1 2357.7 2772.3L2369 2767.4A657.8 657.8 0 0 0 2363.4 2755ZM2406.6 3112.1A645.5 645.5 0 0 1 2404.7 3125.4L2416.9 3127.2A657.8 657.8 0 0 0 2418.8 3113.7Z" fill="#c3863a"/>
<path d="M1402.3 2497.6A645.5 645.5 0 0 1 1413.4 2490.2L1406.7 2479.9A657.8 657.8 0 0 0 1395.4 2487.5ZM1956.7 2414.1A645.5 645.5 0 0 1 1969.4 2418.1L1973.3 2406.4A657.8 657.8 0 0 0 1960.3 2402.3ZM2086.5 2470.4A645.5 645.5 0 0 1 2098 2477.1L2104.3 2466.6A657.8 657.8 0 0 0 2092.6 2459.7ZM2140.8 2505.1A645.5 645.5 0 0 1 2151.5 2512.9L2158.9 2503.1A657.8 657.8 0 0 0 2147.9 2495.1ZM2265.9 3439.4A645.5 645.5 0 0 1 2257.4 3449.6L2266.7 3457.6A657.8 657.8 0 0 0 2275.5 3447.2ZM2164.9 3538.4A645.5 645.5 0 0 1 2144 3554.2L2151.2 3564.2A657.8 657.8 0 0 0 2172.5 3548.1ZM1873.3 3667.4A645.5 645.5 0 0 1 1847.4 3671.2L1848.9 3683.4A657.8 657.8 0 0 0 1875.3 3679.5ZM1770.7 3676.3A645.5 645.5 0 0 1 1757.4 3676.2L1757.2 3688.5A657.8 657.8 0 0 0 1770.8 3688.6ZM1182.1 3305.6A645.5 645.5 0 0 1 1176.6 3293.5L1165.3 3298.5A657.8 657.8 0 0 0 1171 3310.8Z" fill="#bd3d7f"/>
<path d="M1503.5 2441.2A645.5 645.5 0 0 1 1515.7 2435.9L1511 2424.5A657.8 657.8 0 0 0 1498.5 2429.9ZM1740.5 2385.8A645.5 645.5 0 0 1 1753.8 2385.4L1753.6 2373.1A657.8 657.8 0 0 0 1740 2373.5ZM1766.3 2385.3A645.5 645.5 0 0 1 1779.6 2385.4L1779.9 2373.1A657.8 657.8 0 0 0 1766.3 2373ZM1881.6 2395.7A645.5 645.5 0 0 1 1894.7 2398.2L1897.2 2386.2A657.8 657.8 0 0 0 1883.8 2383.6ZM2357.5 2771.9A645.5 645.5 0 0 1 2367.5 2796.1L2379 2791.7A657.8 657.8 0 0 0 2368.8 2767ZM2296.9 3398.2A645.5 645.5 0 0 1 2289.2 3409.1L2299.2 3416.3A657.8 657.8 0 0 0 2307.1 3405.2ZM1604.9 3655.8A645.5 645.5 0 0 1 1592 3652.4L1588.7 3664.2A657.8 657.8 0 0 0 1601.8 3667.7ZM1149.5 3221.6A645.5 645.5 0 0 1 1142.3 3196.4L1130.4 3199.5A657.8 657.8 0 0 0 1137.8 3225.2ZM1136.3 3171.8A645.5 645.5 0 0 1 1133.5 3158.7L1121.4 3161.2A657.8 657.8 0 0 0 1124.3 3174.4ZM1121.2 3056.9A645.5 645.5 0 0 1 1120.8 3043.6L1108.5 3043.8A657.8 657.8 0 0 0 1108.9 3057.4Z" fill="#4a2a62"/>
<path d="M1527.2 2431.2A645.5 645.5 0 0 1 1539.7 2426.3L1535.4 2414.8A657.8 657.8 0 0 0 1522.7 2419.7Z" fill="#7fc55f"/>
<path d="M1575.8 2414A645.5 645.5 0 0 1 1588.6 2410.2L1585.2 2398.4A657.8 657.8 0 0 0 1572.2 2402.3ZM2271.3 2628.8A645.5 645.5 0 0 1 2279.5 2639.3L2289.2 2631.9A657.8 657.8 0 0 0 2280.9 2621.2Z" fill="#56429b"/>
<path d="M1600.6 2406.9A645.5 645.5 0 0 1 1613.5 2403.6L1610.6 2391.7A657.8 657.8 0 0 0 1597.5 2395Z" fill="#cf4a3c"/>
<path d="M1613.1 2403.7A645.5 645.5 0 0 1 1626.1 2400.7L1623.4 2388.7A657.8 657.8 0 0 0 1610.2 2391.8ZM1638.3 2398.1A645.5 645.5 0 0 1 1651.4 2395.6L1649.2 2383.5A657.8 657.8 0 0 0 1635.8 2386.1ZM1753.4 2385.4A645.5 645.5 0 0 1 1766.7 2385.3L1766.7 2373A657.8 657.8 0 0 0 1753.2 2373.1ZM1906.9 2400.8A645.5 645.5 0 0 1 1919.9 2403.9L1922.8 2391.9A657.8 657.8 0 0 0 1909.6 2388.8ZM2371.9 2807.8A645.5 645.5 0 0 1 2376.4 2820.3L2388 2816.3A657.8 657.8 0 0 0 2383.5 2803.5ZM1142.4 3196.8A645.5 645.5 0 0 1 1139.1 3183.9L1127.2 3186.8A657.8 657.8 0 0 0 1130.5 3200Z" fill="#589040"/>
<path d="M1650.9 2395.7A645.5 645.5 0 0 1 1664.1 2393.4L1662.1 2381.3A657.8 657.8 0 0 0 1648.7 2383.6Z" fill="#c8c69b"/>
<path d="M1676.4 2391.6A645.5 645.5 0 0 1 1689.6 2389.9L1688.1 2377.6A657.8 657.8 0 0 0 1674.6 2379.4ZM1289.2 3465.7A645.5 645.5 0 0 1 1280.3 3455.7L1271 3463.8A657.8 657.8 0 0 0 1280.1 3474Z" fill="#772e2d"/>
<path d="M2246.3 2599.3A645.5 645.5 0 0 1 2255.1 2609.3L2264.4 2601.3A657.8 657.8 0 0 0 2255.4 2591.1Z" fill="#6475b8"/>
<path d="M1519.4 3627.3A645.5 645.5 0 0 1 1507.1 3622L1502.2 3633.3A657.8 657.8 0 0 0 1514.7 3638.6Z" fill="#c5857f"/>
<path d="M1472.6 3605.7A645.5 645.5 0 0 1 1460.8 3599.5L1455 3610.3A657.8 657.8 0 0 0 1467 3616.6Z" fill="#4e6239"/>
<path d="M1344.6 3519.6A645.5 645.5 0 0 1 1334.6 3510.8L1326.3 3519.9A657.8 657.8 0 0 0 1336.5 3528.9ZM1122.8 3082.6A645.5 645.5 0 0 1 1121.9 3069.3L1109.6 3070.1A657.8 657.8 0 0 0 1110.5 3083.6Z" fill="#c396c9"/>
<path d="M1196.5 2695.4A661.3 661.3 0 0 1 1217.9 2661.5L1208.2 2655A673 673 0 0 0 1186.5 2689.5ZM1240.8 2629.8A661.3 661.3 0 0 1 1249.2 2619L1240 2611.7A673 673 0 0 0 1231.5 2622.7ZM1393.4 2485.1A661.3 661.3 0 0 1 1404.8 2477.5L1398.4 2467.7A673 673 0 0 0 1386.8 2475.4ZM1415.5 2470.6A661.3 661.3 0 0 1 1461.8 2444.2L1456.4 2433.8A673 673 0 0 0 1409.3 2460.7ZM1497.1 2427.2A661.3 661.3 0 0 1 1521.8 2416.8L1517.5 2405.9A673 673 0 0 0 1492.3 2416.6ZM1596.6 2392.1A661.3 661.3 0 0 1 1609.8 2388.8L1607 2377.4A673 673 0 0 0 1593.6 2380.8ZM1858.4 2376.5A661.3 661.3 0 0 1 1871.9 2378.5L1873.8 2367A673 673 0 0 0 1860 2364.9ZM1986.4 2407.8A661.3 661.3 0 0 1 2047.9 2433L2052.9 2422.4A673 673 0 0 0 1990.3 2396.7ZM2059.4 2438.5A661.3 661.3 0 0 1 2083.2 2450.9L2088.8 2440.7A673 673 0 0 0 2064.6 2428.1ZM2105.7 2463.8A661.3 661.3 0 0 1 2150.3 2493L2157.1 2483.5A673 673 0 0 0 2111.7 2453.8ZM2160.6 2500.5A661.3 661.3 0 0 1 2171.5 2508.7L2178.7 2499.5A673 673 0 0 0 2167.6 2491.1ZM2427.3 3048.8A661.3 661.3 0 0 1 2426.8 3062.5L2438.5 3063A673 673 0 0 0 2439 3049.2ZM2407.6 3192.4A661.3 661.3 0 0 1 2396.6 3231L2407.8 3234.5A673 673 0 0 0 2418.9 3195.3ZM2392.7 3243.1A661.3 661.3 0 0 1 2378.7 3280.6L2389.5 3285A673 673 0 0 0 2403.8 3246.8ZM2357.1 3328.3A661.3 661.3 0 0 1 2350.8 3340.4L2361.1 3345.9A673 673 0 0 0 2367.5 3333.5ZM2331.5 3374.5A661.3 661.3 0 0 1 2324.3 3386.1L2334.1 3392.4A673 673 0 0 0 2341.5 3380.5ZM2243.1 3489.4A661.3 661.3 0 0 1 2233.6 3499.1L2241.8 3507.4A673 673 0 0 0 2251.6 3497.5ZM2174.7 3551.4A661.3 661.3 0 0 1 2163.9 3559.7L2170.9 3569A673 673 0 0 0 2181.9 3560.6ZM2086.8 3609.7A661.3 661.3 0 0 1 2074.8 3616.2L2080.2 3626.6A673 673 0 0 0 2092.4 3619.9ZM2051.6 3627.9A661.3 661.3 0 0 1 2027.1 3639L2031.7 3649.7A673 673 0 0 0 2056.6 3638.4ZM1770.8 3692.6A661.3 661.3 0 0 1 1757.1 3692.5L1757 3704.2A673 673 0 0 0 1770.9 3704.3ZM1744.4 3692.2A661.3 661.3 0 0 1 1730.8 3691.6L1730.1 3703.3A673 673 0 0 0 1744 3703.9ZM1718 3690.8A661.3 661.3 0 0 1 1704.4 3689.7L1703.3 3701.4A673 673 0 0 0 1717.2 3702.5ZM1678.6 3686.8A661.3 661.3 0 0 1 1665.1 3684.8L1663.3 3696.4A673 673 0 0 0 1677.1 3698.4ZM1489.2 3631.8A661.3 661.3 0 0 1 1476.8 3625.9L1471.7 3636.4A673 673 0 0 0 1484.3 3642.4ZM1344.3 3540.6A661.3 661.3 0 0 1 1333.9 3531.7L1326.3 3540.6A673 673 0 0 0 1336.9 3549.6ZM1251.7 3446.8A661.3 661.3 0 0 1 1243.2 3436.1L1234 3443.2A673 673 0 0 0 1242.6 3454.1ZM1227.8 3415.2A661.3 661.3 0 0 1 1220 3404L1210.3 3410.6A673 673 0 0 0 1218.2 3422ZM1173.6 3324.7A661.3 661.3 0 0 1 1162.1 3300.4L1151.4 3305.2A673 673 0 0 0 1163.1 3329.9ZM1152 3276.5A661.3 661.3 0 0 1 1147.1 3263.8L1136.2 3267.9A673 673 0 0 0 1141.2 3280.8ZM1105 3044.9A661.3 661.3 0 0 1 1105 3018L1093.3 3017.8A673 673 0 0 0 1093.3 3045.1ZM1111.3 2939.5A661.3 661.3 0 0 1 1113.3 2926L1101.8 2924.2A673 673 0 0 0 1099.7 2937.9ZM1115.5 2913.5A661.3 661.3 0 0 1 1118.1 2900L1106.6 2897.7A673 673 0 0 0 1104 2911.4ZM1120.7 2887.6A661.3 661.3 0 0 1 1127.1 2861.5L1115.8 2858.5A673 673 0 0 0 1109.3 2885ZM1130.5 2849.2A661.3 661.3 0 0 1 1147.2 2798.6L1136.2 2794.5A673 673 0 0 0 1119.2 2846Z" fill="#2a9a78"/>
<path d="M1218.4 2718.5L1209.8 2709.6L1221.8 2712.6ZM1224.7 2707.6L1216.3 2698.6L1228.3 2701.8ZM1252.2 2665.5L1244.5 2655.8L1256.2 2660ZM1275 2635.4L1267.9 2625.2L1279.3 2630.1ZM1382.8 2530.1L1378.3 2518.5L1388.2 2526ZM1403.1 2515.2L1399.1 2503.5L1408.7 2511.3ZM1413.3 2507.8L1407 2498.5L1412.7 2494.7L1418.9 2504ZM1478.4 2469.6L1476.1 2457.5L1484.5 2466.5ZM1489.7 2464L1487.6 2451.8L1495.8 2461ZM1501 2458.6L1499.2 2446.3L1507.2 2455.8ZM1512.5 2453.4L1510.9 2441.1L1518.7 2450.7ZM1524.1 2448.4L1522.7 2436.1L1530.4 2445.9ZM1535.7 2443.7L1534.6 2431.4L1542.1 2441.3ZM1547.5 2439.2L1546.6 2426.9L1553.9 2436.9ZM1595.4 2423.7L1595.5 2411.3L1601.9 2421.9ZM1607.5 2420.4L1607.9 2408L1614.1 2418.7ZM1619.7 2417.3L1620.3 2405L1626.3 2415.8ZM1632 2414.5L1632.8 2402.2L1638.6 2413.1ZM1644.3 2412L1645.4 2399.7L1651 2410.7ZM1756.8 2400.2L1760.1 2388.2L1763.6 2400.1ZM1857.2 2406.7L1862.3 2395.4L1863.9 2407.7ZM1906.7 2415.9L1912.7 2405.1L1913.3 2417.5ZM1979.1 2437.1L1986.4 2427.1L1985.5 2439.5ZM2002.6 2446.1L2010.3 2436.4L2008.9 2448.7ZM2014.2 2450.9L2022.1 2441.4L2020.5 2453.6ZM2025.7 2456L2033.8 2446.6L2031.9 2458.8ZM2037.2 2461.3L2045.4 2452.1L2043.3 2464.3ZM2048.5 2466.8L2056.9 2457.7L2054.5 2469.9ZM2059.7 2472.6L2068.3 2463.7L2065.7 2475.8ZM2070.7 2478.5L2079.5 2469.8L2076.7 2481.9ZM2092.5 2491.1L2101.7 2482.8L2098.3 2494.7ZM2103.2 2497.8L2112.5 2489.6L2109 2501.4ZM2113.8 2504.6L2123.3 2496.6L2119.5 2508.4ZM2124.2 2511.6L2133.8 2503.8L2129.8 2515.5ZM2144.7 2526.3L2154.6 2518.9L2150.1 2530.5ZM2154.7 2534L2164.7 2526.8L2160 2538.2ZM2193.2 2566.3L2200.9 2558.1L2205.8 2562.8L2198.2 2571ZM2220 2592.9L2231 2587.2L2224.7 2597.9ZM2370.6 2851.5L2383 2851.4L2372.5 2858ZM2377.3 2875.7L2389.7 2876.2L2378.9 2882.3ZM2383 2900.2L2395.3 2901.2L2384.4 2906.9ZM2385.5 2912.6L2397.8 2913.8L2386.7 2919.3ZM2387.7 2925L2400 2926.4L2388.8 2931.7ZM2389.7 2937.4L2402 2939.1L2390.7 2944.1ZM2391.4 2949.9L2403.7 2951.8L2392.3 2956.6ZM2395.1 2987.4L2407.2 2990.1L2395.6 2994.2ZM2395.9 3000L2407.9 3002.9L2396.2 3006.8ZM2396.4 3012.6L2408.3 3015.7L2396.5 3019.4ZM2391.2 3113L2402.5 3118L2390.3 3119.8ZM2387.4 3137.9L2398.5 3143.3L2386.2 3144.6ZM2376.8 3187.1L2387.5 3193.4L2375.1 3193.7ZM2373.6 3199.3L2384.1 3205.8L2371.7 3205.8ZM2370.1 3211.4L2380.5 3218.1L2368.1 3217.9ZM2366.4 3223.4L2376.6 3230.3L2364.3 3229.9ZM2362.4 3235.3L2372.5 3242.5L2360.2 3241.8ZM2358.2 3247.2L2368.2 3254.5L2355.8 3253.6ZM2353.7 3259L2363.6 3266.5L2351.3 3265.3ZM2349.1 3270.7L2358.7 3278.4L2346.4 3276.9ZM2344.2 3282.2L2353.7 3290.2L2341.4 3288.5ZM2339.3 3293.9L2349.4 3298.6L2346.6 3304.8L2336.4 3300ZM2333.6 3305.1L2342.8 3313.4L2330.7 3311.2ZM2303.5 3360.3L2311.8 3369.5L2299.9 3366.1ZM2267.9 3412.2L2275.3 3422.2L2263.8 3417.6ZM2260.2 3422.1L2267.4 3432.2L2255.9 3427.5ZM2209.9 3478.4L2215.8 3489.3L2205 3483.1ZM2172.7 3512.3L2177.7 3523.7L2167.5 3516.7ZM2153.1 3528.2L2157.7 3539.7L2147.8 3532.3ZM2046.9 3595.3L2051.8 3605.4L2045.7 3608.4L2040.8 3598.3ZM1692.1 3656.5L1687.3 3667.9L1685.4 3655.7ZM1679.7 3654.9L1674.6 3666.2L1672.9 3654ZM1593.5 3636.8L1586.9 3647.3L1587 3634.9ZM1557.5 3625.4L1550.3 3635.4L1551.1 3623.1ZM1545.7 3621.1L1538.3 3631L1539.3 3618.7ZM1510.6 3607.1L1506 3617.3L1499.8 3614.5L1504.4 3604.3ZM1499.2 3601.9L1494.4 3612L1488.2 3609.1L1493 3599ZM1487.8 3596.4L1482.8 3606.5L1476.7 3603.4L1481.7 3593.4ZM1391.3 3537.3L1381.5 3544.8L1385.9 3533.3ZM1371.4 3522L1361.2 3529.1L1366.1 3517.7ZM1361.7 3514L1351.4 3520.9L1356.5 3509.6ZM1281.8 3433.9L1270.4 3438.8L1277.4 3428.6ZM1251.1 3394L1239.4 3398L1247.2 3388.4ZM1156.2 3189.6L1143.8 3189.2L1154.5 3183ZM1153.1 3177.4L1140.8 3176.8L1151.6 3170.8ZM1141.6 3115.6L1129.3 3113.7L1140.7 3108.8Z" fill="#339c33" stroke="#667" stroke-width="0.4"/>
<path d="M1233.2 2694.1L1226.4 2693.7L1223 2687.7L1229.9 2688.1ZM1240 2683.5L1233.2 2682.9L1230 2676.9L1236.8 2677.4ZM1247 2673.1L1240.2 2672.4L1237.2 2666.3L1244 2666.9ZM1261.7 2652.6L1255 2651.7L1252.1 2645.4L1258.9 2646.4ZM1285.3 2623.1L1278.5 2621.7L1276.1 2615.3L1282.8 2616.7ZM1293.5 2613.6L1286.8 2612.1L1284.5 2605.6L1291.2 2607.1ZM1310.5 2595L1303.9 2593.3L1301.8 2586.8L1308.4 2588.5ZM1319.3 2586L1312.7 2584.1L1310.8 2577.6L1317.4 2579.5ZM1337.4 2568.5L1330.9 2566.4L1329.2 2559.8L1335.7 2561.9ZM1346.7 2560.1L1340.2 2557.8L1338.7 2551.1L1345.2 2553.4ZM1356.2 2551.8L1349.8 2549.4L1348.4 2542.7L1354.8 2545.1ZM1365.8 2543.7L1359.4 2541.2L1358.2 2534.4L1364.5 2537ZM1375.6 2535.8L1369.3 2533.1L1368.2 2526.4L1374.5 2529.1ZM1395.7 2520.6L1389.5 2517.7L1388.6 2510.9L1394.8 2513.8ZM1426.9 2499.3L1420.8 2496.1L1420.4 2489.2L1426.4 2492.5ZM1448.3 2486.2L1442.4 2482.7L1442.3 2475.9L1448.1 2479.4ZM1562.6 2434L1557.5 2429.4L1558.7 2422.6L1563.8 2427.3ZM1574.5 2430L1569.6 2425.3L1570.9 2418.6L1575.9 2423.3ZM1672.5 2407.2L1668.3 2401.8L1670.7 2395.3L1674.8 2400.8ZM1697.4 2404L1693.5 2398.4L1696.1 2392L1700.1 2397.6ZM1709.9 2402.7L1706.1 2397L1708.9 2390.8L1712.7 2396.4ZM1785.4 2400.5L1782.3 2394.4L1785.7 2388.5L1788.9 2394.6ZM1797.9 2401L1795 2394.8L1798.5 2389L1801.5 2395.2ZM1823 2402.8L1820.3 2396.5L1824.1 2390.8L1826.9 2397.1ZM1835.6 2404L1833 2397.7L1836.9 2392.1L1839.5 2398.4ZM1848.1 2405.5L1845.6 2399.2L1849.6 2393.6L1852.1 2400ZM1922.2 2419.8L1920.4 2413.2L1925.1 2408.2L1926.8 2414.8ZM1934.3 2423L1932.7 2416.4L1937.5 2411.5L1939.1 2418.1ZM1994 2442.8L1993.1 2436L1998.4 2431.6L1999.3 2438.4ZM2084.6 2486.5L2084.8 2479.7L2090.7 2476.2L2090.5 2483ZM2137.2 2521L2138.1 2514.2L2144.3 2511.3L2143.4 2518.1ZM2186.2 2560.5L2187.7 2553.8L2194.1 2551.5L2192.6 2558.2ZM2230.9 2604.7L2233.1 2598.2L2239.7 2596.6L2237.6 2603ZM2255.6 2633.3L2258.1 2626.9L2264.9 2625.7L2262.3 2632ZM2318.7 2727.1L2322.3 2721.3L2329.2 2721.3L2325.5 2727.1ZM2364 2830.7L2368.6 2825.7L2375.4 2826.9L2370.7 2832ZM2367.9 2842.7L2372.6 2837.8L2379.3 2839.1L2374.6 2844.1ZM2393.2 2965.8L2398.8 2961.9L2405.1 2964.5L2399.5 2968.4ZM2396.5 3028.6L2402.5 3025.2L2408.5 3028.5L2402.5 3031.8ZM2396.4 3041.1L2402.5 3037.9L2408.4 3041.4L2402.4 3044.5ZM2396.1 3053.7L2402.2 3050.6L2408.1 3054.2L2401.9 3057.2ZM2388.8 3128.8L2395.2 3126.5L2400.6 3130.7L2394.2 3133ZM2381.8 3165.9L2388.3 3164L2393.5 3168.5L2386.9 3170.4ZM2379 3178.2L2385.6 3176.4L2390.6 3181L2384 3182.8ZM2287.9 3384.2L2294.7 3384.9L2297.8 3391L2291 3390.3ZM2250 3434.5L2256.7 3435.8L2259.2 3442.2L2252.5 3440.9ZM2241.9 3444.1L2248.6 3445.5L2250.9 3451.9L2244.2 3450.5ZM2179.6 3506.3L2186 3508.6L2187.5 3515.3L2181.1 3513ZM2140.3 3537.7L2146.6 3540.6L2147.5 3547.4L2141.2 3544.5ZM2032.3 3601.9L2037.8 3605.9L2037.4 3612.7L2031.9 3608.7ZM1997.6 3616.8L2002.9 3621.1L2002 3627.9L1996.8 3623.6ZM1962.1 3629.6L1967.1 3634.3L1965.9 3641L1960.8 3636.3ZM1726.4 3659.5L1729.3 3665.7L1725.6 3671.5L1722.7 3665.3ZM1713.8 3658.6L1716.6 3664.9L1712.8 3670.6L1710 3664.3ZM1663.9 3652.4L1666.1 3658.9L1661.9 3664.3L1659.6 3657.8ZM1626.8 3645.2L1628.7 3651.8L1624.2 3656.9L1622.3 3650.3ZM1614.6 3642.3L1616.3 3648.9L1611.7 3653.9L1609.9 3647.3ZM1530.8 3615.2L1531.7 3622L1526.3 3626.3L1525.5 3619.5ZM1349.6 3503.5L1348.1 3510.2L1341.7 3512.5L1343.2 3505.8ZM1340.2 3495.1L1338.6 3501.7L1332.1 3503.9L1333.7 3497.3ZM1322 3477.7L1320.1 3484.3L1313.6 3486.2L1315.5 3479.6ZM1313.2 3468.7L1311.2 3475.3L1304.6 3477.1L1306.6 3470.5ZM1304.5 3459.6L1302.4 3466.1L1295.7 3467.8L1297.9 3461.3ZM1287.8 3440.8L1285.4 3447.3L1278.7 3448.7L1281.1 3442.2ZM1271.8 3421.4L1269.1 3427.7L1262.4 3428.9L1265 3422.5ZM1242.2 3380.7L1239 3386.8L1232.2 3387.4L1235.3 3381.3ZM1235.3 3370.2L1232 3376.2L1225.2 3376.7L1228.4 3370.7ZM1215.9 3337.8L1212.3 3343.6L1205.4 3343.7L1209 3337.9ZM1209.9 3326.8L1206.1 3332.5L1199.3 3332.4L1203 3326.7ZM1198.5 3304.3L1194.5 3309.9L1187.7 3309.5L1191.6 3303.9ZM1188 3281.4L1183.8 3286.8L1177 3286.2L1181.2 3280.8ZM1183.1 3269.8L1178.8 3275.2L1172 3274.4L1176.3 3269.1ZM1139.7 3099.7L1134.1 3103.6L1127.8 3101L1133.4 3097.1ZM1138.5 3087.2L1132.8 3091L1126.5 3088.2L1132.2 3084.4ZM1136.7 3062.1L1130.9 3065.7L1124.7 3062.7L1130.5 3059.1ZM1135.9 3036.9L1130 3040.3L1123.9 3037L1129.9 3033.7ZM1136.2 3011.7L1130.1 3014.9L1124.2 3011.4L1130.3 3008.3ZM1141.2 2949L1134.8 2951.5L1129.3 2947.5L1135.7 2945ZM1142.9 2936.6L1136.5 2939L1131.1 2934.8L1137.5 2932.4ZM1165.8 2838.7L1159.1 2840L1154.4 2835L1161.1 2833.7Z" fill="#ffffff" stroke="#8a8a8a" stroke-width="0.9"/>
<path d="M1267.2 2645.2L1259.9 2635.2L1271.4 2639.9ZM1325.5 2579.3L1317.7 2571.2L1322.6 2566.5L1330.4 2574.6ZM1583.3 2427.2L1583.1 2414.8L1589.8 2425.3ZM2261.4 2640.4L2272.9 2635.7L2265.6 2645.7ZM2269.3 2650.1L2278.3 2643.4L2282.4 2648.9L2273.4 2655.6ZM2394.5 2974.9L2405.6 2973.9L2406.2 2980.7L2395 2981.6ZM2328.3 3316.5L2338.3 3321.7L2335.2 3327.7L2325.2 3322.6ZM2326.5 3344.4L2314.4 3341.5L2323.1 3350.3ZM2320.1 3355.5L2308.1 3352.4L2316.6 3361.4ZM2275.7 3402.3L2284.7 3408.9L2280.6 3414.4L2271.6 3407.8ZM2080.2 3577.5L2085.7 3587.2L2079.8 3590.6L2074.3 3580.8ZM2069.2 3583.7L2074.5 3593.5L2068.6 3596.7L2063.2 3586.9ZM2058.1 3589.6L2063.2 3599.5L2057.2 3602.7L2052.1 3592.7ZM1333.2 3489.1L1325.5 3497.2L1320.6 3492.5L1328.3 3484.4ZM1298.2 3452.9L1287.1 3458.3L1293.7 3447.8ZM1137.6 3078L1125.5 3075.5L1137.1 3071.2Z" fill="#1f74b0" stroke="#667" stroke-width="0.4"/>
<path d="M1299.3 2606.5L1291.1 2598.9L1295.7 2593.9L1303.9 2601.5ZM1807.1 2401.4L1811.3 2389.8L1813.9 2401.9ZM2254.4 2613.3L2247.5 2623.6L2258.8 2618.5ZM2370 2811.6L2359.9 2818.8L2372.2 2818ZM2395.8 3062.9L2407.5 3067L2395.4 3069.7ZM2395 3075.5L2406.6 3079.8L2394.5 3082.2ZM2332.6 3333.2L2320.5 3330.5L2329.4 3339.2ZM2296.8 3371L2304.9 3380.3L2293.1 3376.7ZM2218.7 3469.4L2224.8 3480.2L2213.9 3474.3ZM2163 3520.4L2167.8 3531.8L2157.7 3524.6ZM2122.7 3550.5L2126.5 3562.2L2117 3554.3ZM2118.6 3567.4L2109.3 3559.2L2112.9 3571.1ZM2107.8 3574.3L2098.7 3566L2102.1 3577.9ZM2096.9 3581L2087.9 3572.5L2091.1 3584.5ZM2024 3605.8L2025.7 3618L2017.8 3608.5ZM1703.4 3669.6L1701.3 3657.4L1696.7 3668.9ZM1654.8 3651L1649.3 3662.1L1648.1 3649.7ZM1642.4 3648.6L1636.7 3659.6L1635.8 3647.3ZM1437.6 3582.3L1440.8 3570.3L1431.8 3578.8ZM1426.7 3575.6L1430.1 3563.7L1420.9 3572ZM1374 3539.1L1378.7 3527.6L1368.7 3534.9ZM1220.2 3368.6L1228.6 3359.5L1216.7 3362.8ZM1205.5 3318.7L1193.4 3321L1202.4 3312.6ZM1175.1 3249.6L1162.7 3250.5L1172.8 3243.2ZM1170.8 3237.8L1158.5 3238.4L1168.6 3231.3ZM1166.8 3225.8L1154.4 3226.2L1164.7 3219.4ZM1147.8 3152.8L1135.4 3151.7L1146.5 3146.1ZM1145.4 3140.4L1133.1 3139.1L1144.3 3133.7ZM1143.4 3128L1131.1 3126.4L1142.4 3121.3ZM1146.4 2915.1L1135.4 2909.5L1147.7 2908.4ZM1148.9 2902.8L1137.9 2897L1150.3 2896.1ZM1151.5 2890.5L1140.7 2884.4L1153.1 2883.8ZM1154.5 2878.2L1143.8 2872L1156.1 2871.6ZM1161 2853.9L1150.6 2847.3L1163 2847.4ZM1172.7 2818L1162.7 2810.7L1175 2811.6Z" fill="#a5cde2" stroke="#667" stroke-width="0.4"/>
<g fill="#b0dc8a" stroke="#667" stroke-width="0.4"><ellipse cx="1434.4" cy="2487.6" rx="5.9" ry="3.25" transform="rotate(238.6 1434.4 2487.6)"/><ellipse cx="1456.3" cy="2474.7" rx="5.9" ry="3.25" transform="rotate(240.9 1456.3 2474.7)"/><ellipse cx="1467.5" cy="2468.7" rx="5.9" ry="3.25" transform="rotate(242 1467.5 2468.7)"/><ellipse cx="1948.1" cy="2420.8" rx="5.9" ry="3.25" transform="rotate(286.6 1948.1 2420.8)"/><ellipse cx="1960.3" cy="2424.5" rx="5.9" ry="3.25" transform="rotate(287.8 1960.3 2424.5)"/><ellipse cx="2317.7" cy="2713.1" rx="5.9" ry="3.25" transform="rotate(330.1 2317.7 2713.1)"/><ellipse cx="2346.6" cy="2769.7" rx="5.9" ry="3.25" transform="rotate(335.8 2346.6 2769.7)"/><ellipse cx="2285.6" cy="3398.1" rx="5.9" ry="3.25" transform="rotate(395.3 2285.6 3398.1)"/><ellipse cx="1130.7" cy="2998.9" rx="5.9" ry="3.25" transform="rotate(542.8 1130.7 2998.9)"/></g>
<g fill="#a5cde2" stroke="#667" stroke-width="0.4"><ellipse cx="1659" cy="2403.3" rx="5.9" ry="3.25" transform="rotate(260.3 1659 2403.3)"/><ellipse cx="2202.4" cy="3493.8" rx="5.9" ry="3.25" transform="rotate(406.7 2202.4 3493.8)"/><ellipse cx="1172.9" cy="3260.3" rx="5.9" ry="3.25" transform="rotate(518.8 1172.9 3260.3)"/><ellipse cx="1129.9" cy="3024.3" rx="5.9" ry="3.25" transform="rotate(540.6 1129.9 3024.3)"/></g>
<path d="M1680 2394.1L1684.9 2405.5L1686.8 2393.2ZM1967.2 2433L1974.3 2422.8L1973.6 2435.2ZM2211.4 2583.8L2219.4 2575.9L2224.2 2580.7L2216.2 2588.6ZM2354.7 2803.7L2365.2 2799.7L2367.6 2806.1L2357.1 2810.1ZM2394 3088L2405.5 3092.5L2393.3 3094.8ZM2385.1 3150.3L2396.1 3156L2383.8 3157ZM1471.2 3601L1473.7 3588.8L1465.2 3597.8ZM1459.9 3595L1462.6 3582.9L1453.9 3591.7ZM1448.7 3588.7L1451.7 3576.7L1442.8 3585.3Z" fill="#b0dc8a" stroke="#667" stroke-width="0.4"/>
<g fill="#1f74b0" stroke="#667" stroke-width="0.4"><ellipse cx="1722.1" cy="2395.7" rx="5.9" ry="3.25" transform="rotate(266 1722.1 2395.7)"/><ellipse cx="1734.8" cy="2395" rx="5.9" ry="3.25" transform="rotate(267.2 1734.8 2395)"/><ellipse cx="2170.9" cy="2539.5" rx="5.9" ry="3.25" transform="rotate(309.5 2170.9 2539.5)"/><ellipse cx="2180.6" cy="2547.6" rx="5.9" ry="3.25" transform="rotate(310.6 2180.6 2547.6)"/><ellipse cx="2208.8" cy="2573.3" rx="5.9" ry="3.25" transform="rotate(314.1 2208.8 2573.3)"/><ellipse cx="2283.3" cy="2659.8" rx="5.9" ry="3.25" transform="rotate(324.4 2283.3 2659.8)"/><ellipse cx="2290.6" cy="2670.2" rx="5.9" ry="3.25" transform="rotate(325.5 2290.6 2670.2)"/><ellipse cx="2297.7" cy="2680.7" rx="5.9" ry="3.25" transform="rotate(326.7 2297.7 2680.7)"/><ellipse cx="2304.6" cy="2691.4" rx="5.9" ry="3.25" transform="rotate(327.8 2304.6 2691.4)"/><ellipse cx="2311.3" cy="2702.2" rx="5.9" ry="3.25" transform="rotate(328.9 2311.3 2702.2)"/><ellipse cx="2329.9" cy="2735.4" rx="5.9" ry="3.25" transform="rotate(332.4 2329.9 2735.4)"/><ellipse cx="2335.7" cy="2746.7" rx="5.9" ry="3.25" transform="rotate(333.5 2335.7 2746.7)"/><ellipse cx="2341.3" cy="2758.2" rx="5.9" ry="3.25" transform="rotate(334.7 2341.3 2758.2)"/><ellipse cx="2380.7" cy="2865.3" rx="5.9" ry="3.25" transform="rotate(345 2380.7 2865.3)"/><ellipse cx="2386.8" cy="2890" rx="5.9" ry="3.25" transform="rotate(347.2 2386.8 2890)"/><ellipse cx="2238" cy="3457.5" rx="5.9" ry="3.25" transform="rotate(402.1 2238 3457.5)"/><ellipse cx="2229.3" cy="3466.8" rx="5.9" ry="3.25" transform="rotate(403.3 2229.3 3466.8)"/><ellipse cx="2133.6" cy="3550" rx="5.9" ry="3.25" transform="rotate(414.7 2133.6 3550)"/><ellipse cx="2011.6" cy="3617.6" rx="5.9" ry="3.25" transform="rotate(427.3 2011.6 3617.6)"/><ellipse cx="1988" cy="3626.9" rx="5.9" ry="3.25" transform="rotate(429.6 1988 3626.9)"/><ellipse cx="1976" cy="3631.2" rx="5.9" ry="3.25" transform="rotate(430.7 1976 3631.2)"/><ellipse cx="1951.9" cy="3639.1" rx="5.9" ry="3.25" transform="rotate(433 1951.9 3639.1)"/><ellipse cx="1939.7" cy="3642.7" rx="5.9" ry="3.25" transform="rotate(434.2 1939.7 3642.7)"/><ellipse cx="1927.4" cy="3646" rx="5.9" ry="3.25" transform="rotate(435.3 1927.4 3646)"/><ellipse cx="1915.1" cy="3649.1" rx="5.9" ry="3.25" transform="rotate(436.5 1915.1 3649.1)"/><ellipse cx="1902.7" cy="3652" rx="5.9" ry="3.25" transform="rotate(437.6 1902.7 3652)"/><ellipse cx="1890.3" cy="3654.6" rx="5.9" ry="3.25" transform="rotate(438.8 1890.3 3654.6)"/><ellipse cx="1877.8" cy="3656.9" rx="5.9" ry="3.25" transform="rotate(439.9 1877.8 3656.9)"/><ellipse cx="1865.3" cy="3659" rx="5.9" ry="3.25" transform="rotate(441 1865.3 3659)"/><ellipse cx="1852.7" cy="3660.9" rx="5.9" ry="3.25" transform="rotate(442.2 1852.7 3660.9)"/><ellipse cx="1840.1" cy="3662.5" rx="5.9" ry="3.25" transform="rotate(443.3 1840.1 3662.5)"/><ellipse cx="1827.5" cy="3663.8" rx="5.9" ry="3.25" transform="rotate(444.5 1827.5 3663.8)"/><ellipse cx="1814.8" cy="3664.9" rx="5.9" ry="3.25" transform="rotate(445.6 1814.8 3664.9)"/><ellipse cx="1802.2" cy="3665.8" rx="5.9" ry="3.25" transform="rotate(446.8 1802.2 3665.8)"/><ellipse cx="1789.5" cy="3666.4" rx="5.9" ry="3.25" transform="rotate(447.9 1789.5 3666.4)"/><ellipse cx="1776.8" cy="3666.7" rx="5.9" ry="3.25" transform="rotate(449 1776.8 3666.7)"/><ellipse cx="1764.1" cy="3666.8" rx="5.9" ry="3.25" transform="rotate(450.2 1764.1 3666.8)"/><ellipse cx="1751.4" cy="3666.6" rx="5.9" ry="3.25" transform="rotate(451.3 1751.4 3666.6)"/><ellipse cx="1738.7" cy="3666.2" rx="5.9" ry="3.25" transform="rotate(452.5 1738.7 3666.2)"/><ellipse cx="1576.4" cy="3637.8" rx="5.9" ry="3.25" transform="rotate(467.4 1576.4 3637.8)"/><ellipse cx="1564.3" cy="3633.9" rx="5.9" ry="3.25" transform="rotate(468.5 1564.3 3633.9)"/><ellipse cx="1416.2" cy="3561.9" rx="5.9" ry="3.25" transform="rotate(483.4 1416.2 3561.9)"/><ellipse cx="1405.7" cy="3554.8" rx="5.9" ry="3.25" transform="rotate(484.5 1405.7 3554.8)"/><ellipse cx="1395.3" cy="3547.5" rx="5.9" ry="3.25" transform="rotate(485.7 1395.3 3547.5)"/><ellipse cx="1259.3" cy="3415.1" rx="5.9" ry="3.25" transform="rotate(502.8 1259.3 3415.1)"/><ellipse cx="1251.7" cy="3404.9" rx="5.9" ry="3.25" transform="rotate(504 1251.7 3404.9)"/><ellipse cx="1131.4" cy="2986.2" rx="5.9" ry="3.25" transform="rotate(544 1131.4 2986.2)"/><ellipse cx="1132.5" cy="2973.5" rx="5.9" ry="3.25" transform="rotate(545.1 1132.5 2973.5)"/><ellipse cx="1133.7" cy="2960.9" rx="5.9" ry="3.25" transform="rotate(546.3 1133.7 2960.9)"/></g>
<path d="M1743.9 2388.7L1747.6 2400.5L1750.7 2388.5ZM1769.5 2388.3L1772.8 2400.2L1776.3 2388.4ZM1871.6 2397L1872.9 2409.3L1878.3 2398.2ZM1884.2 2399.2L1885.3 2411.6L1890.9 2400.5ZM1896.8 2401.7L1897.7 2414.1L1903.5 2403.1ZM2246 2603.6L2239.3 2614L2250.5 2608.7ZM2355.8 2775.9L2346.2 2783.7L2358.4 2782.1ZM2360.7 2787.7L2351 2795.3L2363.3 2794ZM2199.5 3504.5L2189 3497.9L2194.5 3509ZM1602.6 3651.5L1602.4 3639.1L1596 3649.7ZM1517.7 3622.7L1519.2 3610.4L1511.4 3620ZM1213.6 3357.7L1222.1 3348.7L1210.1 3351.8ZM1163 3213.8L1150.7 3214L1161.1 3207.3ZM1159.5 3201.7L1147.1 3201.6L1157.7 3195.2ZM1150.3 3165.1L1138 3164.3L1148.9 3158.5ZM1136.2 3052.9L1124.2 3049.8L1136 3046.1ZM1144 2927.4L1132.9 2925.6L1134.1 2918.9L1145.1 2920.7Z" fill="#f59a99" stroke="#667" stroke-width="0.4"/>
<g fill="#339c33" stroke="#667" stroke-width="0.4"><ellipse cx="2398.2" cy="3104.6" rx="5.9" ry="3.25" transform="rotate(366.7 2398.2 3104.6)"/><ellipse cx="1187.7" cy="3295.4" rx="5.9" ry="3.25" transform="rotate(515.4 1187.7 3295.4)"/></g>
<g fill="#f59a99" stroke="#667" stroke-width="0.4"><ellipse cx="1152.8" cy="2861.2" rx="5.9" ry="3.25" transform="rotate(555.4 1152.8 2861.2)"/><ellipse cx="1164.1" cy="2824.8" rx="5.9" ry="3.25" transform="rotate(558.9 1164.1 2824.8)"/></g>
<g font-family="'Liberation Serif','Times New Roman',serif" font-size="25" fill="#000" text-anchor="middle">
<text x="1177.6" y="2720.5">e</text>
<text x="1192.6" y="2728.5">d</text>
<text x="1207.8" y="2737">c</text>
<text x="1224.7" y="2745">b</text>
<text x="1284" y="2783.5">a</text>
</g>
<g font-family="'Liberation Serif','Times New Roman',serif" font-size="4.15" fill="#061003" stroke="#061003" stroke-width="0.3">
<text transform="translate(1342.6,2785) rotate(30)" text-anchor="end" y="1.4">L.grayi_1641_v2</text>
<text transform="translate(1347.6,2776.6) rotate(31.1)" text-anchor="end" y="1.4">L.grayi_1641_v1</text>
<text transform="translate(1352.7,2768.3) rotate(32.3)" text-anchor="end" y="1.4">L.grayi_DSM_20601_525367</text>
<text transform="translate(1358,2760.1) rotate(33.4)" text-anchor="end" y="1.4">L.grayi_1641</text>
<text transform="translate(1363.4,2752) rotate(34.5)" text-anchor="end" y="1.4">L.seeligeri_1640</text>
<text transform="translate(1369,2744) rotate(35.7)" text-anchor="end" y="1.4">L.seeligeri_serovar_1_2b_str_SLCC3954_683837</text>
<text transform="translate(1374.8,2736.1) rotate(36.8)" text-anchor="end" y="1.4">L.seeligeri_FSL_S4.171_702452</text>
<text transform="translate(1380.8,2728.4) rotate(38)" text-anchor="end" y="1.4">L.seeligeri_1640_v1</text>
<text transform="translate(1386.8,2720.7) rotate(39.1)" text-anchor="end" y="1.4">L.seeligeri_FSL_N1.067_702453</text>
<text transform="translate(1393.1,2713.2) rotate(40.3)" text-anchor="end" y="1.4">L.ivanovii_subsp_londoniensis_202752_v2</text>
<text transform="translate(1399.5,2705.8) rotate(41.4)" text-anchor="end" y="1.4">L.ivanovii_subsp_londoniensis_202752</text>
<text transform="translate(1406,2698.6) rotate(42.6)" text-anchor="end" y="1.4">L.ivanovii_subsp_londoniensis_202752_v1</text>
<text transform="translate(1412.7,2691.5) rotate(43.7)" text-anchor="end" y="1.4">L.ivanovii_FSL_F6.596_702454</text>
<text transform="translate(1419.5,2684.5) rotate(44.8)" text-anchor="end" y="1.4">L.ivanovii_subsp_ivanovii_202751_v1</text>
<text transform="translate(1426.4,2677.6) rotate(46)" text-anchor="end" y="1.4">L.ivanovii_subsp_ivanovii_202751</text>
<text transform="translate(1433.5,2670.9) rotate(47.1)" text-anchor="end" y="1.4">L.ivanovii_subsp_ivanovii_PAM_55_881621</text>
<text transform="translate(1440.7,2664.3) rotate(48.3)" text-anchor="end" y="1.4">L.ivanovii_subsp_ivanovii_202751_v2</text>
<text transform="translate(1448.1,2657.9) rotate(49.4)" text-anchor="end" y="1.4">L.ivanovii_1638</text>
<text transform="translate(1455.6,2651.6) rotate(50.6)" text-anchor="end" y="1.4">L.ivanovii_WSLC3009_1457190</text>
<text transform="translate(1463.2,2645.5) rotate(51.7)" text-anchor="end" y="1.4">L.welshimeri_serovar_6b_str_SLCC5334_386043</text>
<text transform="translate(1470.9,2639.5) rotate(52.9)" text-anchor="end" y="1.4">L.welshimeri_1643</text>
<text transform="translate(1478.7,2633.7) rotate(54)" text-anchor="end" y="1.4">L.innocua_FSL_S4.378_702456</text>
<text transform="translate(1486.7,2628.1) rotate(55.1)" text-anchor="end" y="1.4">L.innocua_FSL_J1.023_702455</text>
<text transform="translate(1494.8,2622.6) rotate(56.3)" text-anchor="end" y="1.4">L.innocua_1642_v4</text>
<text transform="translate(1502.9,2617.2) rotate(57.4)" text-anchor="end" y="1.4">L.innocua_Clip11262_272626</text>
<text transform="translate(1511.2,2612) rotate(58.6)" text-anchor="end" y="1.4">L.innocua_1642_v2</text>
<text transform="translate(1519.6,2607) rotate(59.7)" text-anchor="end" y="1.4">L.innocua_1642_v3</text>
<text transform="translate(1528.1,2602.2) rotate(60.9)" text-anchor="end" y="1.4">L.innocua_1642</text>
<text transform="translate(1536.6,2597.5) rotate(62)" text-anchor="end" y="1.4">L.innocua_1642_v1</text>
<text transform="translate(1545.3,2593) rotate(63.1)" text-anchor="end" y="1.4">L.marthii_FSL_S4.120_702457</text>
<text transform="translate(1554.1,2588.7) rotate(64.3)" text-anchor="end" y="1.4">L.marthii_529731_v1</text>
<text transform="translate(1562.9,2584.6) rotate(65.4)" text-anchor="end" y="1.4">L.marthii_529731</text>
<text transform="translate(1571.8,2580.6) rotate(66.6)" text-anchor="end" y="1.4" textLength="71" lengthAdjust="spacingAndGlyphs">L.monocytogenes_ATCC_19032_393132</text>
<text transform="translate(1580.8,2576.8) rotate(67.7)" text-anchor="end" y="1.4" textLength="57" lengthAdjust="spacingAndGlyphs">L.monocytogenes_1639_se1033</text>
<text transform="translate(1589.9,2573.2) rotate(68.9)" text-anchor="end" y="1.4" textLength="57" lengthAdjust="spacingAndGlyphs">L.monocytogenes_1639_se1034</text>
<text transform="translate(1599,2569.8) rotate(70)" text-anchor="end" y="1.4" textLength="57" lengthAdjust="spacingAndGlyphs">L.monocytogenes_1639_se1035</text>
<text transform="translate(1608.2,2566.5) rotate(71.2)" text-anchor="end" y="1.4" textLength="57" lengthAdjust="spacingAndGlyphs">L.monocytogenes_1639_se1036</text>
<text transform="translate(1617.5,2563.5) rotate(72.3)" text-anchor="end" y="1.4" textLength="71" lengthAdjust="spacingAndGlyphs">L.monocytogenes_ATCC_19037_393137</text>
<text transform="translate(1626.8,2560.6) rotate(73.4)" text-anchor="end" y="1.4" textLength="57" lengthAdjust="spacingAndGlyphs">L.monocytogenes_1639_se1038</text>
<text transform="translate(1636.2,2557.9) rotate(74.6)" text-anchor="end" y="1.4" textLength="57" lengthAdjust="spacingAndGlyphs">L.monocytogenes_1639_se1039</text>
<text transform="translate(1645.7,2555.4) rotate(75.7)" text-anchor="end" y="1.4" textLength="57" lengthAdjust="spacingAndGlyphs">L.monocytogenes_1639_se1040</text>
<text transform="translate(1655.1,2553.1) rotate(76.9)" text-anchor="end" y="1.4" textLength="57" lengthAdjust="spacingAndGlyphs">L.monocytogenes_1639_se1041</text>
<text transform="translate(1664.7,2551) rotate(78)" text-anchor="end" y="1.4" textLength="57" lengthAdjust="spacingAndGlyphs">L.monocytogenes_1639_se1042</text>
<text transform="translate(1674.2,2549) rotate(79.2)" text-anchor="end" y="1.4" textLength="57" lengthAdjust="spacingAndGlyphs">L.monocytogenes_1639_se1043</text>
<text transform="translate(1683.8,2547.3) rotate(80.3)" text-anchor="end" y="1.4" textLength="57" lengthAdjust="spacingAndGlyphs">L.monocytogenes_1639_se1044</text>
<text transform="translate(1693.5,2545.7) rotate(81.4)" text-anchor="end" y="1.4" textLength="57" lengthAdjust="spacingAndGlyphs">L.monocytogenes_1639_se1045</text>
<text transform="translate(1703.1,2544.4) rotate(82.6)" text-anchor="end" y="1.4" textLength="57" lengthAdjust="spacingAndGlyphs">L.monocytogenes_1639_se1046</text>
<text transform="translate(1712.8,2543.2) rotate(83.7)" text-anchor="end" y="1.4" textLength="57" lengthAdjust="spacingAndGlyphs">L.monocytogenes_1639_se1047</text>
<text transform="translate(1722.6,2542.3) rotate(84.9)" text-anchor="end" y="1.4" textLength="64" lengthAdjust="spacingAndGlyphs">L.monocytogenes_EGD_e_169048</text>
<text transform="translate(1732.3,2541.5) rotate(86)" text-anchor="end" y="1.4" textLength="99" lengthAdjust="spacingAndGlyphs">L.monocytogenes_serotype_1_2a_str_08_5147_637539</text>
<text transform="translate(1742,2540.9) rotate(87.2)" text-anchor="end" y="1.4" textLength="98" lengthAdjust="spacingAndGlyphs">L.monocytogenes_serotype_1_2a_str_08_5150_637550</text>
<text transform="translate(1751.8,2540.5) rotate(88.3)" text-anchor="end" y="1.4" textLength="57" lengthAdjust="spacingAndGlyphs">L.monocytogenes_1639_se1051</text>
<text transform="translate(1761.6,2540.3) rotate(89.5)" text-anchor="end" y="1.4" textLength="57" lengthAdjust="spacingAndGlyphs">L.monocytogenes_1639_se1052</text>
<text transform="translate(1771.3,2540.3) rotate(270.6)" y="1.4" textLength="57" lengthAdjust="spacingAndGlyphs">L.monocytogenes_1639_se1053</text>
<text transform="translate(1781.1,2540.5) rotate(271.7)" y="1.4" textLength="71" lengthAdjust="spacingAndGlyphs">L.monocytogenes_ATCC_19054_393154</text>
<text transform="translate(1790.8,2540.9) rotate(272.9)" y="1.4" textLength="102" lengthAdjust="spacingAndGlyphs">L.monocytogenes_serotype_1_2a_str_08_5165_637605</text>
<text transform="translate(1800.6,2541.5) rotate(274)" y="1.4" textLength="50" lengthAdjust="spacingAndGlyphs">L.monocytogenes_1639_se25</text>
<text transform="translate(1810.3,2542.3) rotate(275.2)" y="1.4" textLength="50" lengthAdjust="spacingAndGlyphs">L.monocytogenes_1639_se26</text>
<text transform="translate(1820,2543.3) rotate(276.3)" y="1.4" textLength="50" lengthAdjust="spacingAndGlyphs">L.monocytogenes_1639_se27</text>
<text transform="translate(1829.7,2544.4) rotate(277.5)" y="1.4" textLength="64" lengthAdjust="spacingAndGlyphs">L.monocytogenes_EGD_e_169059</text>
<text transform="translate(1839.4,2545.8) rotate(278.6)" y="1.4" textLength="50" lengthAdjust="spacingAndGlyphs">L.monocytogenes_1639_se29</text>
<text transform="translate(1849,2547.4) rotate(279.8)" y="1.4" textLength="50" lengthAdjust="spacingAndGlyphs">L.monocytogenes_1639_se30</text>
<text transform="translate(1858.6,2549.1) rotate(280.9)" y="1.4" textLength="50" lengthAdjust="spacingAndGlyphs">L.monocytogenes_1639_se31</text>
<text transform="translate(1868.2,2551.1) rotate(282)" y="1.4" textLength="50" lengthAdjust="spacingAndGlyphs">L.monocytogenes_1639_se32</text>
<text transform="translate(1877.7,2553.2) rotate(283.2)" y="1.4" textLength="50" lengthAdjust="spacingAndGlyphs">L.monocytogenes_1639_se33</text>
<text transform="translate(1887.2,2555.5) rotate(284.3)" y="1.4" textLength="50" lengthAdjust="spacingAndGlyphs">L.monocytogenes_1639_se34</text>
<text transform="translate(1896.6,2558) rotate(285.5)" y="1.4" textLength="64" lengthAdjust="spacingAndGlyphs">L.monocytogenes_EGD_e_169066</text>
<text transform="translate(1906,2560.7) rotate(286.6)" y="1.4" textLength="50" lengthAdjust="spacingAndGlyphs">L.monocytogenes_1639_se36</text>
<text transform="translate(1915.3,2563.6) rotate(287.8)" y="1.4" textLength="50" lengthAdjust="spacingAndGlyphs">L.monocytogenes_1639_se37</text>
<text transform="translate(1924.6,2566.7) rotate(288.9)" y="1.4" textLength="50" lengthAdjust="spacingAndGlyphs">L.monocytogenes_1639_se38</text>
<text transform="translate(1933.8,2569.9) rotate(290)" y="1.4" textLength="50" lengthAdjust="spacingAndGlyphs">L.monocytogenes_1639_se39</text>
<text transform="translate(1943,2573.4) rotate(291.2)" y="1.4" textLength="63" lengthAdjust="spacingAndGlyphs">L.monocytogenes_EGD_e_169071</text>
<text transform="translate(1952,2577) rotate(292.3)" y="1.4" textLength="50" lengthAdjust="spacingAndGlyphs">L.monocytogenes_1639_se41</text>
<text transform="translate(1961,2580.8) rotate(293.5)" y="1.4" textLength="50" lengthAdjust="spacingAndGlyphs">L.monocytogenes_1639_se42</text>
<text transform="translate(1969.9,2584.8) rotate(294.6)" y="1.4" textLength="50" lengthAdjust="spacingAndGlyphs">L.monocytogenes_1639_se43</text>
<text transform="translate(1978.8,2588.9) rotate(295.8)" y="1.4" textLength="50" lengthAdjust="spacingAndGlyphs">L.monocytogenes_1639_se44</text>
<text transform="translate(1987.5,2593.2) rotate(296.9)" y="1.4" textLength="50" lengthAdjust="spacingAndGlyphs">L.monocytogenes_1639_se45</text>
<text transform="translate(1996.2,2597.8) rotate(298.1)" y="1.4" textLength="50" lengthAdjust="spacingAndGlyphs">L.monocytogenes_1639_se46</text>
<text transform="translate(2004.7,2602.4) rotate(299.2)" y="1.4" textLength="50" lengthAdjust="spacingAndGlyphs">L.monocytogenes_1639_se47</text>
<text transform="translate(2013.2,2607.3) rotate(300.3)" y="1.4" textLength="50" lengthAdjust="spacingAndGlyphs">L.monocytogenes_1639_se48</text>
<text transform="translate(2021.6,2612.3) rotate(301.5)" y="1.4" textLength="50" lengthAdjust="spacingAndGlyphs">L.monocytogenes_1639_se49</text>
<text transform="translate(2029.9,2617.5) rotate(302.6)" y="1.4" textLength="50" lengthAdjust="spacingAndGlyphs">L.monocytogenes_1639_se50</text>
<text transform="translate(2038,2622.8) rotate(303.8)" y="1.4" textLength="50" lengthAdjust="spacingAndGlyphs">L.monocytogenes_1639_se51</text>
<text transform="translate(2046.1,2628.3) rotate(304.9)" y="1.4" textLength="50" lengthAdjust="spacingAndGlyphs">L.monocytogenes_1639_se52</text>
<text transform="translate(2054,2634) rotate(306.1)" y="1.4" textLength="50" lengthAdjust="spacingAndGlyphs">L.monocytogenes_1639_se53</text>
<text transform="translate(2061.9,2639.8) rotate(307.2)" y="1.4" textLength="50" lengthAdjust="spacingAndGlyphs">L.monocytogenes_1639_se54</text>
<text transform="translate(2069.6,2645.8) rotate(308.3)" y="1.4" textLength="50" lengthAdjust="spacingAndGlyphs">L.monocytogenes_1639_se55</text>
<text transform="translate(2077.2,2651.9) rotate(309.5)" y="1.4" textLength="90" lengthAdjust="spacingAndGlyphs">L.monocytogenes_serotype_4b_str_F2087_265609</text>
<text transform="translate(2084.7,2658.2) rotate(310.6)" y="1.4" textLength="90" lengthAdjust="spacingAndGlyphs">L.monocytogenes_serotype_4b_str_F2088_265616</text>
<text transform="translate(2092,2664.6) rotate(311.8)" y="1.4" textLength="50" lengthAdjust="spacingAndGlyphs">L.monocytogenes_1639_se58</text>
<text transform="translate(2099.2,2671.2) rotate(312.9)" y="1.4" textLength="50" lengthAdjust="spacingAndGlyphs">L.monocytogenes_1639_se59</text>
<text transform="translate(2106.3,2677.9) rotate(314.1)" y="1.4" textLength="50" lengthAdjust="spacingAndGlyphs">L.monocytogenes_1639_se60</text>
<text transform="translate(2113.2,2684.8) rotate(315.2)" y="1.4" textLength="50" lengthAdjust="spacingAndGlyphs">L.monocytogenes_1639_se61</text>
<text transform="translate(2120.1,2691.8) rotate(316.4)" y="1.4" textLength="50" lengthAdjust="spacingAndGlyphs">L.monocytogenes_1639_se62</text>
<text transform="translate(2126.7,2698.9) rotate(317.5)" y="1.4" textLength="83" lengthAdjust="spacingAndGlyphs">L.monocytogenes_serotype_4b_str_F2094_265658</text>
<text transform="translate(2133.2,2706.2) rotate(318.6)" y="1.4" textLength="50" lengthAdjust="spacingAndGlyphs">L.monocytogenes_1639_se64</text>
<text transform="translate(2139.6,2713.6) rotate(319.8)" y="1.4" textLength="50" lengthAdjust="spacingAndGlyphs">L.monocytogenes_1639_se65</text>
<text transform="translate(2145.9,2721.1) rotate(320.9)" y="1.4" textLength="65" lengthAdjust="spacingAndGlyphs">L.monocytogenes_EGD_e_169097</text>
<text transform="translate(2151.9,2728.7) rotate(322.1)" y="1.4" textLength="50" lengthAdjust="spacingAndGlyphs">L.monocytogenes_1639_se67</text>
<text transform="translate(2157.9,2736.5) rotate(323.2)" y="1.4" textLength="69" lengthAdjust="spacingAndGlyphs">L.monocytogenes_ATCC_19099_393199</text>
<text transform="translate(2163.6,2744.4) rotate(324.4)" y="1.4" textLength="86" lengthAdjust="spacingAndGlyphs">L.monocytogenes_serotype_4b_str_F2100_265700</text>
<text transform="translate(2169.2,2752.4) rotate(325.5)" y="1.4" textLength="50" lengthAdjust="spacingAndGlyphs">L.monocytogenes_1639_se70</text>
<text transform="translate(2174.7,2760.5) rotate(326.7)" y="1.4" textLength="87" lengthAdjust="spacingAndGlyphs">L.monocytogenes_serotype_4b_str_F2102_265714</text>
<text transform="translate(2180,2768.7) rotate(327.8)" y="1.4" textLength="87" lengthAdjust="spacingAndGlyphs">L.monocytogenes_serotype_4b_str_F2103_265721</text>
<text transform="translate(2185.1,2777) rotate(328.9)" y="1.4" textLength="87" lengthAdjust="spacingAndGlyphs">L.monocytogenes_serotype_4b_str_F2104_265728</text>
<text transform="translate(2190,2785.4) rotate(330.1)" y="1.4" textLength="50" lengthAdjust="spacingAndGlyphs">L.monocytogenes_1639_se74</text>
<text transform="translate(2194.8,2793.9) rotate(331.2)" y="1.4" textLength="50" lengthAdjust="spacingAndGlyphs">L.monocytogenes_1639_se75</text>
<text transform="translate(2199.4,2802.5) rotate(332.4)" y="1.4" textLength="87" lengthAdjust="spacingAndGlyphs">L.monocytogenes_serotype_4b_str_F2107_265749</text>
<text transform="translate(2203.9,2811.2) rotate(333.5)" y="1.4" textLength="87" lengthAdjust="spacingAndGlyphs">L.monocytogenes_serotype_4b_str_F2108_265756</text>
<text transform="translate(2208.1,2820) rotate(334.7)" y="1.4" textLength="87" lengthAdjust="spacingAndGlyphs">L.monocytogenes_serotype_4b_str_F2109_265763</text>
<text transform="translate(2212.2,2828.9) rotate(335.8)" y="1.4" textLength="50" lengthAdjust="spacingAndGlyphs">L.monocytogenes_1639_se79</text>
<text transform="translate(2216.1,2837.8) rotate(336.9)" y="1.4" textLength="50" lengthAdjust="spacingAndGlyphs">L.monocytogenes_1639_se80</text>
<text transform="translate(2219.9,2846.8) rotate(338.1)" y="1.4" textLength="50" lengthAdjust="spacingAndGlyphs">L.monocytogenes_1639_se81</text>
<text transform="translate(2223.4,2855.9) rotate(339.2)" y="1.4" textLength="50" lengthAdjust="spacingAndGlyphs">L.monocytogenes_1639_se82</text>
<text transform="translate(2226.8,2865.1) rotate(340.4)" y="1.4" textLength="50" lengthAdjust="spacingAndGlyphs">L.monocytogenes_1639_se83</text>
<text transform="translate(2230,2874.3) rotate(341.5)" y="1.4" textLength="50" lengthAdjust="spacingAndGlyphs">L.monocytogenes_1639_se84</text>
<text transform="translate(2233,2883.6) rotate(342.7)" y="1.4" textLength="86" lengthAdjust="spacingAndGlyphs">L.monocytogenes_serotype_4b_str_F2116_265812</text>
<text transform="translate(2235.8,2892.9) rotate(343.8)" y="1.4" textLength="50" lengthAdjust="spacingAndGlyphs">L.monocytogenes_1639_se86</text>
<text transform="translate(2238.4,2902.4) rotate(345)" y="1.4" textLength="50" lengthAdjust="spacingAndGlyphs">L.monocytogenes_1639_se87</text>
<text transform="translate(2240.9,2911.8) rotate(346.1)" y="1.4" textLength="74" lengthAdjust="spacingAndGlyphs">L.monocytogenes_ATCC_19119_393219</text>
<text transform="translate(2243.1,2921.3) rotate(347.2)" y="1.4" textLength="50" lengthAdjust="spacingAndGlyphs">L.monocytogenes_1639_se89</text>
<text transform="translate(2245.2,2930.8) rotate(348.4)" y="1.4" textLength="50" lengthAdjust="spacingAndGlyphs">L.monocytogenes_1639_se90</text>
<text transform="translate(2247.1,2940.4) rotate(349.5)" y="1.4" textLength="50" lengthAdjust="spacingAndGlyphs">L.monocytogenes_1639_se91</text>
<text transform="translate(2248.7,2950) rotate(350.7)" y="1.4" textLength="50" lengthAdjust="spacingAndGlyphs">L.monocytogenes_1639_se92</text>
<text transform="translate(2250.2,2959.7) rotate(351.8)" y="1.4" textLength="50" lengthAdjust="spacingAndGlyphs">L.monocytogenes_1639_se93</text>
<text transform="translate(2251.5,2969.4) rotate(353)" y="1.4" textLength="50" lengthAdjust="spacingAndGlyphs">L.monocytogenes_1639_se94</text>
<text transform="translate(2252.6,2979.1) rotate(354.1)" y="1.4" textLength="67" lengthAdjust="spacingAndGlyphs">L.monocytogenes_EGD_e_169126</text>
<text transform="translate(2253.5,2988.8) rotate(355.2)" y="1.4" textLength="50" lengthAdjust="spacingAndGlyphs">L.monocytogenes_1639_se96</text>
<text transform="translate(2254.2,2998.5) rotate(356.4)" y="1.4" textLength="56" lengthAdjust="spacingAndGlyphs">L.monocytogenes_1639_se1128</text>
<text transform="translate(2254.7,3008.3) rotate(357.5)" y="1.4" textLength="50" lengthAdjust="spacingAndGlyphs">L.monocytogenes_1639_se98</text>
<text transform="translate(2255.1,3018) rotate(358.7)" y="1.4" textLength="50" lengthAdjust="spacingAndGlyphs">L.monocytogenes_1639_se99</text>
<text transform="translate(2255.2,3027.8) rotate(359.8)" y="1.4" textLength="50" lengthAdjust="spacingAndGlyphs">L.monocytogenes_1639_se100</text>
<text transform="translate(2255.1,3037.6) rotate(1)" y="1.4" textLength="50" lengthAdjust="spacingAndGlyphs">L.monocytogenes_1639_se101</text>
<text transform="translate(2254.9,3047.3) rotate(2.1)" y="1.4" textLength="50" lengthAdjust="spacingAndGlyphs">L.monocytogenes_1639_se102</text>
<text transform="translate(2254.4,3057.1) rotate(3.3)" y="1.4" textLength="50" lengthAdjust="spacingAndGlyphs">L.monocytogenes_1639_se103</text>
<text transform="translate(2253.8,3066.8) rotate(4.4)" y="1.4" textLength="50" lengthAdjust="spacingAndGlyphs">L.monocytogenes_1639_se104</text>
<text transform="translate(2252.9,3076.5) rotate(5.5)" y="1.4" textLength="50" lengthAdjust="spacingAndGlyphs">L.monocytogenes_1639_se105</text>
<text transform="translate(2251.9,3086.2) rotate(6.7)" y="1.4" textLength="50" lengthAdjust="spacingAndGlyphs">L.monocytogenes_1639_se106</text>
<text transform="translate(2250.6,3095.9) rotate(7.8)" y="1.4" textLength="75" lengthAdjust="spacingAndGlyphs">L.monocytogenes_ATCC_19138_393238</text>
<text transform="translate(2249.2,3105.6) rotate(9)" y="1.4" textLength="50" lengthAdjust="spacingAndGlyphs">L.monocytogenes_1639_se108</text>
<text transform="translate(2247.6,3115.2) rotate(10.1)" y="1.4" textLength="50" lengthAdjust="spacingAndGlyphs">L.monocytogenes_1639_se109</text>
<text transform="translate(2245.8,3124.8) rotate(11.3)" y="1.4" textLength="50" lengthAdjust="spacingAndGlyphs">L.monocytogenes_1639_se110</text>
<text transform="translate(2243.8,3134.4) rotate(12.4)" y="1.4" textLength="50" lengthAdjust="spacingAndGlyphs">L.monocytogenes_1639_se111</text>
<text transform="translate(2241.6,3143.9) rotate(13.6)" y="1.4" textLength="50" lengthAdjust="spacingAndGlyphs">L.monocytogenes_1639_se112</text>
<text transform="translate(2239.2,3153.3) rotate(14.7)" y="1.4" textLength="50" lengthAdjust="spacingAndGlyphs">L.monocytogenes_1639_se113</text>
<text transform="translate(2236.6,3162.8) rotate(15.8)" y="1.4" textLength="50" lengthAdjust="spacingAndGlyphs">L.monocytogenes_1639_se114</text>
<text transform="translate(2233.9,3172.1) rotate(17)" y="1.4" textLength="50" lengthAdjust="spacingAndGlyphs">L.monocytogenes_1639_se115</text>
<text transform="translate(2230.9,3181.4) rotate(18.1)" y="1.4" textLength="56" lengthAdjust="spacingAndGlyphs">L.monocytogenes_1639_se1147</text>
<text transform="translate(2227.8,3190.7) rotate(19.3)" y="1.4" textLength="50" lengthAdjust="spacingAndGlyphs">L.monocytogenes_1639_se117</text>
<text transform="translate(2224.5,3199.9) rotate(20.4)" y="1.4" textLength="50" lengthAdjust="spacingAndGlyphs">L.monocytogenes_1639_se118</text>
<text transform="translate(2221,3209) rotate(21.6)" y="1.4" textLength="50" lengthAdjust="spacingAndGlyphs">L.monocytogenes_1639_se119</text>
<text transform="translate(2217.3,3218) rotate(22.7)" y="1.4" textLength="50" lengthAdjust="spacingAndGlyphs">L.monocytogenes_1639_se120</text>
<text transform="translate(2213.5,3227) rotate(23.8)" y="1.4" textLength="50" lengthAdjust="spacingAndGlyphs">L.monocytogenes_1639_se121</text>
<text transform="translate(2209.4,3235.9) rotate(25)" y="1.4" textLength="50" lengthAdjust="spacingAndGlyphs">L.monocytogenes_1639_se122</text>
<text transform="translate(2205.2,3244.7) rotate(26.1)" y="1.4" textLength="50" lengthAdjust="spacingAndGlyphs">L.monocytogenes_1639_se123</text>
<text transform="translate(2200.8,3253.4) rotate(27.3)" y="1.4" textLength="50" lengthAdjust="spacingAndGlyphs">L.monocytogenes_1639_se124</text>
<text transform="translate(2196.3,3262) rotate(28.4)" y="1.4" textLength="50" lengthAdjust="spacingAndGlyphs">L.monocytogenes_1639_se125</text>
<text transform="translate(2191.5,3270.6) rotate(29.6)" y="1.4" textLength="50" lengthAdjust="spacingAndGlyphs">L.monocytogenes_1639_se126</text>
<text transform="translate(2186.6,3279) rotate(30.7)" y="1.4" textLength="50" lengthAdjust="spacingAndGlyphs">L.monocytogenes_1639_se127</text>
<text transform="translate(2181.6,3287.4) rotate(31.9)" y="1.4" textLength="50" lengthAdjust="spacingAndGlyphs">L.monocytogenes_1639_se128</text>
<text transform="translate(2176.3,3295.6) rotate(33)" y="1.4" textLength="50" lengthAdjust="spacingAndGlyphs">L.monocytogenes_1639_se129</text>
<text transform="translate(2170.9,3303.7) rotate(34.1)" y="1.4" textLength="50" lengthAdjust="spacingAndGlyphs">L.monocytogenes_1639_se130</text>
<text transform="translate(2165.4,3311.8) rotate(35.3)" y="1.4" textLength="50" lengthAdjust="spacingAndGlyphs">L.monocytogenes_1639_se131</text>
<text transform="translate(2159.6,3319.7) rotate(36.4)" y="1.4" textLength="50" lengthAdjust="spacingAndGlyphs">L.monocytogenes_1639_se132</text>
<text transform="translate(2153.8,3327.5) rotate(37.6)" y="1.4" textLength="50" lengthAdjust="spacingAndGlyphs">L.monocytogenes_1639_se133</text>
<text transform="translate(2147.7,3335.2) rotate(38.7)" y="1.4" textLength="50" lengthAdjust="spacingAndGlyphs">L.monocytogenes_1639_se134</text>
<text transform="translate(2141.6,3342.7) rotate(39.9)" y="1.4" textLength="50" lengthAdjust="spacingAndGlyphs">L.monocytogenes_1639_se135</text>
<text transform="translate(2135.2,3350.1) rotate(41)" y="1.4" textLength="50" lengthAdjust="spacingAndGlyphs">L.monocytogenes_1639_se136</text>
<text transform="translate(2128.7,3357.4) rotate(42.1)" y="1.4" textLength="50" lengthAdjust="spacingAndGlyphs">L.monocytogenes_1639_se137</text>
<text transform="translate(2122.1,3364.6) rotate(43.3)" y="1.4" textLength="50" lengthAdjust="spacingAndGlyphs">L.monocytogenes_1639_se138</text>
<text transform="translate(2115.4,3371.7) rotate(44.4)" y="1.4" textLength="50" lengthAdjust="spacingAndGlyphs">L.monocytogenes_1639_se139</text>
<text transform="translate(2108.5,3378.6) rotate(45.6)" y="1.4" textLength="50" lengthAdjust="spacingAndGlyphs">L.monocytogenes_1639_se140</text>
<text transform="translate(2101.4,3385.3) rotate(46.7)" y="1.4" textLength="50" lengthAdjust="spacingAndGlyphs">L.monocytogenes_1639_se141</text>
<text transform="translate(2094.2,3391.9) rotate(47.9)" y="1.4" textLength="50" lengthAdjust="spacingAndGlyphs">L.monocytogenes_1639_se142</text>
<text transform="translate(2086.9,3398.4) rotate(49)" y="1.4" textLength="65" lengthAdjust="spacingAndGlyphs">L.monocytogenes_EGD_e_169174</text>
<text transform="translate(2079.5,3404.8) rotate(50.2)" y="1.4" textLength="50" lengthAdjust="spacingAndGlyphs">L.monocytogenes_1639_se144</text>
<text transform="translate(2071.9,3410.9) rotate(51.3)" y="1.4" textLength="50" lengthAdjust="spacingAndGlyphs">L.monocytogenes_1639_se145</text>
<text transform="translate(2064.3,3417) rotate(52.4)" y="1.4" textLength="50" lengthAdjust="spacingAndGlyphs">L.monocytogenes_1639_se146</text>
<text transform="translate(2056.5,3422.8) rotate(53.6)" y="1.4" textLength="50" lengthAdjust="spacingAndGlyphs">L.monocytogenes_1639_se147</text>
<text transform="translate(2048.6,3428.5) rotate(54.7)" y="1.4" textLength="50" lengthAdjust="spacingAndGlyphs">L.monocytogenes_1639_se148</text>
<text transform="translate(2040.5,3434.1) rotate(55.9)" y="1.4" textLength="50" lengthAdjust="spacingAndGlyphs">L.monocytogenes_1639_se149</text>
<text transform="translate(2032.4,3439.5) rotate(57)" y="1.4" textLength="50" lengthAdjust="spacingAndGlyphs">L.monocytogenes_1639_se150</text>
<text transform="translate(2024.1,3444.7) rotate(58.2)" y="1.4" textLength="50" lengthAdjust="spacingAndGlyphs">L.monocytogenes_1639_se151</text>
<text transform="translate(2015.8,3449.8) rotate(59.3)" y="1.4" textLength="50" lengthAdjust="spacingAndGlyphs">L.monocytogenes_1639_se152</text>
<text transform="translate(2007.4,3454.7) rotate(60.5)" y="1.4" textLength="50" lengthAdjust="spacingAndGlyphs">L.monocytogenes_1639_se153</text>
<text transform="translate(1998.8,3459.4) rotate(61.6)" y="1.4" textLength="50" lengthAdjust="spacingAndGlyphs">L.monocytogenes_1639_se154</text>
<text transform="translate(1990.2,3464) rotate(62.7)" y="1.4" textLength="50" lengthAdjust="spacingAndGlyphs">L.monocytogenes_1639_se155</text>
<text transform="translate(1981.5,3468.4) rotate(63.9)" y="1.4" textLength="50" lengthAdjust="spacingAndGlyphs">L.monocytogenes_1639_se156</text>
<text transform="translate(1972.7,3472.6) rotate(65)" y="1.4" textLength="57" lengthAdjust="spacingAndGlyphs">L.monocytogenes_1639_se1188</text>
<text transform="translate(1963.8,3476.6) rotate(66.2)" y="1.4" textLength="50" lengthAdjust="spacingAndGlyphs">L.monocytogenes_1639_se158</text>
<text transform="translate(1954.8,3480.5) rotate(67.3)" y="1.4" textLength="89" lengthAdjust="spacingAndGlyphs">L.monocytogenes_serotype_4b_str_F2190_266330</text>
<text transform="translate(1945.7,3484.1) rotate(68.5)" y="1.4" textLength="68" lengthAdjust="spacingAndGlyphs">L.monocytogenes_ATCC_19191_393291</text>
<text transform="translate(1936.6,3487.6) rotate(69.6)" y="1.4" textLength="50" lengthAdjust="spacingAndGlyphs">L.monocytogenes_1639_se161</text>
<text transform="translate(1927.4,3490.9) rotate(70.7)" y="1.4" textLength="88" lengthAdjust="spacingAndGlyphs">L.monocytogenes_serotype_4b_str_F2193_266351</text>
<text transform="translate(1918.2,3494.1) rotate(71.9)" y="1.4" textLength="50" lengthAdjust="spacingAndGlyphs">L.monocytogenes_1639_se163</text>
<text transform="translate(1908.9,3497) rotate(73)" y="1.4" textLength="89" lengthAdjust="spacingAndGlyphs">L.monocytogenes_serotype_4b_str_F2195_266365</text>
<text transform="translate(1899.5,3499.8) rotate(74.2)" y="1.4" textLength="89" lengthAdjust="spacingAndGlyphs">L.monocytogenes_serotype_4b_str_F2196_266372</text>
<text transform="translate(1890.1,3502.3) rotate(75.3)" y="1.4" textLength="89" lengthAdjust="spacingAndGlyphs">L.monocytogenes_serotype_4b_str_F2197_266379</text>
<text transform="translate(1880.6,3504.7) rotate(76.5)" y="1.4" textLength="89" lengthAdjust="spacingAndGlyphs">L.monocytogenes_serotype_4b_str_F2198_266386</text>
<text transform="translate(1871.1,3506.9) rotate(77.6)" y="1.4" textLength="89" lengthAdjust="spacingAndGlyphs">L.monocytogenes_serotype_4b_str_F2199_266393</text>
<text transform="translate(1861.6,3508.9) rotate(78.8)" y="1.4" textLength="89" lengthAdjust="spacingAndGlyphs">L.monocytogenes_serotype_4b_str_F2200_266400</text>
<text transform="translate(1852,3510.7) rotate(79.9)" y="1.4" textLength="89" lengthAdjust="spacingAndGlyphs">L.monocytogenes_serotype_4b_str_F2201_266407</text>
<text transform="translate(1842.3,3512.3) rotate(81)" y="1.4" textLength="89" lengthAdjust="spacingAndGlyphs">L.monocytogenes_serotype_4b_str_F2202_266414</text>
<text transform="translate(1832.7,3513.8) rotate(82.2)" y="1.4" textLength="89" lengthAdjust="spacingAndGlyphs">L.monocytogenes_serotype_4b_str_F2203_266421</text>
<text transform="translate(1823,3515) rotate(83.3)" y="1.4" textLength="89" lengthAdjust="spacingAndGlyphs">L.monocytogenes_serotype_4b_str_F2204_266428</text>
<text transform="translate(1813.3,3516) rotate(84.5)" y="1.4" textLength="89" lengthAdjust="spacingAndGlyphs">L.monocytogenes_serotype_4b_str_F2205_266435</text>
<text transform="translate(1803.6,3516.9) rotate(85.6)" y="1.4" textLength="89" lengthAdjust="spacingAndGlyphs">L.monocytogenes_serotype_4b_str_F2206_266442</text>
<text transform="translate(1793.8,3517.5) rotate(86.8)" y="1.4" textLength="100" lengthAdjust="spacingAndGlyphs">L.monocytogenes_serotype_1_2a_str_08_5621_639277</text>
<text transform="translate(1784.1,3518) rotate(87.9)" y="1.4" textLength="100" lengthAdjust="spacingAndGlyphs">L.monocytogenes_serotype_1_2a_str_08_5624_639288</text>
<text transform="translate(1774.3,3518.2) rotate(89)" y="1.4" textLength="100" lengthAdjust="spacingAndGlyphs">L.monocytogenes_serotype_1_2a_str_08_5627_639299</text>
<text transform="translate(1764.6,3518.3) rotate(-89.8)" text-anchor="end" y="1.4" textLength="54.5" lengthAdjust="spacingAndGlyphs">L.monocytogenes_1639_se1210</text>
<text transform="translate(1754.8,3518.2) rotate(-88.7)" text-anchor="end" y="1.4" textLength="54.5" lengthAdjust="spacingAndGlyphs">L.monocytogenes_1639_se1211</text>
<text transform="translate(1745,3517.8) rotate(-87.5)" text-anchor="end" y="1.4" textLength="54.5" lengthAdjust="spacingAndGlyphs">L.monocytogenes_1639_se1212</text>
<text transform="translate(1735.3,3517.3) rotate(-86.4)" text-anchor="end" y="1.4" textLength="64" lengthAdjust="spacingAndGlyphs">L.monocytogenes_EGD_e_169213</text>
<text transform="translate(1725.5,3516.6) rotate(-85.2)" text-anchor="end" y="1.4" textLength="64" lengthAdjust="spacingAndGlyphs">L.monocytogenes_EGD_e_169214</text>
<text transform="translate(1715.8,3515.7) rotate(-84.1)" text-anchor="end" y="1.4" textLength="54.5" lengthAdjust="spacingAndGlyphs">L.monocytogenes_1639_se1215</text>
<text transform="translate(1706.1,3514.6) rotate(-82.9)" text-anchor="end" y="1.4" textLength="54.5" lengthAdjust="spacingAndGlyphs">L.monocytogenes_1639_se1216</text>
<text transform="translate(1696.5,3513.3) rotate(-81.8)" text-anchor="end" y="1.4" textLength="54.5" lengthAdjust="spacingAndGlyphs">L.monocytogenes_1639_se1217</text>
<text transform="translate(1686.8,3511.8) rotate(-80.7)" text-anchor="end" y="1.4" textLength="54.5" lengthAdjust="spacingAndGlyphs">L.monocytogenes_1639_se1218</text>
<text transform="translate(1677.2,3510.1) rotate(-79.5)" text-anchor="end" y="1.4" textLength="54.5" lengthAdjust="spacingAndGlyphs">L.monocytogenes_1639_se1219</text>
<text transform="translate(1667.6,3508.3) rotate(-78.4)" text-anchor="end" y="1.4" textLength="54.5" lengthAdjust="spacingAndGlyphs">L.monocytogenes_1639_se1220</text>
<text transform="translate(1658.1,3506.2) rotate(-77.2)" text-anchor="end" y="1.4" textLength="54.5" lengthAdjust="spacingAndGlyphs">L.monocytogenes_1639_se1221</text>
<text transform="translate(1648.6,3503.9) rotate(-76.1)" text-anchor="end" y="1.4" textLength="69" lengthAdjust="spacingAndGlyphs">L.monocytogenes_ATCC_19222_393322</text>
<text transform="translate(1639.1,3501.5) rotate(-74.9)" text-anchor="end" y="1.4" textLength="54.5" lengthAdjust="spacingAndGlyphs">L.monocytogenes_1639_se1223</text>
<text transform="translate(1629.7,3498.9) rotate(-73.8)" text-anchor="end" y="1.4" textLength="54.5" lengthAdjust="spacingAndGlyphs">L.monocytogenes_1639_se1224</text>
<text transform="translate(1620.4,3496) rotate(-72.6)" text-anchor="end" y="1.4" textLength="99" lengthAdjust="spacingAndGlyphs">L.monocytogenes_serotype_1_2a_str_08_5675_639475</text>
<text transform="translate(1611.1,3493) rotate(-71.5)" text-anchor="end" y="1.4" textLength="99" lengthAdjust="spacingAndGlyphs">L.monocytogenes_serotype_1_2a_str_08_5678_639486</text>
<text transform="translate(1601.8,3489.9) rotate(-70.4)" text-anchor="end" y="1.4" textLength="97" lengthAdjust="spacingAndGlyphs">L.monocytogenes_serotype_1_2a_str_08_5681_639497</text>
<text transform="translate(1592.7,3486.5) rotate(-69.2)" text-anchor="end" y="1.4" textLength="54.5" lengthAdjust="spacingAndGlyphs">L.monocytogenes_1639_se1228</text>
<text transform="translate(1583.6,3482.9) rotate(-68.1)" text-anchor="end" y="1.4" textLength="64" lengthAdjust="spacingAndGlyphs">L.monocytogenes_EGD_e_169229</text>
<text transform="translate(1574.6,3479.2) rotate(-66.9)" text-anchor="end" y="1.4" textLength="54.5" lengthAdjust="spacingAndGlyphs">L.monocytogenes_1639_se1230</text>
<text transform="translate(1565.6,3475.3) rotate(-65.8)" text-anchor="end" y="1.4" textLength="54.5" lengthAdjust="spacingAndGlyphs">L.monocytogenes_1639_se1231</text>
<text transform="translate(1556.8,3471.2) rotate(-64.6)" text-anchor="end" y="1.4" textLength="54.5" lengthAdjust="spacingAndGlyphs">L.monocytogenes_1639_se1232</text>
<text transform="translate(1548,3466.9) rotate(-63.5)" text-anchor="end" y="1.4" textLength="54.5" lengthAdjust="spacingAndGlyphs">L.monocytogenes_1639_se1233</text>
<text transform="translate(1539.3,3462.5) rotate(-62.4)" text-anchor="end" y="1.4" textLength="54.5" lengthAdjust="spacingAndGlyphs">L.monocytogenes_1639_se1234</text>
<text transform="translate(1530.7,3457.9) rotate(-61.2)" text-anchor="end" y="1.4" textLength="54.5" lengthAdjust="spacingAndGlyphs">L.monocytogenes_1639_se1235</text>
<text transform="translate(1522.2,3453.1) rotate(-60.1)" text-anchor="end" y="1.4" textLength="54.5" lengthAdjust="spacingAndGlyphs">L.monocytogenes_1639_se1236</text>
<text transform="translate(1513.8,3448.1) rotate(-58.9)" text-anchor="end" y="1.4" textLength="54.5" lengthAdjust="spacingAndGlyphs">L.monocytogenes_1639_se1237</text>
<text transform="translate(1505.5,3443) rotate(-57.8)" text-anchor="end" y="1.4" textLength="54.5" lengthAdjust="spacingAndGlyphs">L.monocytogenes_1639_se1238</text>
<text transform="translate(1497.3,3437.7) rotate(-56.6)" text-anchor="end" y="1.4" textLength="99" lengthAdjust="spacingAndGlyphs">L.monocytogenes_serotype_1_2a_str_08_5717_639629</text>
<text transform="translate(1489.2,3432.2) rotate(-55.5)" text-anchor="end" y="1.4" textLength="100" lengthAdjust="spacingAndGlyphs">L.monocytogenes_serotype_1_2a_str_08_5720_639640</text>
<text transform="translate(1481.2,3426.6) rotate(-54.3)" text-anchor="end" y="1.4" textLength="54.5" lengthAdjust="spacingAndGlyphs">L.monocytogenes_1639_se1241</text>
<text transform="translate(1473.3,3420.9) rotate(-53.2)" text-anchor="end" y="1.4" textLength="54.5" lengthAdjust="spacingAndGlyphs">L.monocytogenes_1639_se1242</text>
<text transform="translate(1465.5,3414.9) rotate(-52.1)" text-anchor="end" y="1.4" textLength="54.5" lengthAdjust="spacingAndGlyphs">L.monocytogenes_1639_se1243</text>
<text transform="translate(1457.9,3408.9) rotate(-50.9)" text-anchor="end" y="1.4" textLength="54.5" lengthAdjust="spacingAndGlyphs">L.monocytogenes_1639_se1244</text>
<text transform="translate(1450.4,3402.6) rotate(-49.8)" text-anchor="end" y="1.4" textLength="54.5" lengthAdjust="spacingAndGlyphs">L.monocytogenes_1639_se1245</text>
<text transform="translate(1443,3396.3) rotate(-48.6)" text-anchor="end" y="1.4" textLength="54.5" lengthAdjust="spacingAndGlyphs">L.monocytogenes_1639_se1246</text>
<text transform="translate(1435.7,3389.7) rotate(-47.5)" text-anchor="end" y="1.4" textLength="69" lengthAdjust="spacingAndGlyphs">L.monocytogenes_ATCC_19247_393347</text>
<text transform="translate(1428.6,3383.1) rotate(-46.3)" text-anchor="end" y="1.4" textLength="73" lengthAdjust="spacingAndGlyphs">L.monocytogenes_ATCC_19248_393348</text>
<text transform="translate(1421.6,3376.2) rotate(-45.2)" text-anchor="end" y="1.4" textLength="55.5" lengthAdjust="spacingAndGlyphs">L.monocytogenes_1639_se1249</text>
<text transform="translate(1414.7,3369.3) rotate(-44.1)" text-anchor="end" y="1.4" textLength="60" lengthAdjust="spacingAndGlyphs">L.monocytogenes_EGD_e_169250</text>
<text transform="translate(1408,3362.2) rotate(-42.9)" text-anchor="end" y="1.4" textLength="55.5" lengthAdjust="spacingAndGlyphs">L.monocytogenes_1639_se1251</text>
<text transform="translate(1401.5,3355) rotate(-41.8)" text-anchor="end" y="1.4" textLength="55.5" lengthAdjust="spacingAndGlyphs">L.monocytogenes_1639_se1252</text>
<text transform="translate(1395,3347.7) rotate(-40.6)" text-anchor="end" y="1.4" textLength="55.5" lengthAdjust="spacingAndGlyphs">L.monocytogenes_1639_se1253</text>
<text transform="translate(1388.7,3340.2) rotate(-39.5)" text-anchor="end" y="1.4" textLength="55.5" lengthAdjust="spacingAndGlyphs">L.monocytogenes_1639_se1254</text>
<text transform="translate(1382.6,3332.6) rotate(-38.3)" text-anchor="end" y="1.4" textLength="55.5" lengthAdjust="spacingAndGlyphs">L.monocytogenes_1639_se1255</text>
<text transform="translate(1376.6,3324.9) rotate(-37.2)" text-anchor="end" y="1.4" textLength="55.5" lengthAdjust="spacingAndGlyphs">L.monocytogenes_1639_se1256</text>
<text transform="translate(1370.8,3317) rotate(-36)" text-anchor="end" y="1.4" textLength="55.5" lengthAdjust="spacingAndGlyphs">L.monocytogenes_1639_se1257</text>
<text transform="translate(1365.1,3309.1) rotate(-34.9)" text-anchor="end" y="1.4" textLength="55.5" lengthAdjust="spacingAndGlyphs">L.monocytogenes_1639_se1258</text>
<text transform="translate(1359.6,3301) rotate(-33.8)" text-anchor="end" y="1.4" textLength="55.5" lengthAdjust="spacingAndGlyphs">L.monocytogenes_1639_se1259</text>
<text transform="translate(1354.3,3292.8) rotate(-32.6)" text-anchor="end" y="1.4" textLength="55.5" lengthAdjust="spacingAndGlyphs">L.monocytogenes_1639_se1260</text>
<text transform="translate(1349.1,3284.6) rotate(-31.5)" text-anchor="end" y="1.4" textLength="55.5" lengthAdjust="spacingAndGlyphs">L.monocytogenes_1639_se1261</text>
<text transform="translate(1344.1,3276.2) rotate(-30.3)" text-anchor="end" y="1.4" textLength="55.5" lengthAdjust="spacingAndGlyphs">L.monocytogenes_1639_se1262</text>
<text transform="translate(1339.3,3267.7) rotate(-29.2)" text-anchor="end" y="1.4" textLength="64" lengthAdjust="spacingAndGlyphs">L.monocytogenes_EGD_e_169263</text>
<text transform="translate(1334.6,3259.1) rotate(-28)" text-anchor="end" y="1.4" textLength="55.5" lengthAdjust="spacingAndGlyphs">L.monocytogenes_1639_se1264</text>
<text transform="translate(1330.1,3250.5) rotate(-26.9)" text-anchor="end" y="1.4" textLength="55.5" lengthAdjust="spacingAndGlyphs">L.monocytogenes_1639_se1265</text>
<text transform="translate(1325.8,3241.7) rotate(-25.7)" text-anchor="end" y="1.4" textLength="61" lengthAdjust="spacingAndGlyphs">L.monocytogenes_EGD_e_169266</text>
<text transform="translate(1321.6,3232.9) rotate(-24.6)" text-anchor="end" y="1.4" textLength="55.5" lengthAdjust="spacingAndGlyphs">L.monocytogenes_1639_se1267</text>
<text transform="translate(1317.6,3224) rotate(-23.5)" text-anchor="end" y="1.4" textLength="61" lengthAdjust="spacingAndGlyphs">L.monocytogenes_EGD_e_169268</text>
<text transform="translate(1313.8,3215) rotate(-22.3)" text-anchor="end" y="1.4" textLength="55.5" lengthAdjust="spacingAndGlyphs">L.monocytogenes_1639_se1269</text>
<text transform="translate(1310.2,3205.9) rotate(-21.2)" text-anchor="end" y="1.4" textLength="55.5" lengthAdjust="spacingAndGlyphs">L.monocytogenes_1639_se1270</text>
<text transform="translate(1306.8,3196.8) rotate(-20)" text-anchor="end" y="1.4" textLength="55.5" lengthAdjust="spacingAndGlyphs">L.monocytogenes_1639_se1271</text>
<text transform="translate(1303.5,3187.6) rotate(-18.9)" text-anchor="end" y="1.4" textLength="55.5" lengthAdjust="spacingAndGlyphs">L.monocytogenes_1639_se1272</text>
<text transform="translate(1300.5,3178.3) rotate(-17.7)" text-anchor="end" y="1.4" textLength="55.5" lengthAdjust="spacingAndGlyphs">L.monocytogenes_1639_se1273</text>
<text transform="translate(1297.6,3169) rotate(-16.6)" text-anchor="end" y="1.4" textLength="55.5" lengthAdjust="spacingAndGlyphs">L.monocytogenes_1639_se1274</text>
<text transform="translate(1294.9,3159.6) rotate(-15.5)" text-anchor="end" y="1.4" textLength="55.5" lengthAdjust="spacingAndGlyphs">L.monocytogenes_1639_se1275</text>
<text transform="translate(1292.4,3150.2) rotate(-14.3)" text-anchor="end" y="1.4" textLength="55.5" lengthAdjust="spacingAndGlyphs">L.monocytogenes_1639_se1276</text>
<text transform="translate(1290.1,3140.7) rotate(-13.2)" text-anchor="end" y="1.4" textLength="55.5" lengthAdjust="spacingAndGlyphs">L.monocytogenes_1639_se1277</text>
<text transform="translate(1287.9,3131.1) rotate(-12)" text-anchor="end" y="1.4" textLength="55.5" lengthAdjust="spacingAndGlyphs">L.monocytogenes_1639_se1278</text>
<text transform="translate(1286,3121.6) rotate(-10.9)" text-anchor="end" y="1.4" textLength="55.5" lengthAdjust="spacingAndGlyphs">L.monocytogenes_1639_se1279</text>
<text transform="translate(1284.2,3112) rotate(-9.7)" text-anchor="end" y="1.4" textLength="55.5" lengthAdjust="spacingAndGlyphs">L.monocytogenes_1639_se1280</text>
<text transform="translate(1282.7,3102.3) rotate(-8.6)" text-anchor="end" y="1.4" textLength="55.5" lengthAdjust="spacingAndGlyphs">L.monocytogenes_1639_se1281</text>
<text transform="translate(1281.3,3092.7) rotate(-7.4)" text-anchor="end" y="1.4" textLength="55.5" lengthAdjust="spacingAndGlyphs">L.monocytogenes_1639_se1282</text>
<text transform="translate(1280.2,3083) rotate(-6.3)" text-anchor="end" y="1.4" textLength="55.5" lengthAdjust="spacingAndGlyphs">L.monocytogenes_1639_se1283</text>
<text transform="translate(1279.2,3073.3) rotate(-5.2)" text-anchor="end" y="1.4" textLength="64" lengthAdjust="spacingAndGlyphs">L.monocytogenes_EGD_e_169284</text>
<text transform="translate(1278.4,3063.5) rotate(-4)" text-anchor="end" y="1.4" textLength="72" lengthAdjust="spacingAndGlyphs">L.monocytogenes_ATCC_19285_393385</text>
<text transform="translate(1277.8,3053.8) rotate(-2.9)" text-anchor="end" y="1.4" textLength="55.5" lengthAdjust="spacingAndGlyphs">L.monocytogenes_1639_se1286</text>
<text transform="translate(1277.4,3044) rotate(-1.7)" text-anchor="end" y="1.4" textLength="55.5" lengthAdjust="spacingAndGlyphs">L.monocytogenes_1639_se1287</text>
<text transform="translate(1277.2,3034.3) rotate(-0.6)" text-anchor="end" y="1.4" textLength="73" lengthAdjust="spacingAndGlyphs">L.monocytogenes_ATCC_19288_393388</text>
<text transform="translate(1277.2,3024.5) rotate(0.6)" text-anchor="end" y="1.4" textLength="55.5" lengthAdjust="spacingAndGlyphs">L.monocytogenes_1639_se1289</text>
<text transform="translate(1277.4,3014.7) rotate(1.7)" text-anchor="end" y="1.4" textLength="74" lengthAdjust="spacingAndGlyphs">L.monocytogenes_ATCC_19290_393390</text>
<text transform="translate(1277.8,3005) rotate(2.8)" text-anchor="end" y="1.4" textLength="55.5" lengthAdjust="spacingAndGlyphs">L.monocytogenes_1639_se1291</text>
<text transform="translate(1278.4,2995.2) rotate(4)" text-anchor="end" y="1.4" textLength="98" lengthAdjust="spacingAndGlyphs">L.monocytogenes_serotype_1_2a_str_08_5876_640212</text>
<text transform="translate(1279.2,2985.5) rotate(5.1)" text-anchor="end" y="1.4" textLength="103" lengthAdjust="spacingAndGlyphs">L.monocytogenes_serotype_1_2a_str_08_5879_640223</text>
<text transform="translate(1280.1,2975.8) rotate(6.3)" text-anchor="end" y="1.4" textLength="103" lengthAdjust="spacingAndGlyphs">L.monocytogenes_serotype_1_2a_str_08_5882_640234</text>
<text transform="translate(1281.3,2966.1) rotate(7.4)" text-anchor="end" y="1.4" textLength="73" lengthAdjust="spacingAndGlyphs">L.monocytogenes_ATCC_19295_393395</text>
<text transform="translate(1282.7,2956.4) rotate(8.6)" text-anchor="end" y="1.4" textLength="55.5" lengthAdjust="spacingAndGlyphs">L.monocytogenes_1639_se1296</text>
<text transform="translate(1284.2,2946.8) rotate(9.7)" text-anchor="end" y="1.4" textLength="61" lengthAdjust="spacingAndGlyphs">L.monocytogenes_EGD_e_169297</text>
<text transform="translate(1286,2937.2) rotate(10.9)" text-anchor="end" y="1.4" textLength="55.5" lengthAdjust="spacingAndGlyphs">L.monocytogenes_1639_se1298</text>
<text transform="translate(1287.9,2927.6) rotate(12)" text-anchor="end" y="1.4" textLength="55.5" lengthAdjust="spacingAndGlyphs">L.monocytogenes_1639_se1299</text>
<text transform="translate(1290,2918.1) rotate(13.1)" text-anchor="end" y="1.4" textLength="55.5" lengthAdjust="spacingAndGlyphs">L.monocytogenes_1639_se1300</text>
<text transform="translate(1292.3,2908.6) rotate(14.3)" text-anchor="end" y="1.4" textLength="55.5" lengthAdjust="spacingAndGlyphs">L.monocytogenes_1639_se1301</text>
<text transform="translate(1294.8,2899.2) rotate(15.4)" text-anchor="end" y="1.4" textLength="55.5" lengthAdjust="spacingAndGlyphs">L.monocytogenes_1639_se1302</text>
<text transform="translate(1297.5,2889.8) rotate(16.6)" text-anchor="end" y="1.4" textLength="55.5" lengthAdjust="spacingAndGlyphs">L.monocytogenes_1639_se1303</text>
<text transform="translate(1300.4,2880.5) rotate(17.7)" text-anchor="end" y="1.4" textLength="55.5" lengthAdjust="spacingAndGlyphs">L.monocytogenes_1639_se1304</text>
<text transform="translate(1303.5,2871.2) rotate(18.9)" text-anchor="end" y="1.4" textLength="55.5" lengthAdjust="spacingAndGlyphs">L.monocytogenes_1639_se1305</text>
<text transform="translate(1306.7,2862) rotate(20)" text-anchor="end" y="1.4" textLength="55.5" lengthAdjust="spacingAndGlyphs">L.monocytogenes_1639_se1306</text>
</g>
<path d="M1766.2 3029.3L1615.4 2897.9M1594.9 2926A200 200 0 0 1 1640.3 2873.9M1594.9 2926L1421.1 2821.1M1417.1 2828A403 403 0 0 1 1429.8 2807.4M1417.1 2828L1414.5 2826.5M1421.2 2821L1416.9 2818.5M1425.4 2814.2L1423.3 2812.9M1429.8 2807.4L1426.4 2805.2M1640.3 2873.9L1514.5 2718.4M1458.2 2774.1A400 400 0 0 1 1581.5 2674.5M1458.2 2774.1L1440.5 2759.4M1422.7 2782.5A423 423 0 0 1 1459.4 2738.1M1422.7 2782.5L1402.4 2767.9M1397.2 2775.2A448 448 0 0 1 1418.6 2746.6M1397.2 2775.2L1393.9 2773M1402.3 2767.9L1400.3 2766.5M1407.6 2760.7L1403.6 2757.7M1413.1 2753.6L1410.7 2751.8M1418.6 2746.6L1415.5 2744.1M1459.4 2738.1L1446.3 2725.7M1435.4 2737.7A441 441 0 0 1 1462.6 2709.4M1435.4 2737.7L1420.4 2724.4M1414.4 2731.3A461 461 0 0 1 1432.9 2710.8M1414.4 2731.3L1412.1 2729.4M1420.5 2724.4L1419 2723M1426.6 2717.5L1423.7 2714.8M1432.9 2710.8L1431.1 2709.1M1462.6 2709.4L1449.6 2695.6M1440 2704.9A460 460 0 0 1 1474 2674M1440 2704.9L1437.9 2702.8M1446.6 2698.5L1443.8 2695.6M1453.2 2692.2L1451.5 2690.3M1460 2686L1457 2682.6M1467 2679.9L1465 2677.7M1474 2674L1470.8 2670.2M1581.5 2674.5L1571.8 2655.9M1508.7 2696.2A421 421 0 0 1 1641 2627.3M1508.7 2696.2L1487.3 2668.5M1483.6 2671.4A456 456 0 0 1 1490.8 2665.8M1483.6 2671.4L1481.8 2669.1M1490.8 2665.8L1489.3 2663.8M1641 2627.3L1637.9 2617.3M1521.2 2674.1A431.5 431.5 0 0 1 1766.2 2597.8M1521.2 2674.1L1506.7 2653.1M1497.5 2659.6A457 457 0 0 1 1510.2 2650.7M1497.5 2659.6L1495.8 2657.2M1510.2 2650.7L1508 2647.4M1502.7 2651A461 461 0 0 1 1549.8 2622.3M1508.9 2643.8A463.5 463.5 0 0 1 1548.6 2620M1523.5 2632.1A465.5 465.5 0 0 1 1547.7 2618.3M1502.7 2651L1501.5 2649.4M1510.3 2645.9L1508.1 2642.5M1518 2640.8L1515.3 2636.6M1525.8 2635.9L1522.4 2630.4M1533.7 2631.2L1530.7 2626M1541.7 2626.7L1538.3 2620.5M1549.8 2622.3L1546.5 2616.1M1766.2 2597.8L1766.2 2584.8M1571.7 2629.6A444.5 444.5 0 0 1 1961.8 2630.1M1571.7 2629.6L1563.6 2613M1557 2616.2A463 463 0 0 1 1573.7 2608.2M1557 2616.2L1555.7 2613.6M1565.3 2612.1L1564.5 2610.3M1573.7 2608.2L1572.5 2605.5M1961.8 2630.1L1966.6 2620.2M1616.4 2599A455.6 455.6 0 0 1 2197 2881M2197 2881L2204 2878.6M1837 2571.8A463 463 0 0 1 2126 3320.7M2126 3320.7L2128.7 3322.9M1999.5 2625.3A466.5 466.5 0 0 1 1871.1 3483.8M1871.1 3483.8L1871.9 3487.3M2207.9 3190A470 470 0 0 1 1406.2 3331.4M1406.2 3331.4L1401.6 3335.3M1724.7 3503.5A476 476 0 0 1 1292 2987.8M1616.4 2599L1614.9 2594.9M1588.7 2604.9A460 460 0 0 1 1644 2585.8M1837 2571.8L1837.6 2567.8M1999.5 2625.3L2000.7 2623.1M2207.9 3190L2210.7 3191.1M1724.7 3503.5L1724.5 3506.5M1292 2987.8L1287 2987.4" fill="none" stroke="#000" stroke-width="1.5" stroke-linejoin="miter"/>
<path d="M1581.1 2602.1A465.5 465.5 0 0 1 1624.6 2585.8M1581.1 2602.1L1580.2 2599.8M1589.7 2598.5L1589.1 2597M1598.3 2595.1L1597.1 2591.8M1607 2591.8L1606.5 2590.2M1615.8 2588.7L1614.9 2585.9M1624.6 2585.8L1623.5 2582.2M1580.7 2601.1A466.6 466.6 0 0 1 1624.3 2584.8M1588.9 2596.5A467.7 467.7 0 0 1 1624 2583.7M1597.2 2592.1A468.7 468.7 0 0 1 1623.7 2582.8M1633 2581.4A467.2 467.2 0 0 1 1696.7 2567.3M1633 2581.4L1632.5 2579.8M1642 2578.9L1641.3 2576.4M1651 2576.5L1650.3 2573.6M1660.1 2574.3L1659.7 2572.5M1669.2 2572.2L1668.8 2570.2M1678.3 2570.4L1677.8 2567.5M1687.5 2568.7L1687 2565.8M1696.7 2567.3L1696.3 2564.4M1641.7 2577.8A468.3 468.3 0 0 1 1696.6 2566.2M1641.4 2576.7A469.4 469.4 0 0 1 1696.4 2565.1M1706.1 2566.7A466.5 466.5 0 0 1 1715.3 2565.6M1706.1 2566.7L1705.8 2564.9M1715.3 2565.6L1715 2563.1M1705.9 2565.6A467.6 467.6 0 0 1 1715.2 2564.5M1724.5 2563.8A467.3 467.3 0 0 1 1743.1 2562.6M1724.5 2563.8L1724.2 2560.9M1733.8 2563.1L1733.7 2561.1M1743.1 2562.6L1743 2560.8M1724.4 2562.8A468.4 468.4 0 0 1 1743.1 2561.5M1733.6 2560.9A469.5 469.5 0 0 1 1743 2560.4M1752.5 2563.1A466.4 466.4 0 0 1 1836 2568.2M1752.5 2563.1L1752.4 2560.5M1761.8 2562.9L1761.7 2560.6M1771.1 2562.9L1771.1 2560M1780.4 2563.1L1780.5 2560.5M1789.7 2563.5L1789.8 2561.3M1799 2564.1L1799.2 2560.6M1808.3 2564.8L1808.6 2561.6M1817.5 2565.7L1817.8 2563.6M1826.8 2566.9L1827.2 2563.9M1836 2568.2L1836.4 2565.4M1761.8 2561.8A467.5 467.5 0 0 1 1836.2 2567.1M1761.7 2560.7A468.6 468.6 0 0 1 1827.1 2564.7M1771.1 2559.7A469.6 469.6 0 0 1 1836.5 2565M1845.4 2568.5A467.5 467.5 0 0 1 1863.7 2572.1M1845.4 2568.5L1845.8 2566M1854.6 2570.2L1855.1 2567.3M1863.7 2572.1L1864.1 2570.2M1854.8 2569.1A468.6 468.6 0 0 1 1863.9 2571M1855 2568A469.7 469.7 0 0 1 1855 2568M1872.6 2575.2A466.4 466.4 0 0 1 1890.6 2579.8M1872.6 2575.2L1873.2 2572.3M1881.6 2577.4L1882.5 2573.8M1890.6 2579.8L1891.2 2577.6M1881.9 2576.3A467.5 467.5 0 0 1 1890.9 2578.7M1882.1 2575.3A468.6 468.6 0 0 1 1882.1 2575.3M1899.9 2581.1A467.7 467.7 0 0 1 1977.9 2612.2M1899.9 2581.1L1900.4 2579.4M1908.9 2583.8L1909.5 2581.8M1917.7 2586.8L1918.7 2584M1926.5 2589.9L1927.1 2588.3M1935.3 2593.2L1936.3 2590.5M1943.9 2596.6L1944.8 2594.5M1952.5 2600.3L1953.7 2597.6M1961.1 2604.1L1962.3 2601.4M1969.5 2608.1L1970.7 2605.7M1977.9 2612.2L1979.2 2609.6M1909.2 2582.8A468.8 468.8 0 0 1 1978.4 2611.2M1909.5 2581.8A469.9 469.9 0 0 1 1978.9 2610.2M1986.1 2616.6A467.7 467.7 0 0 1 2026.2 2640.5M1986.1 2616.6L1987 2615M1994.3 2621L1995.1 2619.6M2002.4 2625.7L2004 2623M2010.5 2630.5L2011.4 2628.9M2018.4 2635.4L2019.5 2633.6M2026.2 2640.5L2027.6 2638.5M1994.9 2620.1A468.8 468.8 0 0 1 2026.8 2639.6M1995.4 2619.1A469.9 469.9 0 0 1 2027.4 2638.7M2004.1 2622.9A470.9 470.9 0 0 1 2028 2637.9M2033.6 2646.3A467.1 467.1 0 0 1 2084.3 2687.3M2033.6 2646.3L2035.7 2643.3M2041.1 2651.7L2043.2 2648.8M2048.6 2657.3L2050.8 2654.4M2056 2663L2057.4 2661.3M2063.3 2668.8L2064.9 2666.9M2070.4 2674.8L2072 2673M2077.4 2681L2079.9 2678.2M2084.3 2687.3L2086.9 2684.5M2034.2 2645.4A468.2 468.2 0 0 1 2085 2686.5M2042.4 2649.9A469.3 469.3 0 0 1 2085.8 2685.7M2050.6 2654.7A470.3 470.3 0 0 1 2086.5 2684.9M2091 2693.8A467 467 0 0 1 2110.5 2713.8M2091 2693.8L2092.1 2692.7M2097.6 2700.3L2100.2 2697.8M2104.1 2707L2105.5 2705.6M2110.5 2713.8L2112.1 2712.3M2091.8 2693A468.1 468.1 0 0 1 2111.3 2713.1M2099.2 2698.8A469.2 469.2 0 0 1 2105.7 2705.5M2106.4 2704.8A470.2 470.2 0 0 1 2112.8 2711.6M2116.4 2721A466.5 466.5 0 0 1 2145.4 2757.5M2116.4 2721L2118.8 2718.9M2122.5 2728.1L2124.6 2726.3M2128.4 2735.3L2130.8 2733.4M2134.2 2742.6L2136.7 2740.6M2139.8 2750L2141.2 2749M2145.4 2757.5L2148.4 2755.3M2123.3 2727.4A467.6 467.6 0 0 1 2146.2 2756.8M2124.1 2726.7A468.7 468.7 0 0 1 2141.6 2748.6M2130.9 2733.3A469.7 469.7 0 0 1 2148 2755.6M2151.5 2764.6A467.4 467.4 0 0 1 2161.7 2780.2M2151.5 2764.6L2153.5 2763.2M2156.7 2772.3L2158.3 2771.2M2161.7 2780.2L2164.8 2778.2M2157.6 2771.7A468.5 468.5 0 0 1 2162.6 2779.6M2158.5 2771.1A469.6 469.6 0 0 1 2163.6 2779M2167.2 2787.8A468.2 468.2 0 0 1 2172 2795.8M2167.2 2787.8L2169.7 2786.2M2172 2795.8L2174.4 2794.4M2172.9 2795.3A469.3 469.3 0 0 1 2172.9 2795.3M2175.4 2804.6A466.8 466.8 0 0 1 2184 2821.1M2175.4 2804.6L2178 2803.1M2179.8 2812.8L2181.4 2812M2184 2821.1L2185.9 2820.2M2180.7 2812.3A467.9 467.9 0 0 1 2185 2820.6M2181.7 2811.8A469 469 0 0 1 2181.7 2811.8M2188.2 2829.5A466.9 466.9 0 0 1 2195.8 2846.5M2188.2 2829.5L2191.8 2827.8M2192.1 2837.9L2194.5 2836.8M2195.8 2846.5L2198.3 2845.4M2189.2 2829A468 468 0 0 1 2196.8 2846M2194.1 2837A469.1 469.1 0 0 1 2197.8 2845.6M2199.6 2855A467.1 467.1 0 0 1 2214.8 2899M2199.6 2855L2202.1 2854M2203 2863.7L2206 2862.5M2206.2 2872.4L2208.8 2871.5M2209.3 2881.2L2211.2 2880.6M2212.1 2890.1L2215.8 2889M2214.8 2899L2217.1 2898.4M2200.6 2854.6A468.2 468.2 0 0 1 2215.9 2898.7M2205.1 2862.9A469.3 469.3 0 0 1 2214.2 2889.5M2217.5 2908A467.3 467.3 0 0 1 2222 2926.1M2217.5 2908L2219.5 2907.4M2219.8 2917L2222.1 2916.4M2222 2926.1L2223.8 2925.7M2218.5 2907.7A468.4 468.4 0 0 1 2223 2925.9M2221.9 2916.5A469.5 469.5 0 0 1 2221.9 2916.5M2223.8 2935.2A467.1 467.1 0 0 1 2228.6 2962.8M2223.8 2935.2L2227.2 2934.5M2225.6 2944.4L2228.9 2943.8M2227.2 2953.6L2229.2 2953.3M2228.6 2962.8L2231.4 2962.4M2226.6 2944.2A468.2 468.2 0 0 1 2229.7 2962.6M2227.7 2944A469.3 469.3 0 0 1 2230.8 2962.5M2230.5 2972A467.8 467.8 0 0 1 2233.6 3009.2M2230.5 2972L2232.4 2971.7M2231.5 2981.2L2234.5 2980.9M2232.4 2990.5L2234.8 2990.4M2233.1 2999.9L2236.6 2999.6M2233.6 3009.2L2236.9 3009M2232.6 2981.1A468.9 468.9 0 0 1 2234.7 3009.1M2233.7 2981A470 470 0 0 1 2235.3 2999.7M2235.6 2990.3A471 471 0 0 1 2236.8 3009.1M2234.4 3018.5A468.4 468.4 0 0 1 2234.5 3037.2M2234.4 3018.5L2236.4 3018.5M2234.6 3027.9L2236.6 3027.9M2234.5 3037.2L2237.6 3037.3M2235.5 3018.5A469.5 469.5 0 0 1 2235.6 3037.2M2236.8 3027.9A470.6 470.6 0 0 1 2236.8 3027.9M2233.6 3046.5A467.7 467.7 0 0 1 2229.5 3093M2233.6 3046.5L2235.3 3046.6M2233.1 3055.9L2236.3 3056M2232.5 3065.2L2236.3 3065.5M2231.7 3074.5L2235.1 3074.8M2230.7 3083.8L2234 3084.2M2229.5 3093L2232.2 3093.4M2234.7 3046.6A468.8 468.8 0 0 1 2230.6 3093.2M2235.3 3056A469.9 469.9 0 0 1 2232.9 3084M2229.9 3102.5A469.4 469.4 0 0 1 2220.3 3148.4M2229.9 3102.5L2232.8 3103M2228.3 3111.8L2231.2 3112.3M2226.6 3121L2229.2 3121.5M2224.6 3130.2L2227.5 3130.8M2222.5 3139.3L2224.2 3139.7M2220.3 3148.4L2222.1 3148.9M2230.9 3102.7A470.5 470.5 0 0 1 2221.3 3148.7M2230.5 3112.2A471.6 471.6 0 0 1 2222.4 3148.9M2229.7 3121.6A472.6 472.6 0 0 1 2223.3 3149.2M2217.1 3157.2A468.7 468.7 0 0 1 2187 3235.8M2217.1 3157.2L2218.9 3157.7M2214.5 3166.2L2217.9 3167.2M2211.6 3175.1L2215.4 3176.4M2208.6 3184L2211.6 3185M2205.5 3192.8L2207.7 3193.6M2202.1 3201.5L2204.8 3202.6M2198.6 3210.2L2200.3 3210.9M2194.9 3218.8L2196.3 3219.4M2191 3227.3L2194.6 3229M2187 3235.8L2189.8 3237.1M2218.2 3157.5A469.8 469.8 0 0 1 2188 3236.2M2216.6 3166.8A470.9 470.9 0 0 1 2193 3228.2M2184.3 3244.9A470.4 470.4 0 0 1 2170.7 3269.6M2184.3 3244.9L2186.1 3245.8M2179.9 3253.2L2181.8 3254.2M2175.4 3261.4L2177.3 3262.5M2170.7 3269.6L2172.5 3270.6M2180.9 3253.7A471.5 471.5 0 0 1 2171.6 3270.1M2181.9 3254.3A472.6 472.6 0 0 1 2177.3 3262.5M2178.2 3263A473.6 473.6 0 0 1 2173.4 3271.2M2167.8 3278.8A472.8 472.8 0 0 1 2157.5 3294.6M2167.8 3278.8L2170.2 3280.3M2162.7 3286.8L2165.1 3288.3M2157.5 3294.6L2159.9 3296.3M2163.6 3287.4A473.9 473.9 0 0 1 2158.4 3295.2M2164.5 3288A475 475 0 0 1 2159.3 3295.9M2151.5 3301.9A472 472 0 0 1 2145.9 3309.6M2151.5 3301.9L2154.3 3303.9M2145.9 3309.6L2148.4 3311.4M2152.4 3302.6A473.1 473.1 0 0 1 2146.8 3310.2M2141.3 3317.9A473.2 473.2 0 0 1 2083.7 3380.2M2141.3 3317.9L2142.7 3319M2135.4 3325.3L2136.7 3326.3M2129.4 3332.6L2131.9 3334.7M2123.3 3339.8L2125.4 3341.6M2117 3346.9L2119.1 3348.7M2110.6 3353.8L2113.1 3356.2M2104.1 3360.6L2106.7 3363.2M2097.4 3367.3L2098.6 3368.5M2090.6 3373.8L2091.9 3375.3M2083.7 3380.2L2084.7 3381.4M2142.1 3318.5A474.3 474.3 0 0 1 2084.4 3381.1M2137.1 3326.7A475.4 475.4 0 0 1 2092.1 3375.4M2131.9 3334.6A476.4 476.4 0 0 1 2085.8 3382.6M2076.9 3386.9A473.8 473.8 0 0 1 2062.4 3399M2076.9 3386.9L2078.9 3389.2M2069.7 3393.1L2071.5 3395.2M2062.4 3399L2064.2 3401.2M2070.5 3393.9A474.9 474.9 0 0 1 2063.1 3399.9M2071.2 3394.7A476 476 0 0 1 2071.2 3394.7M2055.1 3405A473.9 473.9 0 0 1 1983.3 3450.6M2055.1 3405L2056.4 3406.7M2047.5 3410.7L2049.2 3412.9M2039.8 3416.2L2042 3419.2M2032.1 3421.6L2034.1 3424.7M2024.2 3426.8L2026.2 3429.9M2016.2 3431.9L2018.1 3435.1M2008.1 3436.8L2009.1 3438.5M1999.9 3441.6L2001.2 3443.8M1991.6 3446.1L1992.8 3448.4M1983.3 3450.6L1984.4 3452.8M2048.2 3411.6A475 475 0 0 1 1983.8 3451.5M2048.8 3412.4A476.1 476.1 0 0 1 1984.3 3452.5M1975.3 3455.8A475 475 0 0 1 1913.9 3480.8M1975.3 3455.8L1976.6 3458.4M1966.7 3459.9L1968 3462.6M1958.1 3463.8L1959.3 3466.5M1949.4 3467.6L1950.1 3469.3M1940.6 3471.1L1941.7 3473.9M1931.8 3474.5L1932.8 3477.3M1922.8 3477.7L1923.4 3479.5M1913.9 3480.8L1914.8 3483.6M1967.2 3460.9A476.1 476.1 0 0 1 1914.2 3481.8M1967.7 3461.9A477.2 477.2 0 0 1 1914.5 3482.9M1903.8 3480.3A471.5 471.5 0 0 1 1885.7 3485.4M1903.8 3480.3L1904.6 3482.9M1894.7 3482.9L1895.7 3486.3M1885.7 3485.4L1886.6 3488.8M1904.1 3481.3A472.6 472.6 0 0 1 1885.9 3486.5M1895.3 3485A473.7 473.7 0 0 1 1895.3 3485M1876.2 3486.3A470.1 470.1 0 0 1 1811.5 3497.2M1876.2 3486.3L1876.7 3488.3M1867.1 3488.4L1867.6 3490.7M1857.9 3490.4L1858.5 3493.6M1848.7 3492.1L1848.9 3493.6M1839.4 3493.7L1839.9 3496.5M1830.1 3495L1830.5 3497.6M1820.8 3496.2L1821 3497.7M1811.5 3497.2L1811.7 3499.5M1867.3 3489.5A471.2 471.2 0 0 1 1811.6 3498.3M1867.5 3490.6A472.3 472.3 0 0 1 1811.7 3499.4M1858.5 3493.5A473.3 473.3 0 0 1 1811.8 3500.4M1802 3496.9A469 469 0 0 1 1774 3498.2M1802 3496.9L1802.2 3498.6M1792.7 3497.5L1792.8 3499.7M1783.3 3497.9L1783.4 3499.5M1774 3498.2L1774 3501.6M1792.8 3498.6A470.1 470.1 0 0 1 1774 3499.3M1792.8 3499.7A471.2 471.2 0 0 1 1774 3500.4M1764.6 3501.1A471.8 471.8 0 0 1 1727 3499.4M1764.6 3501.1L1764.6 3503.9M1755.2 3500.9L1755.1 3503.7M1745.8 3500.6L1745.7 3503.4M1736.4 3500.1L1736.2 3502.4M1727 3499.4L1726.8 3501.6M1764.6 3502.2A472.9 472.9 0 0 1 1726.9 3500.5M1755.1 3503.1A474 474 0 0 1 1736.2 3502.3M1717 3504.8A478 478 0 0 1 1679.2 3499.3M1717 3504.8L1716.6 3507.9M1707.5 3503.7L1707 3507.2M1698 3502.4L1697.8 3504.1M1688.6 3501L1688 3504.6M1679.2 3499.3L1678.9 3501M1716.8 3505.9A479.1 479.1 0 0 1 1679 3500.4M1707.2 3505.9A480.2 480.2 0 0 1 1688.2 3503.2M1697.6 3505.6A481.2 481.2 0 0 1 1678.6 3502.5M1669.8 3497.6A478.2 478.2 0 0 1 1605.5 3479.6M1669.8 3497.6L1669.4 3499.8M1660.5 3495.6L1660.1 3497.4M1651.2 3493.4L1650.5 3496.1M1641.9 3491L1641.4 3493.1M1632.7 3488.5L1632.2 3490.2M1623.6 3485.7L1623 3487.5M1614.5 3482.8L1614 3484.3M1605.5 3479.6L1604.8 3481.5M1660.2 3496.7A479.3 479.3 0 0 1 1605.1 3480.7M1660 3497.8A480.4 480.4 0 0 1 1613.8 3484.8M1650.4 3496.5A481.4 481.4 0 0 1 1604.4 3482.7M1596.1 3477.5A479.4 479.4 0 0 1 1569.6 3466.5M1596.1 3477.5L1595.1 3480.1M1587.2 3474L1586.5 3475.8M1578.3 3470.4L1577.4 3472.5M1569.6 3466.5L1568.9 3467.9M1586.8 3475A480.5 480.5 0 0 1 1569.1 3467.5M1586.4 3476.1A481.6 481.6 0 0 1 1568.7 3468.5M1577.1 3473.3A482.6 482.6 0 0 1 1568.3 3469.4M1561 3462.2A479.1 479.1 0 0 1 1535.5 3449.1M1561 3462.2L1560.1 3464.1M1552.4 3458L1551.3 3460.4M1543.9 3453.7L1542.4 3456.5M1535.5 3449.1L1534 3451.9M1551.9 3459A480.2 480.2 0 0 1 1534.9 3450.1M1551.4 3460A481.3 481.3 0 0 1 1542.9 3455.6M1527.3 3444.3A478.8 478.8 0 0 1 1494.9 3423.9M1527.3 3444.3L1525.3 3447.7M1519 3439.4L1517.8 3441.4M1510.9 3434.4L1509 3437.4M1502.9 3429.2L1501.1 3431.9M1494.9 3423.9L1493.2 3426.4M1518.5 3440.3A479.9 479.9 0 0 1 1494.3 3424.8M1517.9 3441.3A481 481 0 0 1 1501.6 3431M1486.4 3419.4A480.1 480.1 0 0 1 1471 3407.9M1486.4 3419.4L1484.7 3421.7M1478.6 3413.7L1476.9 3416M1471 3407.9L1469.4 3410M1485.7 3420.3A481.2 481.2 0 0 1 1470.3 3408.8M1477.3 3415.5A482.3 482.3 0 0 1 1469.6 3409.7M1464.4 3400.8A478.7 478.7 0 0 1 1415.6 3355.2M1464.4 3400.8L1462.4 3403.3M1457.1 3394.7L1455.6 3396.4M1449.8 3388.5L1448.4 3390.1M1442.7 3382.1L1441.2 3383.8M1435.7 3375.6L1433.9 3377.5M1428.9 3368.9L1427.6 3370.3M1422.2 3362.1L1420.3 3363.9M1415.6 3355.2L1414 3356.6M1456.3 3395.6A479.8 479.8 0 0 1 1414.8 3355.9M1455.6 3396.4A480.9 480.9 0 0 1 1420.6 3363.6M1447.7 3390.9A481.9 481.9 0 0 1 1413.3 3357.4M1408.2 3349A479.9 479.9 0 0 1 1383.8 3319.4M1408.2 3349L1406.7 3350.3M1401.9 3341.8L1400.1 3343.3M1395.7 3334.4L1394.4 3335.5M1389.7 3327L1388 3328.3M1383.8 3319.4L1381.3 3321.3M1407.4 3349.7A481 481 0 0 1 1383 3320.1M1400.2 3343.2A482.1 482.1 0 0 1 1382.1 3320.7M1393.3 3336.5A483.1 483.1 0 0 1 1381.3 3321.3M1378 3311.8A480.1 480.1 0 0 1 1367 3296.1M1378 3311.8L1375.6 3313.6M1372.4 3304L1370.4 3305.4M1367 3296.1L1365.1 3297.3M1377.1 3312.5A481.2 481.2 0 0 1 1366.1 3296.7M1370.6 3305.3A482.3 482.3 0 0 1 1365.2 3297.3M1362.5 3287.6A479.3 479.3 0 0 1 1352.5 3271.3M1362.5 3287.6L1359.7 3289.4M1357.4 3279.5L1354.3 3281.4M1352.5 3271.3L1350.4 3272.5M1356.5 3280.1A480.4 480.4 0 0 1 1351.6 3271.8M1355.5 3280.6A481.5 481.5 0 0 1 1355.5 3280.6M1346.7 3263.5A480.4 480.4 0 0 1 1337.7 3246.6M1346.7 3263.5L1344.2 3264.9M1342.2 3255.1L1339.6 3256.5M1337.7 3246.6L1335.2 3247.9M1345.8 3264.1A481.5 481.5 0 0 1 1336.8 3247.1M1340.2 3256.1A482.6 482.6 0 0 1 1335.8 3247.6M1333.5 3238A480.4 480.4 0 0 1 1321.8 3211.7M1333.5 3238L1332 3238.7M1329.4 3229.3L1326.7 3230.5M1325.5 3220.6L1322.8 3221.7M1321.8 3211.7L1319.5 3212.6M1328.4 3229.8A481.5 481.5 0 0 1 1320.8 3212.1M1327.4 3230.2A482.6 482.6 0 0 1 1319.7 3212.6M1318.8 3202.6A479.7 479.7 0 0 1 1309.3 3175.5M1318.8 3202.6L1317.4 3203.1M1315.5 3193.6L1312.2 3194.8M1312.3 3184.6L1309.1 3185.7M1309.3 3175.5L1306.6 3176.3M1317.8 3203A480.8 480.8 0 0 1 1308.2 3175.8M1313.4 3194.4A481.9 481.9 0 0 1 1307.2 3176.2M1305.9 3166.5A480.3 480.3 0 0 1 1288.8 3082M1305.9 3166.5L1304.3 3167M1303.3 3157.3L1301.2 3157.8M1300.8 3148L1297.7 3148.8M1298.5 3138.7L1296.6 3139.1M1296.4 3129.3L1293.3 3130M1294.5 3119.9L1291.3 3120.5M1292.8 3110.5L1290.1 3111M1291.3 3101L1288.9 3101.4M1290 3091.5L1287.3 3091.9M1288.8 3082L1285.6 3082.4M1304.9 3166.8A481.4 481.4 0 0 1 1287.7 3082.1M1301.2 3157.9A482.5 482.5 0 0 1 1286.6 3082.3M1297.7 3148.8A483.5 483.5 0 0 1 1285.6 3082.4M1287.9 3072.5A480.3 480.3 0 0 1 1286.5 3053.3M1287.9 3072.5L1284.8 3072.8M1287.1 3062.9L1283.9 3063.1M1286.5 3053.3L1283.5 3053.5M1286.8 3072.6A481.4 481.4 0 0 1 1285.5 3053.4M1284.9 3063.1A482.5 482.5 0 0 1 1284.4 3053.5M1285.9 3043.8A480.5 480.5 0 0 1 1291.1 2957.7M1285.9 3043.8L1282.8 3043.9M1285.8 3034.2L1282.5 3034.2M1285.7 3024.6L1282.6 3024.6M1285.9 3015L1283.7 3014.9M1286.3 3005.4L1283.5 3005.3M1286.9 2995.8L1284.2 2995.7M1287.7 2986.3L1285 2986M1288.6 2976.7L1286.8 2976.5M1289.8 2967.2L1286.5 2966.8M1291.1 2957.7L1289.1 2957.4M1284.8 3043.8A481.6 481.6 0 0 1 1290 2957.5M1283.6 3034.2A482.7 482.7 0 0 1 1287.6 2966.9M1282.5 3024.6A483.7 483.7 0 0 1 1287.9 2957.2M1292.1 2948.2A481 481 0 0 1 1314.2 2864.7M1292.1 2948.2L1289.4 2947.7M1293.8 2938.7L1290.9 2938.2M1295.7 2929.3L1292.9 2928.7M1297.8 2919.9L1295.4 2919.4M1300.1 2910.6L1297.2 2909.9M1302.6 2901.3L1299.7 2900.5M1305.2 2892.1L1303.6 2891.6M1308 2882.9L1306.4 2882.4M1311 2873.8L1308.3 2872.8M1314.2 2864.7L1312.2 2864M1292.7 2938.5A482.1 482.1 0 0 1 1313.2 2864.4M1291.7 2938.3A483.2 483.2 0 0 1 1312.2 2864M1651.9 2579.9A463.7 463.7 0 0 1 2008.4 2633.9M1651.9 2579.9L1650.9 2576.1M1724.8 2567.2A464 464 0 0 1 1951 2603.7M1724.8 2567.2L1724.4 2563.2M1925.6 2592.4A465.1 465.1 0 0 1 2144.2 2758.3M1925.6 2592.4L1927 2588.7M1992 2625.2A462.9 462.9 0 0 1 2180.5 2822.9M1992 2625.2L1993.9 2621.7M2142.5 2759.5A463 463 0 0 1 2225.7 2972.6M2142.5 2759.5L2145.8 2757.2M2223 2944.9A464.6 464.6 0 0 1 2207.7 3173.8M2223 2944.9L2227 2944.1M2232.1 3018.6A466 466 0 0 1 2180.4 3242.9M2232.1 3018.6L2236.1 3018.5M2212.6 3165.6A466.8 466.8 0 0 1 2058.1 3393.6M2212.6 3165.6L2216.5 3166.8M2167.3 3267.5A466.5 466.5 0 0 1 2099.3 3355.9M2167.3 3267.5L2170.7 3269.6M2072.3 3381.6A466.7 466.7 0 0 1 1866.3 3485.1M2072.3 3381.6L2074.9 3384.6M1893.3 3477.6A466 466 0 0 1 1618.4 3471.2M1893.3 3477.6L1894.3 3481.5M1820.2 3490.9A464.8 464.8 0 0 1 1592.6 3460.4M1820.2 3490.9L1820.7 3494.9M1670.2 3495.6A476.1 476.1 0 0 1 1562.3 3459.5M1670.2 3495.6L1669.4 3499.5M1597.7 3473.4A475 475 0 0 1 1405.7 3338.5M1597.7 3473.4L1596.2 3477.1M1497.7 3419.9A474 474 0 0 1 1377.4 3300.5M1497.7 3419.9L1495.4 3423.2M1354.8 3270A476.7 476.7 0 0 1 1306.7 2902.5M1354.8 3270L1351.3 3272M1301.7 3128.2A474.9 474.9 0 0 1 1319.9 2866.8M1301.7 3128.2L1297.8 3129.1" fill="none" stroke="#000" stroke-width="1.3"/>
</svg></body></html>
